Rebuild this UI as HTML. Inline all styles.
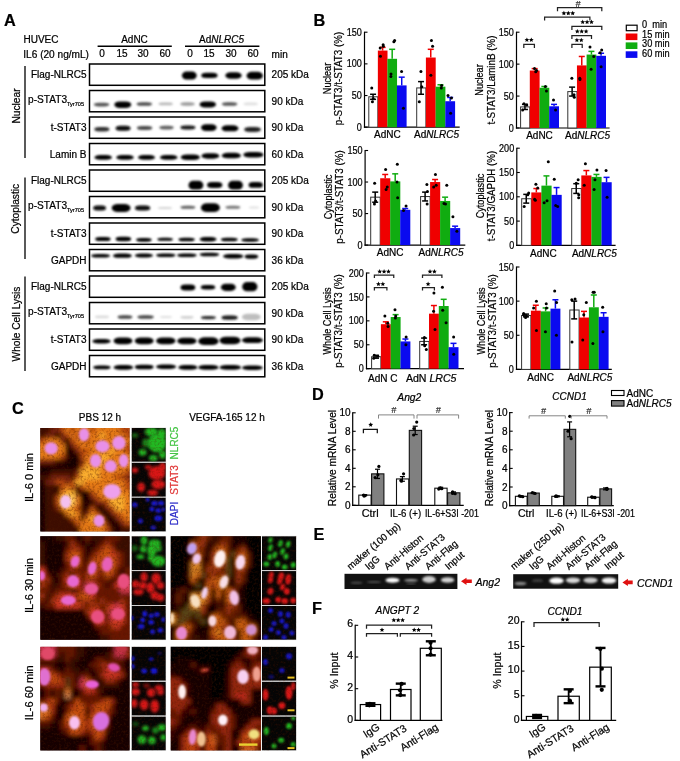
<!DOCTYPE html>
<html><head><meta charset="utf-8"><style>
html,body{margin:0;padding:0;background:#fff;width:680px;height:761px;overflow:hidden;position:relative}
text{font-family:"Liberation Sans", sans-serif}
svg{filter:blur(0.35px)}
</style></head><body>
<svg width="680" height="761" viewBox="0 0 680 761" style="position:absolute;left:0;top:0"><defs><filter id="b1" x="-50%" y="-100%" width="200%" height="300%"><feGaussianBlur stdDeviation="0.95"/></filter><filter id="b2" x="-50%" y="-50%" width="200%" height="200%"><feGaussianBlur stdDeviation="2.5"/></filter><filter id="b3" x="-50%" y="-50%" width="200%" height="200%"><feGaussianBlur stdDeviation="4"/></filter><filter id="b05" x="-50%" y="-50%" width="200%" height="200%"><feGaussianBlur stdDeviation="0.8"/></filter><filter id="pb1" x="-30%" y="-30%" width="160%" height="160%"><feGaussianBlur stdDeviation="1.2"/></filter><filter id="pb2" x="-30%" y="-30%" width="160%" height="160%"><feGaussianBlur stdDeviation="2"/></filter><filter id="pb3" x="-30%" y="-30%" width="160%" height="160%"><feGaussianBlur stdDeviation="3"/></filter><filter id="chb" x="-50%" y="-50%" width="200%" height="200%"><feGaussianBlur stdDeviation="1.5"/></filter><filter id="chs" x="-50%" y="-50%" width="200%" height="200%"><feGaussianBlur stdDeviation="1.1"/></filter><filter id="nb" x="-50%" y="-50%" width="200%" height="200%"><feGaussianBlur stdDeviation="1.0"/></filter><filter id="tex" x="0" y="0" width="100%" height="100%"><feTurbulence type="fractalNoise" baseFrequency="0.42" numOctaves="2" seed="7"/><feColorMatrix type="matrix" values="0 0 0 0 0.08  0 0 0 0 0.01  0 0 0 0 0  0 0 0 -2.5 1.35"/><feGaussianBlur stdDeviation="0.45"/></filter></defs><rect x="0.00" y="0.00" width="680.00" height="761.00" fill="#fff" stroke="none" stroke-width="1"/><text x="4.00" y="26.30" font-size="16.3" text-anchor="start" font-weight="bold" font-style="normal" fill="#000" stroke="#000" stroke-width="0.22">A</text><text x="23.50" y="42.50" font-size="10" text-anchor="start" font-weight="normal" font-style="normal" fill="#000" stroke="#000" stroke-width="0.22">HUVEC</text><text x="23.30" y="57.80" font-size="10.1" text-anchor="start" font-weight="normal" font-style="normal" fill="#000" stroke="#000" stroke-width="0.22">IL6 (20 ng/mL)</text><text x="134.50" y="42.50" font-size="10" text-anchor="middle" font-weight="normal" font-style="normal" fill="#000" stroke="#000" stroke-width="0.22">AdNC</text><line x1="97.60" y1="46.20" x2="171.80" y2="46.20" stroke="#000" stroke-width="1.4"/><text x="221.5" y="42.5" font-size="10" text-anchor="middle" stroke="#000" stroke-width="0.22">Ad<tspan font-style="italic">NLRC5</tspan></text><line x1="185.00" y1="46.20" x2="259.40" y2="46.20" stroke="#000" stroke-width="1.4"/><text x="102.00" y="57.40" font-size="10" text-anchor="middle" font-weight="normal" font-style="normal" fill="#000" stroke="#000" stroke-width="0.22">0</text><text x="122.00" y="57.40" font-size="10" text-anchor="middle" font-weight="normal" font-style="normal" fill="#000" stroke="#000" stroke-width="0.22">15</text><text x="143.00" y="57.40" font-size="10" text-anchor="middle" font-weight="normal" font-style="normal" fill="#000" stroke="#000" stroke-width="0.22">30</text><text x="165.00" y="57.40" font-size="10" text-anchor="middle" font-weight="normal" font-style="normal" fill="#000" stroke="#000" stroke-width="0.22">60</text><text x="190.00" y="57.40" font-size="10" text-anchor="middle" font-weight="normal" font-style="normal" fill="#000" stroke="#000" stroke-width="0.22">0</text><text x="209.00" y="57.40" font-size="10" text-anchor="middle" font-weight="normal" font-style="normal" fill="#000" stroke="#000" stroke-width="0.22">15</text><text x="231.00" y="57.40" font-size="10" text-anchor="middle" font-weight="normal" font-style="normal" fill="#000" stroke="#000" stroke-width="0.22">30</text><text x="253.00" y="57.40" font-size="10" text-anchor="middle" font-weight="normal" font-style="normal" fill="#000" stroke="#000" stroke-width="0.22">60</text><text x="271.60" y="57.50" font-size="10" text-anchor="start" font-weight="normal" font-style="normal" fill="#000" stroke="#000" stroke-width="0.22">min</text><g clip-path="url(#clipb0)"><clipPath id="clipb0"><rect x="89.5" y="64.0" width="175.3" height="21.3"/></clipPath><rect x="181.91" y="71.48" width="14.79" height="8.03" rx="4.73" ry="4.02" fill="rgb(0,0,0)" filter="url(#b1)"/><rect x="201.24" y="72.87" width="16.32" height="5.06" rx="5.22" ry="2.53" fill="rgb(0,0,0)" filter="url(#b1)"/><rect x="225.34" y="72.20" width="16.32" height="6.60" rx="5.22" ry="3.30" fill="rgb(0,0,0)" filter="url(#b1)"/><rect x="246.54" y="71.85" width="16.32" height="7.70" rx="5.22" ry="3.85" fill="rgb(0,0,0)" filter="url(#b1)"/></g><rect x="89.50" y="64.00" width="175.30" height="21.30" fill="none" stroke="#000" stroke-width="1.5"/><text x="86.50" y="78.25" font-size="10" text-anchor="end" font-weight="normal" font-style="normal" fill="#000" stroke="#000" stroke-width="0.22">Flag-NLRC5</text><text x="271.60" y="78.25" font-size="10" text-anchor="start" font-weight="normal" font-style="normal" fill="#000" stroke="#000" stroke-width="0.22">205 kDa</text><g clip-path="url(#clipb1)"><clipPath id="clipb1"><rect x="89.5" y="90.5" width="175.3" height="21.3"/></clipPath><rect x="93.95" y="102.78" width="15.30" height="3.63" rx="4.90" ry="1.81" fill="rgb(85,85,85)" filter="url(#b1)"/><rect x="114.38" y="101.40" width="16.83" height="6.60" rx="5.39" ry="3.30" fill="rgb(0,0,0)" filter="url(#b1)"/><rect x="136.65" y="102.19" width="15.30" height="3.63" rx="4.90" ry="1.81" fill="rgb(75,75,75)" filter="url(#b1)"/><rect x="158.56" y="102.62" width="14.28" height="2.75" rx="4.57" ry="1.38" fill="rgb(183,183,183)" filter="url(#b1)"/><rect x="180.36" y="102.35" width="14.28" height="3.30" rx="4.57" ry="1.65" fill="rgb(155,155,155)" filter="url(#b1)"/><rect x="199.64" y="101.38" width="16.32" height="6.05" rx="5.22" ry="3.03" fill="rgb(0,0,0)" filter="url(#b1)"/><rect x="221.95" y="102.19" width="15.30" height="3.63" rx="4.90" ry="1.81" fill="rgb(85,85,85)" filter="url(#b1)"/><rect x="243.56" y="102.62" width="14.28" height="2.75" rx="4.57" ry="1.38" fill="rgb(223,223,223)" filter="url(#b1)"/></g><rect x="89.50" y="90.50" width="175.30" height="21.30" fill="none" stroke="#000" stroke-width="1.5"/><text x="84" y="103.35" font-size="10.1" text-anchor="end" stroke="#000" stroke-width="0.22">p-STAT3<tspan font-size="6.0" dy="2.6" textLength="17" lengthAdjust="spacingAndGlyphs">Tyr705</tspan></text><text x="271.60" y="104.75" font-size="10" text-anchor="start" font-weight="normal" font-style="normal" fill="#000" stroke="#000" stroke-width="0.22">90 kDa</text><g clip-path="url(#clipb2)"><clipPath id="clipb2"><rect x="89.5" y="117.0" width="175.3" height="21.3"/></clipPath><rect x="94.45" y="127.00" width="14.89" height="4.40" rx="4.77" ry="2.20" fill="rgb(51,51,51)" filter="url(#b1)"/><rect x="115.65" y="125.67" width="14.89" height="5.06" rx="4.77" ry="2.53" fill="rgb(8,8,8)" filter="url(#b1)"/><rect x="136.95" y="126.08" width="15.30" height="3.85" rx="4.90" ry="1.93" fill="rgb(75,75,75)" filter="url(#b1)"/><rect x="159.36" y="125.67" width="14.28" height="3.85" rx="4.57" ry="1.93" fill="rgb(96,96,96)" filter="url(#b1)"/><rect x="180.45" y="125.58" width="14.89" height="3.85" rx="4.77" ry="1.93" fill="rgb(21,21,21)" filter="url(#b1)"/><rect x="201.00" y="124.30" width="15.61" height="6.60" rx="4.99" ry="3.30" fill="rgb(0,0,0)" filter="url(#b1)"/><rect x="221.59" y="125.28" width="16.83" height="6.05" rx="5.39" ry="3.03" fill="rgb(0,0,0)" filter="url(#b1)"/><rect x="244.09" y="127.12" width="16.83" height="4.95" rx="5.39" ry="2.48" fill="rgb(36,36,36)" filter="url(#b1)"/></g><rect x="89.50" y="117.00" width="175.30" height="21.30" fill="none" stroke="#000" stroke-width="1.5"/><text x="86.50" y="131.25" font-size="10" text-anchor="end" font-weight="normal" font-style="normal" fill="#000" stroke="#000" stroke-width="0.22">t-STAT3</text><text x="271.60" y="131.25" font-size="10" text-anchor="start" font-weight="normal" font-style="normal" fill="#000" stroke="#000" stroke-width="0.22">90 kDa</text><g clip-path="url(#clipb3)"><clipPath id="clipb3"><rect x="89.5" y="143.5" width="175.3" height="21.3"/></clipPath><rect x="94.53" y="154.98" width="17.34" height="4.84" rx="5.55" ry="2.42" fill="rgb(0,0,0)" filter="url(#b1)"/><rect x="116.33" y="154.98" width="17.34" height="4.84" rx="5.55" ry="2.42" fill="rgb(0,0,0)" filter="url(#b1)"/><rect x="138.09" y="154.98" width="16.83" height="4.84" rx="5.39" ry="2.42" fill="rgb(0,0,0)" filter="url(#b1)"/><rect x="160.03" y="154.98" width="17.34" height="4.84" rx="5.55" ry="2.42" fill="rgb(0,0,0)" filter="url(#b1)"/><rect x="180.81" y="154.55" width="18.97" height="5.50" rx="6.07" ry="2.75" fill="rgb(0,0,0)" filter="url(#b1)"/><rect x="201.47" y="153.15" width="17.85" height="5.50" rx="5.71" ry="2.75" fill="rgb(0,0,0)" filter="url(#b1)"/><rect x="221.61" y="152.85" width="19.38" height="5.50" rx="6.20" ry="2.75" fill="rgb(0,0,0)" filter="url(#b1)"/><rect x="243.30" y="151.95" width="20.20" height="5.50" rx="6.46" ry="2.75" fill="rgb(0,0,0)" filter="url(#b1)"/></g><rect x="89.50" y="143.50" width="175.30" height="21.30" fill="none" stroke="#000" stroke-width="1.5"/><text x="86.50" y="157.75" font-size="10" text-anchor="end" font-weight="normal" font-style="normal" fill="#000" stroke="#000" stroke-width="0.22">Lamin B</text><text x="271.60" y="157.75" font-size="10" text-anchor="start" font-weight="normal" font-style="normal" fill="#000" stroke="#000" stroke-width="0.22">60 kDa</text><g clip-path="url(#clipb4)"><clipPath id="clipb4"><rect x="89.5" y="170.0" width="175.3" height="21.3"/></clipPath><rect x="188.50" y="180.80" width="14.79" height="8.80" rx="4.73" ry="4.40" fill="rgb(0,0,0)" filter="url(#b1)"/><rect x="207.05" y="181.88" width="15.30" height="6.05" rx="4.90" ry="3.03" fill="rgb(0,0,0)" filter="url(#b1)"/><rect x="228.10" y="180.80" width="14.79" height="8.80" rx="4.73" ry="4.40" fill="rgb(0,0,0)" filter="url(#b1)"/><rect x="248.56" y="181.99" width="14.28" height="5.83" rx="4.57" ry="2.92" fill="rgb(0,0,0)" filter="url(#b1)"/></g><rect x="89.50" y="170.00" width="175.30" height="21.30" fill="none" stroke="#000" stroke-width="1.5"/><text x="86.50" y="184.25" font-size="10" text-anchor="end" font-weight="normal" font-style="normal" fill="#000" stroke="#000" stroke-width="0.22">Flag-NLRC5</text><text x="271.60" y="184.25" font-size="10" text-anchor="start" font-weight="normal" font-style="normal" fill="#000" stroke="#000" stroke-width="0.22">205 kDa</text><g clip-path="url(#clipb5)"><clipPath id="clipb5"><rect x="89.5" y="196.5" width="175.3" height="21.3"/></clipPath><rect x="93.17" y="205.47" width="12.85" height="5.06" rx="4.11" ry="2.53" fill="rgb(8,8,8)" filter="url(#b1)"/><rect x="111.66" y="203.99" width="18.87" height="8.03" rx="6.04" ry="4.02" fill="rgb(0,0,0)" filter="url(#b1)"/><rect x="134.95" y="205.47" width="15.30" height="5.06" rx="4.90" ry="2.53" fill="rgb(8,8,8)" filter="url(#b1)"/><rect x="157.86" y="206.90" width="14.28" height="2.20" rx="4.57" ry="1.10" fill="rgb(211,211,211)" filter="url(#b1)"/><rect x="180.50" y="205.76" width="14.79" height="3.08" rx="4.73" ry="1.54" fill="rgb(96,96,96)" filter="url(#b1)"/><rect x="200.91" y="203.30" width="18.97" height="8.80" rx="6.07" ry="4.40" fill="rgb(0,0,0)" filter="url(#b1)"/><rect x="225.50" y="205.76" width="14.79" height="3.08" rx="4.73" ry="1.54" fill="rgb(118,118,118)" filter="url(#b1)"/><rect x="248.90" y="206.40" width="10.20" height="2.20" rx="3.26" ry="1.10" fill="rgb(223,223,223)" filter="url(#b1)"/></g><rect x="89.50" y="196.50" width="175.30" height="21.30" fill="none" stroke="#000" stroke-width="1.5"/><text x="84" y="209.35" font-size="10.1" text-anchor="end" stroke="#000" stroke-width="0.22">p-STAT3<tspan font-size="6.0" dy="2.6" textLength="17" lengthAdjust="spacingAndGlyphs">Tyr705</tspan></text><text x="271.60" y="210.75" font-size="10" text-anchor="start" font-weight="normal" font-style="normal" fill="#000" stroke="#000" stroke-width="0.22">90 kDa</text><g clip-path="url(#clipb6)"><clipPath id="clipb6"><rect x="89.5" y="223.0" width="175.3" height="21.3"/></clipPath><rect x="95.15" y="236.97" width="15.50" height="4.07" rx="4.96" ry="2.04" fill="rgb(0,0,0)" filter="url(#b1)"/><rect x="115.65" y="236.80" width="15.50" height="4.40" rx="4.96" ry="2.20" fill="rgb(0,0,0)" filter="url(#b1)"/><rect x="136.15" y="237.88" width="15.50" height="3.85" rx="4.96" ry="1.93" fill="rgb(0,0,0)" filter="url(#b1)"/><rect x="157.35" y="237.66" width="15.50" height="3.08" rx="4.96" ry="1.54" fill="rgb(0,0,0)" filter="url(#b1)"/><rect x="178.44" y="237.69" width="16.32" height="3.63" rx="5.22" ry="1.81" fill="rgb(0,0,0)" filter="url(#b1)"/><rect x="199.63" y="237.00" width="16.93" height="4.40" rx="5.42" ry="2.20" fill="rgb(0,0,0)" filter="url(#b1)"/><rect x="220.89" y="237.69" width="16.83" height="3.63" rx="5.39" ry="1.81" fill="rgb(0,0,0)" filter="url(#b1)"/><rect x="241.33" y="238.35" width="17.54" height="3.30" rx="5.61" ry="1.65" fill="rgb(0,0,0)" filter="url(#b1)"/></g><rect x="89.50" y="223.00" width="175.30" height="21.30" fill="none" stroke="#000" stroke-width="1.5"/><text x="86.50" y="237.25" font-size="10" text-anchor="end" font-weight="normal" font-style="normal" fill="#000" stroke="#000" stroke-width="0.22">t-STAT3</text><text x="271.60" y="237.25" font-size="10" text-anchor="start" font-weight="normal" font-style="normal" fill="#000" stroke="#000" stroke-width="0.22">90 kDa</text><g clip-path="url(#clipb7)"><clipPath id="clipb7"><rect x="89.5" y="249.5" width="175.3" height="21.3"/></clipPath><rect x="91.16" y="253.94" width="18.87" height="3.52" rx="6.04" ry="1.76" fill="rgb(0,0,0)" filter="url(#b1)"/><rect x="112.91" y="253.61" width="18.97" height="4.18" rx="6.07" ry="2.09" fill="rgb(0,0,0)" filter="url(#b1)"/><rect x="134.82" y="253.57" width="18.16" height="3.85" rx="5.81" ry="1.93" fill="rgb(0,0,0)" filter="url(#b1)"/><rect x="156.11" y="253.38" width="19.38" height="3.63" rx="6.20" ry="1.81" fill="rgb(0,0,0)" filter="url(#b1)"/><rect x="177.11" y="253.38" width="19.58" height="3.63" rx="6.27" ry="1.81" fill="rgb(0,0,0)" filter="url(#b1)"/><rect x="199.61" y="252.69" width="19.58" height="3.63" rx="6.27" ry="1.81" fill="rgb(0,0,0)" filter="url(#b1)"/><rect x="223.00" y="254.10" width="20.40" height="4.40" rx="6.53" ry="2.20" fill="rgb(0,0,0)" filter="url(#b1)"/><rect x="244.67" y="254.57" width="13.46" height="4.07" rx="4.31" ry="2.04" fill="rgb(0,0,0)" filter="url(#b1)"/></g><rect x="89.50" y="249.50" width="175.30" height="21.30" fill="none" stroke="#000" stroke-width="1.5"/><text x="86.50" y="263.75" font-size="10" text-anchor="end" font-weight="normal" font-style="normal" fill="#000" stroke="#000" stroke-width="0.22">GAPDH</text><text x="271.60" y="263.75" font-size="10" text-anchor="start" font-weight="normal" font-style="normal" fill="#000" stroke="#000" stroke-width="0.22">36 kDa</text><g clip-path="url(#clipb8)"><clipPath id="clipb8"><rect x="89.5" y="276.0" width="175.3" height="21.3"/></clipPath><rect x="180.50" y="284.58" width="14.79" height="5.83" rx="4.73" ry="2.92" fill="rgb(0,0,0)" filter="url(#b1)"/><rect x="200.86" y="285.10" width="14.28" height="4.40" rx="4.57" ry="2.20" fill="rgb(0,0,0)" filter="url(#b1)"/><rect x="220.91" y="283.67" width="14.79" height="7.26" rx="4.73" ry="3.63" fill="rgb(0,0,0)" filter="url(#b1)"/><rect x="242.15" y="282.08" width="15.30" height="9.24" rx="4.90" ry="4.62" fill="rgb(0,0,0)" filter="url(#b1)"/></g><rect x="89.50" y="276.00" width="175.30" height="21.30" fill="none" stroke="#000" stroke-width="1.5"/><text x="86.50" y="290.25" font-size="10" text-anchor="end" font-weight="normal" font-style="normal" fill="#000" stroke="#000" stroke-width="0.22">Flag-NLRC5</text><text x="271.60" y="290.25" font-size="10" text-anchor="start" font-weight="normal" font-style="normal" fill="#000" stroke="#000" stroke-width="0.22">205 kDa</text><g clip-path="url(#clipb9)"><clipPath id="clipb9"><rect x="89.5" y="302.5" width="175.3" height="21.3"/></clipPath><rect x="94.86" y="315.62" width="14.28" height="2.75" rx="4.57" ry="1.38" fill="rgb(219,219,219)" filter="url(#b1)"/><rect x="117.61" y="315.19" width="14.79" height="3.63" rx="4.73" ry="1.81" fill="rgb(71,71,71)" filter="url(#b1)"/><rect x="137.44" y="315.19" width="16.32" height="3.63" rx="5.22" ry="1.81" fill="rgb(71,71,71)" filter="url(#b1)"/><rect x="159.88" y="315.90" width="12.24" height="2.20" rx="3.92" ry="1.10" fill="rgb(223,223,223)" filter="url(#b1)"/><rect x="180.37" y="315.93" width="13.26" height="2.75" rx="4.24" ry="1.38" fill="rgb(207,207,207)" filter="url(#b1)"/><rect x="200.95" y="316.06" width="14.89" height="3.08" rx="4.77" ry="1.54" fill="rgb(45,45,45)" filter="url(#b1)"/><rect x="221.54" y="315.40" width="16.12" height="4.40" rx="5.16" ry="2.20" fill="rgb(26,26,26)" filter="url(#b1)"/><rect x="241.87" y="313.70" width="18.87" height="6.60" rx="6.04" ry="3.30" fill="rgb(190,190,190)" filter="url(#b1)"/></g><rect x="89.50" y="302.50" width="175.30" height="21.30" fill="none" stroke="#000" stroke-width="1.5"/><text x="84" y="315.35" font-size="10.1" text-anchor="end" stroke="#000" stroke-width="0.22">p-STAT3<tspan font-size="6.0" dy="2.6" textLength="17" lengthAdjust="spacingAndGlyphs">Tyr705</tspan></text><text x="271.60" y="316.75" font-size="10" text-anchor="start" font-weight="normal" font-style="normal" fill="#000" stroke="#000" stroke-width="0.22">90 kDa</text><g clip-path="url(#clipb10)"><clipPath id="clipb10"><rect x="89.5" y="329.0" width="175.3" height="21.3"/></clipPath><rect x="92.32" y="339.00" width="18.36" height="4.40" rx="5.88" ry="2.20" fill="rgb(0,0,0)" filter="url(#b1)"/><rect x="113.56" y="337.60" width="18.87" height="6.60" rx="6.04" ry="3.30" fill="rgb(0,0,0)" filter="url(#b1)"/><rect x="134.76" y="337.60" width="18.87" height="6.60" rx="6.04" ry="3.30" fill="rgb(0,0,0)" filter="url(#b1)"/><rect x="156.11" y="337.60" width="19.38" height="6.60" rx="6.20" ry="3.30" fill="rgb(0,0,0)" filter="url(#b1)"/><rect x="177.21" y="337.87" width="19.38" height="6.27" rx="6.20" ry="3.14" fill="rgb(0,0,0)" filter="url(#b1)"/><rect x="198.30" y="337.35" width="20.20" height="7.70" rx="6.46" ry="3.85" fill="rgb(0,0,0)" filter="url(#b1)"/><rect x="219.54" y="336.65" width="20.91" height="7.70" rx="6.69" ry="3.85" fill="rgb(0,0,0)" filter="url(#b1)"/><rect x="241.94" y="337.28" width="20.91" height="5.83" rx="6.69" ry="2.92" fill="rgb(0,0,0)" filter="url(#b1)"/></g><rect x="89.50" y="329.00" width="175.30" height="21.30" fill="none" stroke="#000" stroke-width="1.5"/><text x="86.50" y="343.25" font-size="10" text-anchor="end" font-weight="normal" font-style="normal" fill="#000" stroke="#000" stroke-width="0.22">t-STAT3</text><text x="271.60" y="343.25" font-size="10" text-anchor="start" font-weight="normal" font-style="normal" fill="#000" stroke="#000" stroke-width="0.22">90 kDa</text><g clip-path="url(#clipb11)"><clipPath id="clipb11"><rect x="89.5" y="355.5" width="175.3" height="21.3"/></clipPath><rect x="93.23" y="365.58" width="17.34" height="3.63" rx="5.55" ry="1.81" fill="rgb(0,0,0)" filter="url(#b1)"/><rect x="113.71" y="365.03" width="19.38" height="4.73" rx="6.20" ry="2.37" fill="rgb(0,0,0)" filter="url(#b1)"/><rect x="134.76" y="364.63" width="18.87" height="4.73" rx="6.04" ry="2.37" fill="rgb(0,0,0)" filter="url(#b1)"/><rect x="156.00" y="364.60" width="20.20" height="4.40" rx="6.46" ry="2.20" fill="rgb(0,0,0)" filter="url(#b1)"/><rect x="178.41" y="365.03" width="18.97" height="4.73" rx="6.07" ry="2.37" fill="rgb(0,0,0)" filter="url(#b1)"/><rect x="198.30" y="365.03" width="20.20" height="4.73" rx="6.46" ry="2.37" fill="rgb(0,0,0)" filter="url(#b1)"/><rect x="219.59" y="365.03" width="21.42" height="4.73" rx="6.85" ry="2.37" fill="rgb(0,0,0)" filter="url(#b1)"/><rect x="241.94" y="365.50" width="20.91" height="4.40" rx="6.69" ry="2.20" fill="rgb(0,0,0)" filter="url(#b1)"/></g><rect x="89.50" y="355.50" width="175.30" height="21.30" fill="none" stroke="#000" stroke-width="1.5"/><text x="86.50" y="369.75" font-size="10" text-anchor="end" font-weight="normal" font-style="normal" fill="#000" stroke="#000" stroke-width="0.22">GAPDH</text><text x="271.60" y="369.75" font-size="10" text-anchor="start" font-weight="normal" font-style="normal" fill="#000" stroke="#000" stroke-width="0.22">36 kDa</text><line x1="25.00" y1="66.00" x2="25.00" y2="158.00" stroke="#000" stroke-width="1.3"/><line x1="25.00" y1="177.60" x2="25.00" y2="259.00" stroke="#000" stroke-width="1.3"/><line x1="25.00" y1="276.60" x2="25.00" y2="371.00" stroke="#000" stroke-width="1.3"/><text x="19.50" y="106.00" font-size="10.2" text-anchor="middle" font-weight="normal" font-style="normal" fill="#000" stroke="#000" stroke-width="0.22" transform="rotate(-90 19.5 106)">Nuclear</text><text x="19.50" y="208.80" font-size="10.2" text-anchor="middle" font-weight="normal" font-style="normal" fill="#000" stroke="#000" stroke-width="0.22" transform="rotate(-90 19.5 208.8)">Cytoplastic</text><text x="19.50" y="324.00" font-size="10.2" text-anchor="middle" font-weight="normal" font-style="normal" fill="#000" stroke="#000" stroke-width="0.22" transform="rotate(-90 19.5 324)">Whole Cell Lysis</text><text x="313.50" y="25.80" font-size="16.3" text-anchor="start" font-weight="bold" font-style="normal" fill="#000" stroke="#000" stroke-width="0.22">B</text><line x1="364.50" y1="31.70" x2="364.50" y2="127.80" stroke="#000" stroke-width="1.2"/><line x1="363.90" y1="127.20" x2="459.70" y2="127.20" stroke="#000" stroke-width="1.2"/><line x1="364.50" y1="127.20" x2="367.50" y2="127.20" stroke="#000" stroke-width="1.1"/><text x="361.90" y="130.80" font-size="10.3" text-anchor="end" font-weight="normal" font-style="normal" fill="#000" stroke="#000" stroke-width="0.22" textLength="5.04" lengthAdjust="spacingAndGlyphs">0</text><line x1="364.50" y1="95.53" x2="367.50" y2="95.53" stroke="#000" stroke-width="1.1"/><text x="361.90" y="99.13" font-size="10.3" text-anchor="end" font-weight="normal" font-style="normal" fill="#000" stroke="#000" stroke-width="0.22" textLength="10.08" lengthAdjust="spacingAndGlyphs">50</text><line x1="364.50" y1="63.87" x2="367.50" y2="63.87" stroke="#000" stroke-width="1.1"/><text x="361.90" y="67.47" font-size="10.3" text-anchor="end" font-weight="normal" font-style="normal" fill="#000" stroke="#000" stroke-width="0.22" textLength="15.12" lengthAdjust="spacingAndGlyphs">100</text><line x1="364.50" y1="32.20" x2="367.50" y2="32.20" stroke="#000" stroke-width="1.1"/><text x="361.90" y="35.80" font-size="10.3" text-anchor="end" font-weight="normal" font-style="normal" fill="#000" stroke="#000" stroke-width="0.22" textLength="15.12" lengthAdjust="spacingAndGlyphs">150</text><rect x="368.80" y="96.80" width="9.05" height="30.40" fill="#fff" stroke="#333" stroke-width="1.0"/><line x1="373.07" y1="96.80" x2="373.07" y2="94.27" stroke="#000" stroke-width="1.5"/><line x1="370.07" y1="94.27" x2="376.07" y2="94.27" stroke="#000" stroke-width="1.5"/><line x1="373.07" y1="96.80" x2="373.07" y2="99.33" stroke="#000" stroke-width="1.5"/><line x1="370.07" y1="99.33" x2="376.07" y2="99.33" stroke="#000" stroke-width="1.5"/><circle cx="371.76" cy="87.93" r="1.5" fill="#000"/><circle cx="373.30" cy="98.70" r="1.5" fill="#000"/><circle cx="372.42" cy="101.87" r="1.5" fill="#000"/><rect x="377.85" y="50.57" width="9.65" height="76.63" fill="#f00000" stroke="none" stroke-width="1"/><line x1="382.62" y1="50.57" x2="382.62" y2="47.40" stroke="#f00000" stroke-width="1.5"/><line x1="379.62" y1="47.40" x2="385.62" y2="47.40" stroke="#f00000" stroke-width="1.5"/><circle cx="383.14" cy="44.87" r="1.5" fill="#000"/><circle cx="383.25" cy="46.13" r="1.5" fill="#000"/><circle cx="380.45" cy="56.27" r="1.5" fill="#000"/><circle cx="380.19" cy="48.03" r="1.5" fill="#000"/><rect x="387.40" y="58.80" width="9.65" height="68.40" fill="#10ac10" stroke="none" stroke-width="1"/><line x1="392.18" y1="58.80" x2="392.18" y2="49.30" stroke="#10ac10" stroke-width="1.5"/><line x1="389.18" y1="49.30" x2="395.18" y2="49.30" stroke="#10ac10" stroke-width="1.5"/><circle cx="393.86" cy="41.70" r="1.5" fill="#000"/><circle cx="390.97" cy="74.00" r="1.5" fill="#000"/><circle cx="390.85" cy="76.53" r="1.5" fill="#000"/><circle cx="394.65" cy="40.43" r="1.5" fill="#000"/><rect x="396.95" y="85.40" width="9.65" height="41.80" fill="#0a0af0" stroke="none" stroke-width="1"/><line x1="401.72" y1="85.40" x2="401.72" y2="77.17" stroke="#0a0af0" stroke-width="1.5"/><line x1="398.72" y1="77.17" x2="404.72" y2="77.17" stroke="#0a0af0" stroke-width="1.5"/><circle cx="401.58" cy="71.47" r="1.5" fill="#000"/><circle cx="403.41" cy="108.20" r="1.5" fill="#000"/><rect x="416.70" y="87.93" width="9.20" height="39.27" fill="#fff" stroke="#333" stroke-width="1.0"/><line x1="421.05" y1="87.93" x2="421.05" y2="81.60" stroke="#000" stroke-width="1.5"/><line x1="418.05" y1="81.60" x2="424.05" y2="81.60" stroke="#000" stroke-width="1.5"/><line x1="421.05" y1="87.93" x2="421.05" y2="94.27" stroke="#000" stroke-width="1.5"/><line x1="418.05" y1="94.27" x2="424.05" y2="94.27" stroke="#000" stroke-width="1.5"/><circle cx="420.93" cy="71.47" r="1.5" fill="#000"/><circle cx="421.75" cy="86.67" r="1.5" fill="#000"/><circle cx="419.30" cy="101.87" r="1.5" fill="#000"/><rect x="425.90" y="57.53" width="9.80" height="69.67" fill="#f00000" stroke="none" stroke-width="1"/><line x1="430.75" y1="57.53" x2="430.75" y2="49.30" stroke="#f00000" stroke-width="1.5"/><line x1="427.75" y1="49.30" x2="433.75" y2="49.30" stroke="#f00000" stroke-width="1.5"/><circle cx="431.42" cy="40.43" r="1.5" fill="#000"/><circle cx="432.59" cy="46.13" r="1.5" fill="#000"/><circle cx="430.87" cy="75.27" r="1.5" fill="#000"/><rect x="435.60" y="86.67" width="9.80" height="40.53" fill="#10ac10" stroke="none" stroke-width="1"/><line x1="440.45" y1="86.67" x2="440.45" y2="84.77" stroke="#10ac10" stroke-width="1.5"/><line x1="437.45" y1="84.77" x2="443.45" y2="84.77" stroke="#10ac10" stroke-width="1.5"/><circle cx="441.66" cy="85.40" r="1.5" fill="#000"/><circle cx="441.31" cy="87.93" r="1.5" fill="#000"/><rect x="445.30" y="101.23" width="9.80" height="25.97" fill="#0a0af0" stroke="none" stroke-width="1"/><line x1="450.15" y1="101.23" x2="450.15" y2="97.43" stroke="#0a0af0" stroke-width="1.5"/><line x1="447.15" y1="97.43" x2="453.15" y2="97.43" stroke="#0a0af0" stroke-width="1.5"/><circle cx="447.97" cy="95.53" r="1.5" fill="#000"/><circle cx="451.44" cy="98.07" r="1.5" fill="#000"/><circle cx="450.61" cy="113.27" r="1.5" fill="#000"/><text x="387.40" y="137.60" font-size="10" text-anchor="middle" font-weight="normal" font-style="normal" fill="#000" stroke="#000" stroke-width="0.22">AdNC</text><text x="436.60" y="137.6" font-size="10" text-anchor="middle" stroke="#000" stroke-width="0.22">Ad<tspan font-style="italic">NLRC5</tspan></text><text x="331.20" y="78.50" font-size="10.486" text-anchor="middle" font-weight="normal" font-style="normal" fill="#000" stroke="#000" stroke-width="0.22" transform="rotate(-90 331.2 78.5)" textLength="31.40" lengthAdjust="spacingAndGlyphs">Nuclear</text><text x="342.30" y="78.50" font-size="10.486" text-anchor="middle" font-weight="normal" font-style="normal" fill="#000" stroke="#000" stroke-width="0.22" transform="rotate(-90 342.3 78.5)" textLength="93.46" lengthAdjust="spacingAndGlyphs">p-STAT3/t-STAT3 (%)</text><line x1="516.50" y1="31.70" x2="516.50" y2="128.60" stroke="#000" stroke-width="1.2"/><line x1="515.90" y1="128.00" x2="609.60" y2="128.00" stroke="#000" stroke-width="1.2"/><line x1="516.50" y1="128.00" x2="519.50" y2="128.00" stroke="#000" stroke-width="1.1"/><text x="513.90" y="131.60" font-size="10.3" text-anchor="end" font-weight="normal" font-style="normal" fill="#000" stroke="#000" stroke-width="0.22" textLength="5.04" lengthAdjust="spacingAndGlyphs">0</text><line x1="516.50" y1="96.07" x2="519.50" y2="96.07" stroke="#000" stroke-width="1.1"/><text x="513.90" y="99.67" font-size="10.3" text-anchor="end" font-weight="normal" font-style="normal" fill="#000" stroke="#000" stroke-width="0.22" textLength="10.08" lengthAdjust="spacingAndGlyphs">50</text><line x1="516.50" y1="64.13" x2="519.50" y2="64.13" stroke="#000" stroke-width="1.1"/><text x="513.90" y="67.73" font-size="10.3" text-anchor="end" font-weight="normal" font-style="normal" fill="#000" stroke="#000" stroke-width="0.22" textLength="15.12" lengthAdjust="spacingAndGlyphs">100</text><line x1="516.50" y1="32.20" x2="519.50" y2="32.20" stroke="#000" stroke-width="1.1"/><text x="513.90" y="35.80" font-size="10.3" text-anchor="end" font-weight="normal" font-style="normal" fill="#000" stroke="#000" stroke-width="0.22" textLength="15.12" lengthAdjust="spacingAndGlyphs">150</text><rect x="520.60" y="106.92" width="9.20" height="21.08" fill="#fff" stroke="#333" stroke-width="1.0"/><line x1="524.95" y1="106.92" x2="524.95" y2="104.37" stroke="#000" stroke-width="1.5"/><line x1="521.95" y1="104.37" x2="527.95" y2="104.37" stroke="#000" stroke-width="1.5"/><line x1="524.95" y1="106.92" x2="524.95" y2="109.48" stroke="#000" stroke-width="1.5"/><line x1="521.95" y1="109.48" x2="527.95" y2="109.48" stroke="#000" stroke-width="1.5"/><circle cx="523.96" cy="103.73" r="1.5" fill="#000"/><circle cx="522.61" cy="110.12" r="1.5" fill="#000"/><circle cx="526.78" cy="105.01" r="1.5" fill="#000"/><rect x="529.80" y="70.52" width="9.80" height="57.48" fill="#f00000" stroke="none" stroke-width="1"/><line x1="534.65" y1="70.52" x2="534.65" y2="68.60" stroke="#f00000" stroke-width="1.5"/><line x1="531.65" y1="68.60" x2="537.65" y2="68.60" stroke="#f00000" stroke-width="1.5"/><circle cx="534.51" cy="68.60" r="1.5" fill="#000"/><circle cx="535.74" cy="71.80" r="1.5" fill="#000"/><circle cx="536.54" cy="70.52" r="1.5" fill="#000"/><rect x="539.50" y="87.76" width="9.80" height="40.24" fill="#10ac10" stroke="none" stroke-width="1"/><line x1="544.35" y1="87.76" x2="544.35" y2="86.49" stroke="#10ac10" stroke-width="1.5"/><line x1="541.35" y1="86.49" x2="547.35" y2="86.49" stroke="#10ac10" stroke-width="1.5"/><circle cx="545.42" cy="86.49" r="1.5" fill="#000"/><circle cx="546.46" cy="90.96" r="1.5" fill="#000"/><rect x="549.20" y="106.29" width="9.80" height="21.71" fill="#0a0af0" stroke="none" stroke-width="1"/><line x1="554.05" y1="106.29" x2="554.05" y2="104.37" stroke="#0a0af0" stroke-width="1.5"/><line x1="551.05" y1="104.37" x2="557.05" y2="104.37" stroke="#0a0af0" stroke-width="1.5"/><circle cx="553.52" cy="99.90" r="1.5" fill="#000"/><circle cx="555.55" cy="110.12" r="1.5" fill="#000"/><rect x="567.80" y="91.60" width="9.15" height="36.40" fill="#fff" stroke="#333" stroke-width="1.0"/><line x1="572.12" y1="91.60" x2="572.12" y2="87.13" stroke="#000" stroke-width="1.5"/><line x1="569.12" y1="87.13" x2="575.12" y2="87.13" stroke="#000" stroke-width="1.5"/><line x1="572.12" y1="91.60" x2="572.12" y2="96.07" stroke="#000" stroke-width="1.5"/><line x1="569.12" y1="96.07" x2="575.12" y2="96.07" stroke="#000" stroke-width="1.5"/><circle cx="571.85" cy="78.18" r="1.5" fill="#000"/><circle cx="574.30" cy="97.34" r="1.5" fill="#000"/><circle cx="574.02" cy="94.79" r="1.5" fill="#000"/><rect x="576.95" y="65.41" width="9.75" height="62.59" fill="#f00000" stroke="none" stroke-width="1"/><line x1="581.77" y1="65.41" x2="581.77" y2="56.47" stroke="#f00000" stroke-width="1.5"/><line x1="578.77" y1="56.47" x2="584.77" y2="56.47" stroke="#f00000" stroke-width="1.5"/><circle cx="579.76" cy="78.18" r="1.5" fill="#000"/><circle cx="579.95" cy="79.46" r="1.5" fill="#000"/><rect x="586.60" y="54.55" width="9.75" height="73.45" fill="#10ac10" stroke="none" stroke-width="1"/><line x1="591.42" y1="54.55" x2="591.42" y2="51.36" stroke="#10ac10" stroke-width="1.5"/><line x1="588.42" y1="51.36" x2="594.42" y2="51.36" stroke="#10ac10" stroke-width="1.5"/><circle cx="590.01" cy="46.89" r="1.5" fill="#000"/><circle cx="593.75" cy="56.47" r="1.5" fill="#000"/><circle cx="591.11" cy="69.24" r="1.5" fill="#000"/><rect x="596.25" y="55.83" width="9.75" height="72.17" fill="#0a0af0" stroke="none" stroke-width="1"/><line x1="601.08" y1="55.83" x2="601.08" y2="53.28" stroke="#0a0af0" stroke-width="1.5"/><line x1="598.08" y1="53.28" x2="604.08" y2="53.28" stroke="#0a0af0" stroke-width="1.5"/><circle cx="601.71" cy="50.08" r="1.5" fill="#000"/><circle cx="600.08" cy="52.64" r="1.5" fill="#000"/><circle cx="601.11" cy="66.69" r="1.5" fill="#000"/><text x="539.50" y="138.60" font-size="10" text-anchor="middle" font-weight="normal" font-style="normal" fill="#000" stroke="#000" stroke-width="0.22">AdNC</text><text x="587.60" y="138.6" font-size="10" text-anchor="middle" stroke="#000" stroke-width="0.22">Ad<tspan font-style="italic">NLRC5</tspan></text><text x="483.00" y="80.00" font-size="10.486" text-anchor="middle" font-weight="normal" font-style="normal" fill="#000" stroke="#000" stroke-width="0.22" transform="rotate(-90 483 80)" textLength="31.40" lengthAdjust="spacingAndGlyphs">Nuclear</text><text x="494.50" y="80.00" font-size="10.486" text-anchor="middle" font-weight="normal" font-style="normal" fill="#000" stroke="#000" stroke-width="0.22" transform="rotate(-90 494.5 80)" textLength="88.94" lengthAdjust="spacingAndGlyphs">t-STAT3/LaminB (%)</text><polyline points="523.8,47.9 523.8,44.3 534.4,44.3 534.4,47.9" fill="none" stroke="#222" stroke-width="1.25"/><polygon points="526.90,37.40 527.58,38.97 529.28,39.13 527.99,40.26 528.37,41.92 526.90,41.05 525.43,41.92 525.81,40.26 524.52,39.13 526.22,38.97" fill="#000"/><polygon points="531.30,37.40 531.98,38.97 533.68,39.13 532.39,40.26 532.77,41.92 531.30,41.05 529.83,41.92 530.21,40.26 528.92,39.13 530.62,38.97" fill="#000"/><polyline points="557.5,11.3 557.5,7.7 601.8,7.7 601.8,11.3" fill="none" stroke="#222" stroke-width="1.25"/><text x="578.10" y="7.10" font-size="9" text-anchor="middle" font-weight="normal" font-style="italic" fill="#333" stroke="#333" stroke-width="0.22">#</text><polyline points="544.6,20.6 544.6,17 589.9,17 589.9,20.6" fill="none" stroke="#222" stroke-width="1.25"/><polygon points="563.90,10.80 564.58,12.37 566.28,12.53 564.99,13.66 565.37,15.32 563.90,14.45 562.43,15.32 562.81,13.66 561.52,12.53 563.22,12.37" fill="#000"/><polygon points="568.30,10.80 568.98,12.37 570.68,12.53 569.39,13.66 569.77,15.32 568.30,14.45 566.83,15.32 567.21,13.66 565.92,12.53 567.62,12.37" fill="#000"/><polygon points="572.70,10.80 573.38,12.37 575.08,12.53 573.79,13.66 574.17,15.32 572.70,14.45 571.23,15.32 571.61,13.66 570.32,12.53 572.02,12.37" fill="#000"/><polyline points="571.9,29.900000000000002 571.9,26.3 601.8,26.3 601.8,29.900000000000002" fill="none" stroke="#222" stroke-width="1.25"/><polygon points="582.70,19.60 583.38,21.17 585.08,21.33 583.79,22.46 584.17,24.12 582.70,23.25 581.23,24.12 581.61,22.46 580.32,21.33 582.02,21.17" fill="#000"/><polygon points="587.10,19.60 587.78,21.17 589.48,21.33 588.19,22.46 588.57,24.12 587.10,23.25 585.63,24.12 586.01,22.46 584.72,21.33 586.42,21.17" fill="#000"/><polygon points="591.50,19.60 592.18,21.17 593.88,21.33 592.59,22.46 592.97,24.12 591.50,23.25 590.03,24.12 590.41,22.46 589.12,21.33 590.82,21.17" fill="#000"/><polyline points="571.9,39.1 571.9,35.5 591.5,35.5 591.5,39.1" fill="none" stroke="#222" stroke-width="1.25"/><polygon points="577.30,28.90 577.98,30.47 579.68,30.63 578.39,31.76 578.77,33.42 577.30,32.55 575.83,33.42 576.21,31.76 574.92,30.63 576.62,30.47" fill="#000"/><polygon points="581.70,28.90 582.38,30.47 584.08,30.63 582.79,31.76 583.17,33.42 581.70,32.55 580.23,33.42 580.61,31.76 579.32,30.63 581.02,30.47" fill="#000"/><polygon points="586.10,28.90 586.78,30.47 588.48,30.63 587.19,31.76 587.57,33.42 586.10,32.55 584.63,33.42 585.01,31.76 583.72,30.63 585.42,30.47" fill="#000"/><polyline points="571.9,47.9 571.9,44.3 582.2,44.3 582.2,47.9" fill="none" stroke="#222" stroke-width="1.25"/><polygon points="576.90,37.70 577.58,39.27 579.28,39.43 577.99,40.56 578.37,42.22 576.90,41.35 575.43,42.22 575.81,40.56 574.52,39.43 576.22,39.27" fill="#000"/><polygon points="581.30,37.70 581.98,39.27 583.68,39.43 582.39,40.56 582.77,42.22 581.30,41.35 579.83,42.22 580.21,40.56 578.92,39.43 580.62,39.27" fill="#000"/><rect x="626.30" y="25.20" width="10.80" height="5.50" fill="#fff" stroke="#000" stroke-width="1.2"/><text x="642.00" y="28.40" font-size="10.5" text-anchor="start" font-weight="normal" font-style="normal" fill="#000" stroke="#000" stroke-width="0.22" textLength="25.16" lengthAdjust="spacingAndGlyphs">0&#160;&#160;min</text><rect x="625.70" y="33.50" width="11.70" height="6.60" fill="#f00000" stroke="none" stroke-width="1"/><text x="642.00" y="37.90" font-size="10.5" text-anchor="start" font-weight="normal" font-style="normal" fill="#000" stroke="#000" stroke-width="0.22" textLength="27.73" lengthAdjust="spacingAndGlyphs">15 min</text><rect x="625.70" y="42.40" width="11.70" height="6.60" fill="#10ac10" stroke="none" stroke-width="1"/><text x="642.00" y="47.40" font-size="10.5" text-anchor="start" font-weight="normal" font-style="normal" fill="#000" stroke="#000" stroke-width="0.22" textLength="27.73" lengthAdjust="spacingAndGlyphs">30 min</text><rect x="625.70" y="51.30" width="11.70" height="6.60" fill="#0a0af0" stroke="none" stroke-width="1"/><text x="642.00" y="56.90" font-size="10.5" text-anchor="start" font-weight="normal" font-style="normal" fill="#000" stroke="#000" stroke-width="0.22" textLength="27.73" lengthAdjust="spacingAndGlyphs">60 min</text><line x1="365.10" y1="150.00" x2="365.10" y2="245.70" stroke="#000" stroke-width="1.2"/><line x1="364.50" y1="245.10" x2="465.30" y2="245.10" stroke="#000" stroke-width="1.2"/><line x1="365.10" y1="245.10" x2="368.10" y2="245.10" stroke="#000" stroke-width="1.1"/><text x="362.50" y="248.70" font-size="10.3" text-anchor="end" font-weight="normal" font-style="normal" fill="#000" stroke="#000" stroke-width="0.22" textLength="5.04" lengthAdjust="spacingAndGlyphs">0</text><line x1="365.10" y1="213.57" x2="368.10" y2="213.57" stroke="#000" stroke-width="1.1"/><text x="362.50" y="217.17" font-size="10.3" text-anchor="end" font-weight="normal" font-style="normal" fill="#000" stroke="#000" stroke-width="0.22" textLength="10.08" lengthAdjust="spacingAndGlyphs">50</text><line x1="365.10" y1="182.03" x2="368.10" y2="182.03" stroke="#000" stroke-width="1.1"/><text x="362.50" y="185.63" font-size="10.3" text-anchor="end" font-weight="normal" font-style="normal" fill="#000" stroke="#000" stroke-width="0.22" textLength="15.12" lengthAdjust="spacingAndGlyphs">100</text><line x1="365.10" y1="150.50" x2="368.10" y2="150.50" stroke="#000" stroke-width="1.1"/><text x="362.50" y="154.10" font-size="10.3" text-anchor="end" font-weight="normal" font-style="normal" fill="#000" stroke="#000" stroke-width="0.22" textLength="15.12" lengthAdjust="spacingAndGlyphs">150</text><rect x="370.70" y="197.17" width="9.50" height="47.93" fill="#fff" stroke="#333" stroke-width="1.0"/><line x1="375.20" y1="197.17" x2="375.20" y2="192.12" stroke="#000" stroke-width="1.5"/><line x1="372.20" y1="192.12" x2="378.20" y2="192.12" stroke="#000" stroke-width="1.5"/><line x1="375.20" y1="197.17" x2="375.20" y2="202.21" stroke="#000" stroke-width="1.5"/><line x1="372.20" y1="202.21" x2="378.20" y2="202.21" stroke="#000" stroke-width="1.5"/><circle cx="374.63" cy="183.29" r="1.5" fill="#000"/><circle cx="374.45" cy="204.11" r="1.5" fill="#000"/><circle cx="375.63" cy="200.95" r="1.5" fill="#000"/><rect x="380.20" y="178.25" width="10.10" height="66.85" fill="#f00000" stroke="none" stroke-width="1"/><line x1="385.20" y1="178.25" x2="385.20" y2="174.47" stroke="#f00000" stroke-width="1.5"/><line x1="382.20" y1="174.47" x2="388.20" y2="174.47" stroke="#f00000" stroke-width="1.5"/><circle cx="385.62" cy="169.42" r="1.5" fill="#000"/><circle cx="387.22" cy="187.08" r="1.5" fill="#000"/><circle cx="386.11" cy="189.60" r="1.5" fill="#000"/><rect x="390.20" y="181.40" width="10.10" height="63.70" fill="#10ac10" stroke="none" stroke-width="1"/><line x1="395.20" y1="181.40" x2="395.20" y2="173.83" stroke="#10ac10" stroke-width="1.5"/><line x1="392.20" y1="173.83" x2="398.20" y2="173.83" stroke="#10ac10" stroke-width="1.5"/><circle cx="397.34" cy="164.37" r="1.5" fill="#000"/><circle cx="396.98" cy="182.03" r="1.5" fill="#000"/><circle cx="397.65" cy="197.80" r="1.5" fill="#000"/><rect x="400.20" y="209.78" width="10.10" height="35.32" fill="#0a0af0" stroke="none" stroke-width="1"/><line x1="405.20" y1="209.78" x2="405.20" y2="208.52" stroke="#0a0af0" stroke-width="1.5"/><line x1="402.20" y1="208.52" x2="408.20" y2="208.52" stroke="#0a0af0" stroke-width="1.5"/><circle cx="406.06" cy="206.00" r="1.5" fill="#000"/><circle cx="403.52" cy="210.41" r="1.5" fill="#000"/><rect x="420.60" y="196.54" width="9.50" height="48.56" fill="#fff" stroke="#333" stroke-width="1.0"/><line x1="425.10" y1="196.54" x2="425.10" y2="192.12" stroke="#000" stroke-width="1.5"/><line x1="422.10" y1="192.12" x2="428.10" y2="192.12" stroke="#000" stroke-width="1.5"/><line x1="425.10" y1="196.54" x2="425.10" y2="200.95" stroke="#000" stroke-width="1.5"/><line x1="422.10" y1="200.95" x2="428.10" y2="200.95" stroke="#000" stroke-width="1.5"/><circle cx="426.90" cy="184.56" r="1.5" fill="#000"/><circle cx="427.42" cy="191.49" r="1.5" fill="#000"/><circle cx="427.12" cy="204.11" r="1.5" fill="#000"/><rect x="430.10" y="182.03" width="10.10" height="63.07" fill="#f00000" stroke="none" stroke-width="1"/><line x1="435.10" y1="182.03" x2="435.10" y2="179.51" stroke="#f00000" stroke-width="1.5"/><line x1="432.10" y1="179.51" x2="438.10" y2="179.51" stroke="#f00000" stroke-width="1.5"/><circle cx="435.45" cy="174.47" r="1.5" fill="#000"/><circle cx="436.17" cy="185.19" r="1.5" fill="#000"/><circle cx="433.66" cy="187.08" r="1.5" fill="#000"/><rect x="440.10" y="200.95" width="10.10" height="44.15" fill="#10ac10" stroke="none" stroke-width="1"/><line x1="445.10" y1="200.95" x2="445.10" y2="197.17" stroke="#10ac10" stroke-width="1.5"/><line x1="442.10" y1="197.17" x2="448.10" y2="197.17" stroke="#10ac10" stroke-width="1.5"/><circle cx="446.76" cy="185.19" r="1.5" fill="#000"/><circle cx="445.47" cy="204.11" r="1.5" fill="#000"/><circle cx="444.02" cy="203.48" r="1.5" fill="#000"/><rect x="450.10" y="228.07" width="10.10" height="17.03" fill="#0a0af0" stroke="none" stroke-width="1"/><line x1="455.10" y1="228.07" x2="455.10" y2="226.18" stroke="#0a0af0" stroke-width="1.5"/><line x1="452.10" y1="226.18" x2="458.10" y2="226.18" stroke="#0a0af0" stroke-width="1.5"/><circle cx="452.92" cy="216.72" r="1.5" fill="#000"/><circle cx="456.87" cy="231.23" r="1.5" fill="#000"/><text x="390.20" y="255.80" font-size="10" text-anchor="middle" font-weight="normal" font-style="normal" fill="#000" stroke="#000" stroke-width="0.22">AdNC</text><text x="441.10" y="255.8" font-size="10" text-anchor="middle" stroke="#000" stroke-width="0.22">Ad<tspan font-style="italic">NLRC5</tspan></text><text x="331.50" y="197.00" font-size="10.486" text-anchor="middle" font-weight="normal" font-style="normal" fill="#000" stroke="#000" stroke-width="0.22" transform="rotate(-90 331.5 197)" textLength="44.57" lengthAdjust="spacingAndGlyphs">Cytoplastic</text><text x="343.00" y="197.00" font-size="10.486" text-anchor="middle" font-weight="normal" font-style="normal" fill="#000" stroke="#000" stroke-width="0.22" transform="rotate(-90 343 197)" textLength="93.46" lengthAdjust="spacingAndGlyphs">p-STAT3/t-STAT3 (%)</text><line x1="516.80" y1="147.70" x2="516.80" y2="246.00" stroke="#000" stroke-width="1.2"/><line x1="516.20" y1="245.40" x2="615.60" y2="245.40" stroke="#000" stroke-width="1.2"/><line x1="516.80" y1="245.40" x2="519.80" y2="245.40" stroke="#000" stroke-width="1.1"/><text x="514.20" y="249.00" font-size="10.3" text-anchor="end" font-weight="normal" font-style="normal" fill="#000" stroke="#000" stroke-width="0.22" textLength="5.04" lengthAdjust="spacingAndGlyphs">0</text><line x1="516.80" y1="221.10" x2="519.80" y2="221.10" stroke="#000" stroke-width="1.1"/><text x="514.20" y="224.70" font-size="10.3" text-anchor="end" font-weight="normal" font-style="normal" fill="#000" stroke="#000" stroke-width="0.22" textLength="10.08" lengthAdjust="spacingAndGlyphs">50</text><line x1="516.80" y1="196.80" x2="519.80" y2="196.80" stroke="#000" stroke-width="1.1"/><text x="514.20" y="200.40" font-size="10.3" text-anchor="end" font-weight="normal" font-style="normal" fill="#000" stroke="#000" stroke-width="0.22" textLength="15.12" lengthAdjust="spacingAndGlyphs">100</text><line x1="516.80" y1="172.50" x2="519.80" y2="172.50" stroke="#000" stroke-width="1.1"/><text x="514.20" y="176.10" font-size="10.3" text-anchor="end" font-weight="normal" font-style="normal" fill="#000" stroke="#000" stroke-width="0.22" textLength="15.12" lengthAdjust="spacingAndGlyphs">150</text><line x1="516.80" y1="148.20" x2="519.80" y2="148.20" stroke="#000" stroke-width="1.1"/><text x="514.20" y="151.80" font-size="10.3" text-anchor="end" font-weight="normal" font-style="normal" fill="#000" stroke="#000" stroke-width="0.22" textLength="15.12" lengthAdjust="spacingAndGlyphs">200</text><rect x="521.70" y="198.74" width="9.60" height="46.66" fill="#fff" stroke="#333" stroke-width="1.0"/><line x1="526.25" y1="198.74" x2="526.25" y2="194.37" stroke="#000" stroke-width="1.5"/><line x1="523.25" y1="194.37" x2="529.25" y2="194.37" stroke="#000" stroke-width="1.5"/><line x1="526.25" y1="198.74" x2="526.25" y2="203.12" stroke="#000" stroke-width="1.5"/><line x1="523.25" y1="203.12" x2="529.25" y2="203.12" stroke="#000" stroke-width="1.5"/><circle cx="528.70" cy="192.91" r="1.5" fill="#000"/><circle cx="524.19" cy="206.52" r="1.5" fill="#000"/><circle cx="527.75" cy="194.86" r="1.5" fill="#000"/><rect x="531.30" y="192.43" width="10.20" height="52.97" fill="#f00000" stroke="none" stroke-width="1"/><line x1="536.35" y1="192.43" x2="536.35" y2="188.54" stroke="#f00000" stroke-width="1.5"/><line x1="533.35" y1="188.54" x2="539.35" y2="188.54" stroke="#f00000" stroke-width="1.5"/><circle cx="535.90" cy="184.16" r="1.5" fill="#000"/><circle cx="534.60" cy="199.23" r="1.5" fill="#000"/><circle cx="535.32" cy="200.20" r="1.5" fill="#000"/><circle cx="537.69" cy="188.05" r="1.5" fill="#000"/><rect x="541.40" y="185.62" width="10.20" height="59.78" fill="#10ac10" stroke="none" stroke-width="1"/><line x1="546.45" y1="185.62" x2="546.45" y2="175.90" stroke="#10ac10" stroke-width="1.5"/><line x1="543.45" y1="175.90" x2="549.45" y2="175.90" stroke="#10ac10" stroke-width="1.5"/><circle cx="548.31" cy="161.81" r="1.5" fill="#000"/><circle cx="544.17" cy="202.63" r="1.5" fill="#000"/><circle cx="547.02" cy="200.69" r="1.5" fill="#000"/><rect x="551.50" y="194.86" width="10.20" height="50.54" fill="#0a0af0" stroke="none" stroke-width="1"/><line x1="556.55" y1="194.86" x2="556.55" y2="187.57" stroke="#0a0af0" stroke-width="1.5"/><line x1="553.55" y1="187.57" x2="559.55" y2="187.57" stroke="#0a0af0" stroke-width="1.5"/><circle cx="554.27" cy="179.30" r="1.5" fill="#000"/><circle cx="557.64" cy="206.52" r="1.5" fill="#000"/><circle cx="555.70" cy="205.55" r="1.5" fill="#000"/><rect x="571.70" y="188.54" width="9.60" height="56.86" fill="#fff" stroke="#333" stroke-width="1.0"/><line x1="576.25" y1="188.54" x2="576.25" y2="183.68" stroke="#000" stroke-width="1.5"/><line x1="573.25" y1="183.68" x2="579.25" y2="183.68" stroke="#000" stroke-width="1.5"/><line x1="576.25" y1="188.54" x2="576.25" y2="193.40" stroke="#000" stroke-width="1.5"/><line x1="573.25" y1="193.40" x2="579.25" y2="193.40" stroke="#000" stroke-width="1.5"/><circle cx="578.15" cy="179.79" r="1.5" fill="#000"/><circle cx="578.65" cy="197.77" r="1.5" fill="#000"/><circle cx="576.28" cy="183.19" r="1.5" fill="#000"/><circle cx="578.74" cy="194.86" r="1.5" fill="#000"/><rect x="581.30" y="175.42" width="10.20" height="69.98" fill="#f00000" stroke="none" stroke-width="1"/><line x1="586.35" y1="175.42" x2="586.35" y2="170.56" stroke="#f00000" stroke-width="1.5"/><line x1="583.35" y1="170.56" x2="589.35" y2="170.56" stroke="#f00000" stroke-width="1.5"/><circle cx="585.40" cy="163.75" r="1.5" fill="#000"/><circle cx="584.23" cy="185.14" r="1.5" fill="#000"/><rect x="591.40" y="176.87" width="10.20" height="68.53" fill="#10ac10" stroke="none" stroke-width="1"/><line x1="596.45" y1="176.87" x2="596.45" y2="174.44" stroke="#10ac10" stroke-width="1.5"/><line x1="593.45" y1="174.44" x2="599.45" y2="174.44" stroke="#10ac10" stroke-width="1.5"/><circle cx="596.95" cy="170.07" r="1.5" fill="#000"/><circle cx="594.11" cy="189.51" r="1.5" fill="#000"/><circle cx="594.94" cy="179.79" r="1.5" fill="#000"/><rect x="601.50" y="182.22" width="10.20" height="63.18" fill="#0a0af0" stroke="none" stroke-width="1"/><line x1="606.55" y1="182.22" x2="606.55" y2="177.36" stroke="#0a0af0" stroke-width="1.5"/><line x1="603.55" y1="177.36" x2="609.55" y2="177.36" stroke="#0a0af0" stroke-width="1.5"/><circle cx="606.09" cy="170.56" r="1.5" fill="#000"/><circle cx="607.10" cy="197.29" r="1.5" fill="#000"/><text x="543.40" y="257.00" font-size="10" text-anchor="middle" font-weight="normal" font-style="normal" fill="#000" stroke="#000" stroke-width="0.22">AdNC</text><text x="594.40" y="257" font-size="10" text-anchor="middle" stroke="#000" stroke-width="0.22">Ad<tspan font-style="italic">NLRC5</tspan></text><text x="483.50" y="196.00" font-size="10.486" text-anchor="middle" font-weight="normal" font-style="normal" fill="#000" stroke="#000" stroke-width="0.22" transform="rotate(-90 483.5 196)" textLength="44.57" lengthAdjust="spacingAndGlyphs">Cytoplastic</text><text x="495.00" y="196.00" font-size="10.486" text-anchor="middle" font-weight="normal" font-style="normal" fill="#000" stroke="#000" stroke-width="0.22" transform="rotate(-90 495 196)" textLength="90.56" lengthAdjust="spacingAndGlyphs">t-STAT3/GAPDH (%)</text><line x1="366.50" y1="272.50" x2="366.50" y2="369.30" stroke="#000" stroke-width="1.2"/><line x1="365.90" y1="368.70" x2="464.00" y2="368.70" stroke="#000" stroke-width="1.2"/><line x1="366.50" y1="368.70" x2="369.50" y2="368.70" stroke="#000" stroke-width="1.1"/><text x="363.90" y="372.30" font-size="10.3" text-anchor="end" font-weight="normal" font-style="normal" fill="#000" stroke="#000" stroke-width="0.22" textLength="5.04" lengthAdjust="spacingAndGlyphs">0</text><line x1="366.50" y1="344.77" x2="369.50" y2="344.77" stroke="#000" stroke-width="1.1"/><text x="363.90" y="348.38" font-size="10.3" text-anchor="end" font-weight="normal" font-style="normal" fill="#000" stroke="#000" stroke-width="0.22" textLength="10.08" lengthAdjust="spacingAndGlyphs">50</text><line x1="366.50" y1="320.85" x2="369.50" y2="320.85" stroke="#000" stroke-width="1.1"/><text x="363.90" y="324.45" font-size="10.3" text-anchor="end" font-weight="normal" font-style="normal" fill="#000" stroke="#000" stroke-width="0.22" textLength="15.12" lengthAdjust="spacingAndGlyphs">100</text><line x1="366.50" y1="296.92" x2="369.50" y2="296.92" stroke="#000" stroke-width="1.1"/><text x="363.90" y="300.52" font-size="10.3" text-anchor="end" font-weight="normal" font-style="normal" fill="#000" stroke="#000" stroke-width="0.22" textLength="15.12" lengthAdjust="spacingAndGlyphs">150</text><line x1="366.50" y1="273.00" x2="369.50" y2="273.00" stroke="#000" stroke-width="1.1"/><text x="363.90" y="276.60" font-size="10.3" text-anchor="end" font-weight="normal" font-style="normal" fill="#000" stroke="#000" stroke-width="0.22" textLength="15.12" lengthAdjust="spacingAndGlyphs">200</text><rect x="371.60" y="356.74" width="9.30" height="11.96" fill="#fff" stroke="#333" stroke-width="1.0"/><line x1="376.00" y1="356.74" x2="376.00" y2="355.30" stroke="#000" stroke-width="1.5"/><line x1="373.00" y1="355.30" x2="379.00" y2="355.30" stroke="#000" stroke-width="1.5"/><line x1="376.00" y1="356.74" x2="376.00" y2="358.17" stroke="#000" stroke-width="1.5"/><line x1="373.00" y1="358.17" x2="379.00" y2="358.17" stroke="#000" stroke-width="1.5"/><circle cx="374.28" cy="355.30" r="1.5" fill="#000"/><circle cx="373.71" cy="358.17" r="1.5" fill="#000"/><circle cx="377.84" cy="356.26" r="1.5" fill="#000"/><rect x="380.90" y="324.20" width="9.90" height="44.50" fill="#f00000" stroke="none" stroke-width="1"/><line x1="385.80" y1="324.20" x2="385.80" y2="321.81" stroke="#f00000" stroke-width="1.5"/><line x1="382.80" y1="321.81" x2="388.80" y2="321.81" stroke="#f00000" stroke-width="1.5"/><circle cx="384.87" cy="316.06" r="1.5" fill="#000"/><circle cx="388.09" cy="326.59" r="1.5" fill="#000"/><circle cx="387.78" cy="323.24" r="1.5" fill="#000"/><rect x="390.70" y="317.02" width="9.90" height="51.68" fill="#10ac10" stroke="none" stroke-width="1"/><line x1="395.60" y1="317.02" x2="395.60" y2="314.63" stroke="#10ac10" stroke-width="1.5"/><line x1="392.60" y1="314.63" x2="398.60" y2="314.63" stroke="#10ac10" stroke-width="1.5"/><circle cx="394.99" cy="309.84" r="1.5" fill="#000"/><circle cx="395.40" cy="317.98" r="1.5" fill="#000"/><circle cx="395.70" cy="316.06" r="1.5" fill="#000"/><rect x="400.50" y="341.43" width="9.90" height="27.27" fill="#0a0af0" stroke="none" stroke-width="1"/><line x1="405.40" y1="341.43" x2="405.40" y2="339.03" stroke="#0a0af0" stroke-width="1.5"/><line x1="402.40" y1="339.03" x2="408.40" y2="339.03" stroke="#0a0af0" stroke-width="1.5"/><circle cx="406.12" cy="337.12" r="1.5" fill="#000"/><circle cx="405.88" cy="344.77" r="1.5" fill="#000"/><rect x="419.70" y="341.43" width="9.30" height="27.27" fill="#fff" stroke="#333" stroke-width="1.0"/><line x1="424.10" y1="341.43" x2="424.10" y2="338.08" stroke="#000" stroke-width="1.5"/><line x1="421.10" y1="338.08" x2="427.10" y2="338.08" stroke="#000" stroke-width="1.5"/><line x1="424.10" y1="341.43" x2="424.10" y2="344.77" stroke="#000" stroke-width="1.5"/><line x1="421.10" y1="344.77" x2="427.10" y2="344.77" stroke="#000" stroke-width="1.5"/><circle cx="424.40" cy="337.60" r="1.5" fill="#000"/><circle cx="424.70" cy="345.73" r="1.5" fill="#000"/><circle cx="426.30" cy="349.56" r="1.5" fill="#000"/><rect x="429.00" y="313.67" width="9.90" height="55.03" fill="#f00000" stroke="none" stroke-width="1"/><line x1="433.90" y1="313.67" x2="433.90" y2="305.54" stroke="#f00000" stroke-width="1.5"/><line x1="430.90" y1="305.54" x2="436.90" y2="305.54" stroke="#f00000" stroke-width="1.5"/><circle cx="433.94" cy="293.10" r="1.5" fill="#000"/><circle cx="433.56" cy="311.28" r="1.5" fill="#000"/><circle cx="435.00" cy="329.46" r="1.5" fill="#000"/><rect x="438.80" y="306.02" width="9.90" height="62.68" fill="#10ac10" stroke="none" stroke-width="1"/><line x1="443.70" y1="306.02" x2="443.70" y2="299.32" stroke="#10ac10" stroke-width="1.5"/><line x1="440.70" y1="299.32" x2="446.70" y2="299.32" stroke="#10ac10" stroke-width="1.5"/><circle cx="442.39" cy="287.35" r="1.5" fill="#000"/><circle cx="442.71" cy="310.32" r="1.5" fill="#000"/><circle cx="446.09" cy="322.76" r="1.5" fill="#000"/><rect x="448.60" y="347.17" width="9.90" height="21.53" fill="#0a0af0" stroke="none" stroke-width="1"/><line x1="453.50" y1="347.17" x2="453.50" y2="343.34" stroke="#0a0af0" stroke-width="1.5"/><line x1="450.50" y1="343.34" x2="456.50" y2="343.34" stroke="#0a0af0" stroke-width="1.5"/><circle cx="453.61" cy="337.12" r="1.5" fill="#000"/><circle cx="453.74" cy="354.34" r="1.5" fill="#000"/><text x="382.80" y="382.00" font-size="10" text-anchor="middle" font-weight="normal" font-style="normal" fill="#000" stroke="#000" stroke-width="0.22" textLength="29.6" lengthAdjust="spacingAndGlyphs">AdN C</text><text x="431.2" y="382" font-size="10" text-anchor="middle" stroke="#000" stroke-width="0.22" textLength="50.6" lengthAdjust="spacingAndGlyphs">AdN <tspan font-style="italic">LRC5</tspan></text><text x="330.50" y="321.00" font-size="10.486" text-anchor="middle" font-weight="normal" font-style="normal" fill="#000" stroke="#000" stroke-width="0.22" transform="rotate(-90 330.5 321)" textLength="67.02" lengthAdjust="spacingAndGlyphs">Whole Cell Lysis</text><text x="342.00" y="321.00" font-size="10.486" text-anchor="middle" font-weight="normal" font-style="normal" fill="#000" stroke="#000" stroke-width="0.22" transform="rotate(-90 342 321)" textLength="93.46" lengthAdjust="spacingAndGlyphs">p-STAT3/t-STAT3 (%)</text><polyline points="374.4,277.90000000000003 374.4,275.1 393.75,275.1 393.75,277.90000000000003" fill="none" stroke="#222" stroke-width="1.25"/><polygon points="379.68,269.10 380.35,270.67 382.05,270.83 380.77,271.96 381.14,273.62 379.68,272.75 378.21,273.62 378.58,271.96 377.30,270.83 379.00,270.67" fill="#000"/><polygon points="384.07,269.10 384.75,270.67 386.45,270.83 385.17,271.96 385.54,273.62 384.07,272.75 382.61,273.62 382.98,271.96 381.70,270.83 383.40,270.67" fill="#000"/><polygon points="388.47,269.10 389.15,270.67 390.85,270.83 389.57,271.96 389.94,273.62 388.47,272.75 387.01,273.62 387.38,271.96 386.10,270.83 387.80,270.67" fill="#000"/><polyline points="374.4,290.40000000000003 374.4,287.6 386.9,287.6 386.9,290.40000000000003" fill="none" stroke="#222" stroke-width="1.25"/><polygon points="378.45,281.60 379.13,283.17 380.83,283.33 379.54,284.46 379.92,286.12 378.45,285.25 376.98,286.12 377.36,284.46 376.07,283.33 377.77,283.17" fill="#000"/><polygon points="382.85,281.60 383.53,283.17 385.23,283.33 383.94,284.46 384.32,286.12 382.85,285.25 381.38,286.12 381.76,284.46 380.47,283.33 382.17,283.17" fill="#000"/><polyline points="422.5,277.90000000000003 422.5,275.1 441.9,275.1 441.9,277.90000000000003" fill="none" stroke="#222" stroke-width="1.25"/><polygon points="430.00,269.10 430.68,270.67 432.38,270.83 431.09,271.96 431.47,273.62 430.00,272.75 428.53,273.62 428.91,271.96 427.62,270.83 429.32,270.67" fill="#000"/><polygon points="434.40,269.10 435.08,270.67 436.78,270.83 435.49,271.96 435.87,273.62 434.40,272.75 432.93,273.62 433.31,271.96 432.02,270.83 433.72,270.67" fill="#000"/><polyline points="422.5,290.40000000000003 422.5,287.6 434.4,287.6 434.4,290.40000000000003" fill="none" stroke="#222" stroke-width="1.25"/><polygon points="428.10,281.60 428.78,283.17 430.48,283.33 429.19,284.46 429.57,286.12 428.10,285.25 426.63,286.12 427.01,284.46 425.72,283.33 427.42,283.17" fill="#000"/><line x1="516.50" y1="266.50" x2="516.50" y2="370.00" stroke="#000" stroke-width="1.2"/><line x1="515.90" y1="369.40" x2="611.80" y2="369.40" stroke="#000" stroke-width="1.2"/><line x1="516.50" y1="369.40" x2="519.50" y2="369.40" stroke="#000" stroke-width="1.1"/><text x="513.90" y="373.00" font-size="10.3" text-anchor="end" font-weight="normal" font-style="normal" fill="#000" stroke="#000" stroke-width="0.22" textLength="5.04" lengthAdjust="spacingAndGlyphs">0</text><line x1="516.50" y1="335.27" x2="519.50" y2="335.27" stroke="#000" stroke-width="1.1"/><text x="513.90" y="338.87" font-size="10.3" text-anchor="end" font-weight="normal" font-style="normal" fill="#000" stroke="#000" stroke-width="0.22" textLength="10.08" lengthAdjust="spacingAndGlyphs">50</text><line x1="516.50" y1="301.13" x2="519.50" y2="301.13" stroke="#000" stroke-width="1.1"/><text x="513.90" y="304.73" font-size="10.3" text-anchor="end" font-weight="normal" font-style="normal" fill="#000" stroke="#000" stroke-width="0.22" textLength="15.12" lengthAdjust="spacingAndGlyphs">100</text><line x1="516.50" y1="267.00" x2="519.50" y2="267.00" stroke="#000" stroke-width="1.1"/><text x="513.90" y="270.60" font-size="10.3" text-anchor="end" font-weight="normal" font-style="normal" fill="#000" stroke="#000" stroke-width="0.22" textLength="15.12" lengthAdjust="spacingAndGlyphs">150</text><rect x="521.60" y="315.47" width="9.30" height="53.93" fill="#fff" stroke="#333" stroke-width="1.0"/><line x1="526.00" y1="315.47" x2="526.00" y2="314.10" stroke="#000" stroke-width="1.5"/><line x1="523.00" y1="314.10" x2="529.00" y2="314.10" stroke="#000" stroke-width="1.5"/><line x1="526.00" y1="315.47" x2="526.00" y2="316.83" stroke="#000" stroke-width="1.5"/><line x1="523.00" y1="316.83" x2="529.00" y2="316.83" stroke="#000" stroke-width="1.5"/><circle cx="523.56" cy="314.79" r="1.5" fill="#000"/><circle cx="525.58" cy="317.52" r="1.5" fill="#000"/><circle cx="526.40" cy="316.15" r="1.5" fill="#000"/><circle cx="523.60" cy="313.42" r="1.5" fill="#000"/><rect x="530.90" y="310.69" width="9.90" height="58.71" fill="#f00000" stroke="none" stroke-width="1"/><line x1="535.80" y1="310.69" x2="535.80" y2="305.23" stroke="#f00000" stroke-width="1.5"/><line x1="532.80" y1="305.23" x2="538.80" y2="305.23" stroke="#f00000" stroke-width="1.5"/><circle cx="536.38" cy="301.13" r="1.5" fill="#000"/><circle cx="536.46" cy="330.49" r="1.5" fill="#000"/><circle cx="533.60" cy="307.96" r="1.5" fill="#000"/><rect x="540.70" y="311.37" width="9.90" height="58.03" fill="#10ac10" stroke="none" stroke-width="1"/><line x1="545.60" y1="311.37" x2="545.60" y2="307.96" stroke="#10ac10" stroke-width="1.5"/><line x1="542.60" y1="307.96" x2="548.60" y2="307.96" stroke="#10ac10" stroke-width="1.5"/><circle cx="546.24" cy="303.86" r="1.5" fill="#000"/><circle cx="545.43" cy="331.85" r="1.5" fill="#000"/><circle cx="546.50" cy="307.96" r="1.5" fill="#000"/><rect x="550.50" y="308.64" width="9.90" height="60.76" fill="#0a0af0" stroke="none" stroke-width="1"/><line x1="555.40" y1="308.64" x2="555.40" y2="299.77" stroke="#0a0af0" stroke-width="1.5"/><line x1="552.40" y1="299.77" x2="558.40" y2="299.77" stroke="#0a0af0" stroke-width="1.5"/><circle cx="554.66" cy="290.89" r="1.5" fill="#000"/><circle cx="556.43" cy="335.27" r="1.5" fill="#000"/><circle cx="556.59" cy="302.50" r="1.5" fill="#000"/><rect x="569.80" y="310.01" width="9.30" height="59.39" fill="#fff" stroke="#333" stroke-width="1.0"/><line x1="574.20" y1="310.01" x2="574.20" y2="301.13" stroke="#000" stroke-width="1.5"/><line x1="571.20" y1="301.13" x2="577.20" y2="301.13" stroke="#000" stroke-width="1.5"/><line x1="574.20" y1="310.01" x2="574.20" y2="318.88" stroke="#000" stroke-width="1.5"/><line x1="571.20" y1="318.88" x2="577.20" y2="318.88" stroke="#000" stroke-width="1.5"/><circle cx="571.81" cy="299.77" r="1.5" fill="#000"/><circle cx="572.00" cy="342.09" r="1.5" fill="#000"/><circle cx="575.08" cy="299.09" r="1.5" fill="#000"/><rect x="579.10" y="317.52" width="9.90" height="51.88" fill="#f00000" stroke="none" stroke-width="1"/><line x1="584.00" y1="317.52" x2="584.00" y2="311.37" stroke="#f00000" stroke-width="1.5"/><line x1="581.00" y1="311.37" x2="587.00" y2="311.37" stroke="#f00000" stroke-width="1.5"/><circle cx="586.32" cy="302.50" r="1.5" fill="#000"/><circle cx="582.76" cy="340.05" r="1.5" fill="#000"/><circle cx="583.78" cy="314.79" r="1.5" fill="#000"/><rect x="588.90" y="307.28" width="9.90" height="62.12" fill="#10ac10" stroke="none" stroke-width="1"/><line x1="593.80" y1="307.28" x2="593.80" y2="294.99" stroke="#10ac10" stroke-width="1.5"/><line x1="590.80" y1="294.99" x2="596.80" y2="294.99" stroke="#10ac10" stroke-width="1.5"/><circle cx="594.26" cy="292.26" r="1.5" fill="#000"/><circle cx="592.90" cy="343.46" r="1.5" fill="#000"/><circle cx="593.12" cy="292.26" r="1.5" fill="#000"/><rect x="598.70" y="316.83" width="9.90" height="52.57" fill="#0a0af0" stroke="none" stroke-width="1"/><line x1="603.60" y1="316.83" x2="603.60" y2="312.74" stroke="#0a0af0" stroke-width="1.5"/><line x1="600.60" y1="312.74" x2="606.60" y2="312.74" stroke="#0a0af0" stroke-width="1.5"/><circle cx="602.66" cy="307.28" r="1.5" fill="#000"/><circle cx="602.95" cy="331.85" r="1.5" fill="#000"/><text x="540.70" y="381.00" font-size="10" text-anchor="middle" font-weight="normal" font-style="normal" fill="#000" stroke="#000" stroke-width="0.22">AdNC</text><text x="589.90" y="381" font-size="10" text-anchor="middle" stroke="#000" stroke-width="0.22">Ad<tspan font-style="italic">NLRC5</tspan></text><text x="484.50" y="321.00" font-size="10.486" text-anchor="middle" font-weight="normal" font-style="normal" fill="#000" stroke="#000" stroke-width="0.22" transform="rotate(-90 484.5 321)" textLength="67.02" lengthAdjust="spacingAndGlyphs">Whole Cell Lysis</text><text x="496.00" y="321.00" font-size="10.486" text-anchor="middle" font-weight="normal" font-style="normal" fill="#000" stroke="#000" stroke-width="0.22" transform="rotate(-90 496 321)" textLength="93.46" lengthAdjust="spacingAndGlyphs">p-STAT3/t-STAT3 (%)</text><text x="312.00" y="400.30" font-size="16.3" text-anchor="start" font-weight="bold" font-style="normal" fill="#000" stroke="#000" stroke-width="0.22">D</text><text x="409.30" y="400.80" font-size="10.3" text-anchor="middle" font-weight="normal" font-style="italic" fill="#000" stroke="#000" stroke-width="0.22">Ang2</text><line x1="352.70" y1="412.30" x2="352.70" y2="505.90" stroke="#000" stroke-width="1.2"/><line x1="352.10" y1="505.30" x2="463.75" y2="505.30" stroke="#000" stroke-width="1.2"/><line x1="352.70" y1="505.30" x2="355.70" y2="505.30" stroke="#000" stroke-width="1.1"/><text x="350.50" y="508.80" font-size="10" text-anchor="end" font-weight="normal" font-style="normal" fill="#000" stroke="#000" stroke-width="0.22">0</text><line x1="352.70" y1="486.80" x2="355.70" y2="486.80" stroke="#000" stroke-width="1.1"/><text x="350.50" y="490.30" font-size="10" text-anchor="end" font-weight="normal" font-style="normal" fill="#000" stroke="#000" stroke-width="0.22">2</text><line x1="352.70" y1="468.30" x2="355.70" y2="468.30" stroke="#000" stroke-width="1.1"/><text x="350.50" y="471.80" font-size="10" text-anchor="end" font-weight="normal" font-style="normal" fill="#000" stroke="#000" stroke-width="0.22">4</text><line x1="352.70" y1="449.80" x2="355.70" y2="449.80" stroke="#000" stroke-width="1.1"/><text x="350.50" y="453.30" font-size="10" text-anchor="end" font-weight="normal" font-style="normal" fill="#000" stroke="#000" stroke-width="0.22">6</text><line x1="352.70" y1="431.30" x2="355.70" y2="431.30" stroke="#000" stroke-width="1.1"/><text x="350.50" y="434.80" font-size="10" text-anchor="end" font-weight="normal" font-style="normal" fill="#000" stroke="#000" stroke-width="0.22">8</text><line x1="352.70" y1="412.80" x2="355.70" y2="412.80" stroke="#000" stroke-width="1.1"/><text x="350.50" y="416.30" font-size="10" text-anchor="end" font-weight="normal" font-style="normal" fill="#000" stroke="#000" stroke-width="0.22">10</text><rect x="358.80" y="495.12" width="12.30" height="10.18" fill="#fff" stroke="#111" stroke-width="1.1"/><line x1="364.70" y1="495.12" x2="364.70" y2="494.66" stroke="#000" stroke-width="1.2"/><line x1="362.20" y1="494.66" x2="367.20" y2="494.66" stroke="#000" stroke-width="1.2"/><line x1="364.70" y1="495.12" x2="364.70" y2="495.59" stroke="#000" stroke-width="1.2"/><line x1="362.20" y1="495.59" x2="367.20" y2="495.59" stroke="#000" stroke-width="1.2"/><circle cx="365.18" cy="495.59" r="1.6" fill="#000"/><circle cx="363.70" cy="495.12" r="1.6" fill="#000"/><circle cx="364.09" cy="496.05" r="1.6" fill="#000"/><rect x="371.60" y="473.85" width="12.30" height="31.45" fill="#808080" stroke="#111" stroke-width="1.1"/><line x1="377.50" y1="473.85" x2="377.50" y2="469.23" stroke="#000" stroke-width="1.2"/><line x1="375.00" y1="469.23" x2="380.00" y2="469.23" stroke="#000" stroke-width="1.2"/><line x1="377.50" y1="473.85" x2="377.50" y2="478.48" stroke="#000" stroke-width="1.2"/><line x1="375.00" y1="478.48" x2="380.00" y2="478.48" stroke="#000" stroke-width="1.2"/><circle cx="378.86" cy="466.45" r="1.6" fill="#000"/><circle cx="375.13" cy="477.55" r="1.6" fill="#000"/><circle cx="377.85" cy="474.78" r="1.6" fill="#000"/><rect x="396.50" y="478.94" width="12.30" height="26.36" fill="#fff" stroke="#111" stroke-width="1.1"/><line x1="402.40" y1="478.94" x2="402.40" y2="476.62" stroke="#000" stroke-width="1.2"/><line x1="399.90" y1="476.62" x2="404.90" y2="476.62" stroke="#000" stroke-width="1.2"/><line x1="402.40" y1="478.94" x2="402.40" y2="481.25" stroke="#000" stroke-width="1.2"/><line x1="399.90" y1="481.25" x2="404.90" y2="481.25" stroke="#000" stroke-width="1.2"/><circle cx="403.58" cy="473.85" r="1.6" fill="#000"/><circle cx="401.45" cy="481.25" r="1.6" fill="#000"/><circle cx="401.01" cy="480.32" r="1.6" fill="#000"/><rect x="409.30" y="430.38" width="12.30" height="74.93" fill="#808080" stroke="#111" stroke-width="1.1"/><line x1="415.20" y1="430.38" x2="415.20" y2="426.21" stroke="#000" stroke-width="1.2"/><line x1="412.70" y1="426.21" x2="417.70" y2="426.21" stroke="#000" stroke-width="1.2"/><line x1="415.20" y1="430.38" x2="415.20" y2="434.54" stroke="#000" stroke-width="1.2"/><line x1="412.70" y1="434.54" x2="417.70" y2="434.54" stroke="#000" stroke-width="1.2"/><circle cx="416.72" cy="422.05" r="1.6" fill="#000"/><circle cx="413.89" cy="428.52" r="1.6" fill="#000"/><circle cx="413.64" cy="435.00" r="1.6" fill="#000"/><rect x="434.80" y="488.19" width="12.30" height="17.11" fill="#fff" stroke="#111" stroke-width="1.1"/><line x1="440.70" y1="488.19" x2="440.70" y2="487.26" stroke="#000" stroke-width="1.2"/><line x1="438.20" y1="487.26" x2="443.20" y2="487.26" stroke="#000" stroke-width="1.2"/><line x1="440.70" y1="488.19" x2="440.70" y2="489.11" stroke="#000" stroke-width="1.2"/><line x1="438.20" y1="489.11" x2="443.20" y2="489.11" stroke="#000" stroke-width="1.2"/><circle cx="440.38" cy="487.73" r="1.6" fill="#000"/><circle cx="441.69" cy="488.65" r="1.6" fill="#000"/><circle cx="438.71" cy="489.11" r="1.6" fill="#000"/><rect x="447.60" y="492.81" width="12.30" height="12.49" fill="#808080" stroke="#111" stroke-width="1.1"/><line x1="453.50" y1="492.81" x2="453.50" y2="491.89" stroke="#000" stroke-width="1.2"/><line x1="451.00" y1="491.89" x2="456.00" y2="491.89" stroke="#000" stroke-width="1.2"/><line x1="453.50" y1="492.81" x2="453.50" y2="493.74" stroke="#000" stroke-width="1.2"/><line x1="451.00" y1="493.74" x2="456.00" y2="493.74" stroke="#000" stroke-width="1.2"/><circle cx="452.61" cy="491.89" r="1.6" fill="#000"/><circle cx="452.67" cy="493.28" r="1.6" fill="#000"/><circle cx="455.17" cy="493.74" r="1.6" fill="#000"/><text x="335.50" y="458.00" font-size="10.2" text-anchor="middle" font-weight="normal" font-style="normal" fill="#000" stroke="#000" stroke-width="0.22" transform="rotate(-90 335.5 458)">Relative mRNA Level</text><polyline points="363.4,433.2 363.4,429.4 377.3,429.4 377.3,433.2" fill="none" stroke="#111" stroke-width="1.25"/><polygon points="370.70,422.30 371.38,423.87 373.08,424.03 371.79,425.16 372.17,426.82 370.70,425.95 369.23,426.82 369.61,425.16 368.32,424.03 370.02,423.87" fill="#000"/><polyline points="378.5,418.59999999999997 378.5,414.9 414,414.9 414,418.59999999999997" fill="none" stroke="#777" stroke-width="0.9"/><text x="393.80" y="413.40" font-size="9" text-anchor="middle" font-weight="normal" font-style="italic" fill="#333" stroke="#333" stroke-width="0.22">#</text><polyline points="417,418.59999999999997 417,414.9 458.6,414.9 458.6,418.59999999999997" fill="none" stroke="#777" stroke-width="0.9"/><text x="438.30" y="413.40" font-size="9" text-anchor="middle" font-weight="normal" font-style="italic" fill="#333" stroke="#333" stroke-width="0.22">#</text><text x="370.20" y="517.40" font-size="10.4" text-anchor="middle" font-weight="normal" font-style="normal" fill="#000" stroke="#000" stroke-width="0.22" textLength="16.8" lengthAdjust="spacingAndGlyphs">Ctrl</text><text x="405.50" y="517.40" font-size="10.4" text-anchor="middle" font-weight="normal" font-style="normal" fill="#000" stroke="#000" stroke-width="0.22" textLength="31.2" lengthAdjust="spacingAndGlyphs">IL-6 (+)</text><text x="451.90" y="517.40" font-size="10.4" text-anchor="middle" font-weight="normal" font-style="normal" fill="#000" stroke="#000" stroke-width="0.22" textLength="54" lengthAdjust="spacingAndGlyphs">IL-6+S3I -201</text><text x="569.50" y="399.50" font-size="10" text-anchor="middle" font-weight="normal" font-style="italic" fill="#000" stroke="#000" stroke-width="0.22">CCND1</text><rect x="611.50" y="390.50" width="12.50" height="5.00" fill="#fff" stroke="#000" stroke-width="1.1"/><rect x="611.50" y="400.60" width="12.50" height="5.50" fill="#808080" stroke="#000" stroke-width="1.1"/><text x="626.50" y="396.50" font-size="10" text-anchor="start" font-weight="normal" font-style="normal" fill="#000" stroke="#000" stroke-width="0.22">AdNC</text><text x="626.5" y="406.8" font-size="10" stroke="#000" stroke-width="0.22">Ad<tspan font-style="italic">NLRC5</tspan></text><line x1="509.70" y1="412.10" x2="509.70" y2="506.20" stroke="#000" stroke-width="1.2"/><line x1="509.10" y1="505.60" x2="613.80" y2="505.60" stroke="#000" stroke-width="1.2"/><line x1="509.70" y1="505.60" x2="512.70" y2="505.60" stroke="#000" stroke-width="1.1"/><text x="507.50" y="509.10" font-size="10" text-anchor="end" font-weight="normal" font-style="normal" fill="#000" stroke="#000" stroke-width="0.22">0</text><line x1="509.70" y1="487.00" x2="512.70" y2="487.00" stroke="#000" stroke-width="1.1"/><text x="507.50" y="490.50" font-size="10" text-anchor="end" font-weight="normal" font-style="normal" fill="#000" stroke="#000" stroke-width="0.22">2</text><line x1="509.70" y1="468.40" x2="512.70" y2="468.40" stroke="#000" stroke-width="1.1"/><text x="507.50" y="471.90" font-size="10" text-anchor="end" font-weight="normal" font-style="normal" fill="#000" stroke="#000" stroke-width="0.22">4</text><line x1="509.70" y1="449.80" x2="512.70" y2="449.80" stroke="#000" stroke-width="1.1"/><text x="507.50" y="453.30" font-size="10" text-anchor="end" font-weight="normal" font-style="normal" fill="#000" stroke="#000" stroke-width="0.22">6</text><line x1="509.70" y1="431.20" x2="512.70" y2="431.20" stroke="#000" stroke-width="1.1"/><text x="507.50" y="434.70" font-size="10" text-anchor="end" font-weight="normal" font-style="normal" fill="#000" stroke="#000" stroke-width="0.22">8</text><line x1="509.70" y1="412.60" x2="512.70" y2="412.60" stroke="#000" stroke-width="1.1"/><text x="507.50" y="416.10" font-size="10" text-anchor="end" font-weight="normal" font-style="normal" fill="#000" stroke="#000" stroke-width="0.22">10</text><rect x="515.40" y="496.30" width="11.70" height="9.30" fill="#fff" stroke="#111" stroke-width="1.1"/><line x1="521.00" y1="496.30" x2="521.00" y2="495.84" stroke="#000" stroke-width="1.2"/><line x1="518.50" y1="495.84" x2="523.50" y2="495.84" stroke="#000" stroke-width="1.2"/><line x1="521.00" y1="496.30" x2="521.00" y2="496.77" stroke="#000" stroke-width="1.2"/><line x1="518.50" y1="496.77" x2="523.50" y2="496.77" stroke="#000" stroke-width="1.2"/><circle cx="520.69" cy="496.30" r="1.6" fill="#000"/><circle cx="522.78" cy="496.77" r="1.6" fill="#000"/><circle cx="519.35" cy="495.84" r="1.6" fill="#000"/><rect x="527.60" y="493.05" width="11.70" height="12.56" fill="#808080" stroke="#111" stroke-width="1.1"/><line x1="533.20" y1="493.05" x2="533.20" y2="492.58" stroke="#000" stroke-width="1.2"/><line x1="530.70" y1="492.58" x2="535.70" y2="492.58" stroke="#000" stroke-width="1.2"/><line x1="533.20" y1="493.05" x2="533.20" y2="493.51" stroke="#000" stroke-width="1.2"/><line x1="530.70" y1="493.51" x2="535.70" y2="493.51" stroke="#000" stroke-width="1.2"/><circle cx="532.38" cy="492.58" r="1.6" fill="#000"/><circle cx="533.95" cy="493.05" r="1.6" fill="#000"/><circle cx="535.12" cy="493.51" r="1.6" fill="#000"/><rect x="551.80" y="496.30" width="11.70" height="9.30" fill="#fff" stroke="#111" stroke-width="1.1"/><line x1="557.40" y1="496.30" x2="557.40" y2="495.84" stroke="#000" stroke-width="1.2"/><line x1="554.90" y1="495.84" x2="559.90" y2="495.84" stroke="#000" stroke-width="1.2"/><line x1="557.40" y1="496.30" x2="557.40" y2="496.77" stroke="#000" stroke-width="1.2"/><line x1="554.90" y1="496.77" x2="559.90" y2="496.77" stroke="#000" stroke-width="1.2"/><circle cx="557.16" cy="496.30" r="1.6" fill="#000"/><circle cx="556.03" cy="495.84" r="1.6" fill="#000"/><circle cx="555.50" cy="496.49" r="1.6" fill="#000"/><rect x="564.00" y="429.34" width="11.70" height="76.26" fill="#808080" stroke="#111" stroke-width="1.1"/><line x1="569.60" y1="429.34" x2="569.60" y2="421.90" stroke="#000" stroke-width="1.2"/><line x1="567.10" y1="421.90" x2="572.10" y2="421.90" stroke="#000" stroke-width="1.2"/><line x1="569.60" y1="429.34" x2="569.60" y2="436.78" stroke="#000" stroke-width="1.2"/><line x1="567.10" y1="436.78" x2="572.10" y2="436.78" stroke="#000" stroke-width="1.2"/><circle cx="569.75" cy="416.32" r="1.6" fill="#000"/><circle cx="568.05" cy="431.20" r="1.6" fill="#000"/><circle cx="571.13" cy="438.64" r="1.6" fill="#000"/><rect x="587.70" y="497.23" width="11.70" height="8.37" fill="#fff" stroke="#111" stroke-width="1.1"/><line x1="593.30" y1="497.23" x2="593.30" y2="496.49" stroke="#000" stroke-width="1.2"/><line x1="590.80" y1="496.49" x2="595.80" y2="496.49" stroke="#000" stroke-width="1.2"/><line x1="593.30" y1="497.23" x2="593.30" y2="497.97" stroke="#000" stroke-width="1.2"/><line x1="590.80" y1="497.97" x2="595.80" y2="497.97" stroke="#000" stroke-width="1.2"/><circle cx="594.99" cy="497.70" r="1.6" fill="#000"/><circle cx="591.72" cy="496.77" r="1.6" fill="#000"/><circle cx="592.19" cy="497.23" r="1.6" fill="#000"/><rect x="599.90" y="488.86" width="11.70" height="16.74" fill="#808080" stroke="#111" stroke-width="1.1"/><line x1="605.50" y1="488.86" x2="605.50" y2="487.93" stroke="#000" stroke-width="1.2"/><line x1="603.00" y1="487.93" x2="608.00" y2="487.93" stroke="#000" stroke-width="1.2"/><line x1="605.50" y1="488.86" x2="605.50" y2="489.79" stroke="#000" stroke-width="1.2"/><line x1="603.00" y1="489.79" x2="608.00" y2="489.79" stroke="#000" stroke-width="1.2"/><circle cx="607.04" cy="488.40" r="1.6" fill="#000"/><circle cx="606.21" cy="488.86" r="1.6" fill="#000"/><circle cx="607.03" cy="489.33" r="1.6" fill="#000"/><text x="492.80" y="458.00" font-size="10.2" text-anchor="middle" font-weight="normal" font-style="normal" fill="#000" stroke="#000" stroke-width="0.22" transform="rotate(-90 492.8 458)">Relative mRNA Level</text><polyline points="529.1,418.6 529.1,415.8 565.3,415.8 565.3,418.6" fill="none" stroke="#777" stroke-width="0.9"/><text x="543.60" y="413.90" font-size="9" text-anchor="middle" font-weight="normal" font-style="italic" fill="#333" stroke="#333" stroke-width="0.22">#</text><polyline points="571.2,418.6 571.2,415.8 607,415.8 607,418.6" fill="none" stroke="#777" stroke-width="0.9"/><text x="588.80" y="413.90" font-size="9" text-anchor="middle" font-weight="normal" font-style="italic" fill="#333" stroke="#333" stroke-width="0.22">#</text><text x="526.10" y="517.40" font-size="10.4" text-anchor="middle" font-weight="normal" font-style="normal" fill="#000" stroke="#000" stroke-width="0.22" textLength="16.3" lengthAdjust="spacingAndGlyphs">Ctrl</text><text x="561.60" y="517.40" font-size="10.4" text-anchor="middle" font-weight="normal" font-style="normal" fill="#000" stroke="#000" stroke-width="0.22" textLength="31.2" lengthAdjust="spacingAndGlyphs">IL-6 (+)</text><text x="608.00" y="517.40" font-size="10.4" text-anchor="middle" font-weight="normal" font-style="normal" fill="#000" stroke="#000" stroke-width="0.22" textLength="54" lengthAdjust="spacingAndGlyphs">IL-6+S3I -201</text><text x="313.50" y="539.80" font-size="16.3" text-anchor="start" font-weight="bold" font-style="normal" fill="#000" stroke="#000" stroke-width="0.22">E</text><rect x="344.50" y="573.80" width="112.90" height="15.20" fill="#111" stroke="none" stroke-width="1"/><ellipse cx="356.5" cy="582.8" rx="6.0" ry="1.0" fill="rgb(83,83,83)" filter="url(#b05)"/><ellipse cx="374" cy="582" rx="7.0" ry="1.0" fill="rgb(83,83,83)" filter="url(#b05)"/><ellipse cx="392.5" cy="580.3" rx="7.0" ry="2.5" fill="rgb(255,255,255)" filter="url(#b05)"/><ellipse cx="411" cy="580.3" rx="7.0" ry="1.3" fill="rgb(169,169,169)" filter="url(#b05)"/><ellipse cx="411" cy="583.5" rx="5.0" ry="0.75" fill="rgb(93,93,93)" filter="url(#b05)"/><ellipse cx="429" cy="579.4" rx="6.75" ry="3.5" fill="rgb(207,207,207)" filter="url(#b05)"/><ellipse cx="447.6" cy="580" rx="6.75" ry="2.75" fill="rgb(212,212,212)" filter="url(#b05)"/><rect x="513.20" y="574.20" width="105.00" height="14.50" fill="#111" stroke="none" stroke-width="1"/><ellipse cx="520.5" cy="583.6" rx="6.0" ry="1.75" fill="rgb(136,136,136)" filter="url(#b05)"/><ellipse cx="537.5" cy="580.5" rx="5.5" ry="1.5" fill="rgb(65,65,65)" filter="url(#b05)"/><ellipse cx="556.5" cy="580.7" rx="7.25" ry="3.1" fill="rgb(255,255,255)" filter="url(#b05)"/><ellipse cx="573" cy="580.3" rx="7.25" ry="2.9" fill="rgb(216,216,216)" filter="url(#b05)"/><ellipse cx="590.5" cy="580.3" rx="7.25" ry="2.9" fill="rgb(207,207,207)" filter="url(#b05)"/><ellipse cx="609" cy="580.5" rx="7.25" ry="3.1" fill="rgb(244,244,244)" filter="url(#b05)"/><polygon points="461,581.3 466.5,577.6999999999999 466.5,579.5 471.8,579.5 471.8,583.0999999999999 466.5,583.0999999999999 466.5,584.9" fill="#e01010"/><polygon points="622.4,582.4 627.9,578.8 627.9,580.6 632.7,580.6 632.7,584.1999999999999 627.9,584.1999999999999 627.9,586.0" fill="#e01010"/><text x="475.50" y="585.80" font-size="10.5" text-anchor="start" font-weight="normal" font-style="italic" fill="#000" stroke="#000" stroke-width="0.22">Ang2</text><text x="637.00" y="587.00" font-size="10.5" text-anchor="start" font-weight="normal" font-style="italic" fill="#000" stroke="#000" stroke-width="0.22">CCND1</text><text x="350.50" y="570.20" font-size="9.8" text-anchor="start" font-weight="normal" font-style="normal" fill="#000" stroke="#000" stroke-width="0.22" transform="rotate(-40.5 350.5 570.2)">maker (100 bp)</text><text x="368.50" y="570.20" font-size="9.8" text-anchor="start" font-weight="normal" font-style="normal" fill="#000" stroke="#000" stroke-width="0.22" transform="rotate(-40.5 368.5 570.2)">IgG</text><text x="387.60" y="570.20" font-size="9.8" text-anchor="start" font-weight="normal" font-style="normal" fill="#000" stroke="#000" stroke-width="0.22" transform="rotate(-40.5 387.6 570.2)">Anti-Histon</text><text x="408.20" y="570.20" font-size="9.8" text-anchor="start" font-weight="normal" font-style="normal" fill="#000" stroke="#000" stroke-width="0.22" transform="rotate(-40.5 408.2 570.2)">Anti-STAT3</text><text x="428.60" y="570.20" font-size="9.8" text-anchor="start" font-weight="normal" font-style="normal" fill="#000" stroke="#000" stroke-width="0.22" transform="rotate(-40.5 428.6 570.2)">Anti-Flag</text><text x="448.40" y="570.20" font-size="9.8" text-anchor="start" font-weight="normal" font-style="normal" fill="#000" stroke="#000" stroke-width="0.22" transform="rotate(-40.5 448.40000000000003 570.2)">Input</text><text x="514.00" y="570.20" font-size="9.8" text-anchor="start" font-weight="normal" font-style="normal" fill="#000" stroke="#000" stroke-width="0.22" transform="rotate(-40.5 514.0 570.2)">maker (250 bp)</text><text x="532.60" y="570.20" font-size="9.8" text-anchor="start" font-weight="normal" font-style="normal" fill="#000" stroke="#000" stroke-width="0.22" transform="rotate(-40.5 532.5999999999999 570.2)">IgG</text><text x="549.80" y="570.20" font-size="9.8" text-anchor="start" font-weight="normal" font-style="normal" fill="#000" stroke="#000" stroke-width="0.22" transform="rotate(-40.5 549.8 570.2)">Anti-Histon</text><text x="569.10" y="570.20" font-size="9.8" text-anchor="start" font-weight="normal" font-style="normal" fill="#000" stroke="#000" stroke-width="0.22" transform="rotate(-40.5 569.0999999999999 570.2)">Anti-STAT3</text><text x="588.10" y="570.20" font-size="9.8" text-anchor="start" font-weight="normal" font-style="normal" fill="#000" stroke="#000" stroke-width="0.22" transform="rotate(-40.5 588.0999999999999 570.2)">Anti-Flag</text><text x="608.00" y="570.20" font-size="9.8" text-anchor="start" font-weight="normal" font-style="normal" fill="#000" stroke="#000" stroke-width="0.22" transform="rotate(-40.5 608.0 570.2)">Input</text><text x="312.00" y="614.40" font-size="16.3" text-anchor="start" font-weight="bold" font-style="normal" fill="#000" stroke="#000" stroke-width="0.22">F</text><text x="397.40" y="614.40" font-size="10.2" text-anchor="middle" font-weight="normal" font-style="italic" fill="#000" stroke="#000" stroke-width="0.22">ANGPT 2</text><line x1="355.20" y1="624.80" x2="355.20" y2="721.00" stroke="#000" stroke-width="1.2"/><line x1="354.60" y1="720.40" x2="442.40" y2="720.40" stroke="#000" stroke-width="1.2"/><line x1="355.20" y1="720.40" x2="358.20" y2="720.40" stroke="#000" stroke-width="1.1"/><text x="353.20" y="722.50" font-size="10.5" text-anchor="end" font-weight="normal" font-style="normal" fill="#000" stroke="#000" stroke-width="0.22">0</text><line x1="355.20" y1="688.70" x2="358.20" y2="688.70" stroke="#000" stroke-width="1.1"/><text x="353.20" y="690.80" font-size="10.5" text-anchor="end" font-weight="normal" font-style="normal" fill="#000" stroke="#000" stroke-width="0.22">2</text><line x1="355.20" y1="657.00" x2="358.20" y2="657.00" stroke="#000" stroke-width="1.1"/><text x="353.20" y="659.10" font-size="10.5" text-anchor="end" font-weight="normal" font-style="normal" fill="#000" stroke="#000" stroke-width="0.22">4</text><line x1="355.20" y1="625.30" x2="358.20" y2="625.30" stroke="#000" stroke-width="1.1"/><text x="353.20" y="627.40" font-size="10.5" text-anchor="end" font-weight="normal" font-style="normal" fill="#000" stroke="#000" stroke-width="0.22">6</text><rect x="360.30" y="704.55" width="20.30" height="15.85" fill="#fff" stroke="#000" stroke-width="1.2"/><line x1="370.45" y1="703.28" x2="370.45" y2="705.82" stroke="#000" stroke-width="1.8"/><line x1="365.45" y1="703.28" x2="375.45" y2="703.28" stroke="#000" stroke-width="2.4"/><line x1="365.45" y1="705.82" x2="375.45" y2="705.82" stroke="#000" stroke-width="2.4"/><circle cx="369.99" cy="704.55" r="2.1" fill="#000"/><circle cx="369.34" cy="705.34" r="2.1" fill="#000"/><circle cx="369.83" cy="703.76" r="2.1" fill="#000"/><rect x="390.50" y="689.49" width="20.50" height="30.91" fill="#fff" stroke="#000" stroke-width="1.2"/><line x1="400.75" y1="683.63" x2="400.75" y2="695.36" stroke="#000" stroke-width="1.8"/><line x1="395.75" y1="683.63" x2="405.75" y2="683.63" stroke="#000" stroke-width="2.4"/><line x1="395.75" y1="695.36" x2="405.75" y2="695.36" stroke="#000" stroke-width="2.4"/><circle cx="401.63" cy="683.94" r="2.1" fill="#000"/><circle cx="400.06" cy="690.28" r="2.1" fill="#000"/><circle cx="400.29" cy="695.04" r="2.1" fill="#000"/><rect x="420.30" y="648.28" width="21.00" height="72.12" fill="#fff" stroke="#000" stroke-width="1.2"/><line x1="430.80" y1="641.31" x2="430.80" y2="655.26" stroke="#000" stroke-width="1.8"/><line x1="425.80" y1="641.31" x2="435.80" y2="641.31" stroke="#000" stroke-width="2.4"/><line x1="425.80" y1="655.26" x2="435.80" y2="655.26" stroke="#000" stroke-width="2.4"/><circle cx="430.55" cy="642.74" r="2.1" fill="#000"/><circle cx="430.56" cy="648.28" r="2.1" fill="#000"/><circle cx="430.53" cy="654.62" r="2.1" fill="#000"/><text x="337.80" y="670.70" font-size="10.7" text-anchor="middle" font-weight="normal" font-style="normal" fill="#000" stroke="#000" stroke-width="0.22" transform="rotate(-90 337.8 670.7)">% Input</text><polyline points="366.5,628.7 366.5,625 431.6,625 431.6,628.7" fill="none" stroke="#222" stroke-width="1.25"/><polygon points="393.80,617.70 394.48,619.27 396.18,619.43 394.89,620.56 395.27,622.22 393.80,621.35 392.33,622.22 392.71,620.56 391.42,619.43 393.12,619.27" fill="#000"/><polygon points="398.20,617.70 398.88,619.27 400.58,619.43 399.29,620.56 399.67,622.22 398.20,621.35 396.73,622.22 397.11,620.56 395.82,619.43 397.52,619.27" fill="#000"/><polygon points="402.60,617.70 403.28,619.27 404.98,619.43 403.69,620.56 404.07,622.22 402.60,621.35 401.13,622.22 401.51,620.56 400.22,619.43 401.92,619.27" fill="#000"/><polyline points="366.5,636.8 366.5,633.5 397.4,633.5 397.4,636.8" fill="none" stroke="#222" stroke-width="1.25"/><polygon points="382.00,627.40 382.68,628.97 384.38,629.13 383.09,630.26 383.47,631.92 382.00,631.05 380.53,631.92 380.91,630.26 379.62,629.13 381.32,628.97" fill="#000"/><polyline points="400.3,636.8 400.3,633.5 431.6,633.5 431.6,636.8" fill="none" stroke="#222" stroke-width="1.25"/><polygon points="414.20,627.40 414.88,628.97 416.58,629.13 415.29,630.26 415.67,631.92 414.20,631.05 412.73,631.92 413.11,630.26 411.82,629.13 413.52,628.97" fill="#000"/><polygon points="418.60,627.40 419.28,628.97 420.98,629.13 419.69,630.26 420.07,631.92 418.60,631.05 417.13,631.92 417.51,630.26 416.22,629.13 417.92,628.97" fill="#000"/><text x="366.00" y="738.00" font-size="10.6" text-anchor="start" font-weight="normal" font-style="normal" fill="#000" stroke="#000" stroke-width="0.22" transform="rotate(-32 366 738)">IgG</text><text x="362.50" y="758.50" font-size="10.6" text-anchor="start" font-weight="normal" font-style="normal" fill="#000" stroke="#000" stroke-width="0.22" transform="rotate(-32 362.5 758.5)">Anti-STAT3</text><text x="403.00" y="751.50" font-size="10.6" text-anchor="start" font-weight="normal" font-style="normal" fill="#000" stroke="#000" stroke-width="0.22" transform="rotate(-32 403 751.5)">Anti-Flag</text><text x="565.00" y="614.50" font-size="10.2" text-anchor="middle" font-weight="normal" font-style="italic" fill="#000" stroke="#000" stroke-width="0.22">CCND1</text><line x1="521.50" y1="621.30" x2="521.50" y2="721.00" stroke="#000" stroke-width="1.2"/><line x1="520.90" y1="720.40" x2="616.20" y2="720.40" stroke="#000" stroke-width="1.2"/><line x1="521.50" y1="720.40" x2="524.50" y2="720.40" stroke="#000" stroke-width="1.1"/><text x="519.50" y="722.50" font-size="10.5" text-anchor="end" font-weight="normal" font-style="normal" fill="#000" stroke="#000" stroke-width="0.22">0</text><line x1="521.50" y1="695.75" x2="524.50" y2="695.75" stroke="#000" stroke-width="1.1"/><text x="519.50" y="697.85" font-size="10.5" text-anchor="end" font-weight="normal" font-style="normal" fill="#000" stroke="#000" stroke-width="0.22">5</text><line x1="521.50" y1="671.10" x2="524.50" y2="671.10" stroke="#000" stroke-width="1.1"/><text x="519.50" y="673.20" font-size="10.5" text-anchor="end" font-weight="normal" font-style="normal" fill="#000" stroke="#000" stroke-width="0.22">10</text><line x1="521.50" y1="646.45" x2="524.50" y2="646.45" stroke="#000" stroke-width="1.1"/><text x="519.50" y="648.55" font-size="10.5" text-anchor="end" font-weight="normal" font-style="normal" fill="#000" stroke="#000" stroke-width="0.22">15</text><line x1="521.50" y1="621.80" x2="524.50" y2="621.80" stroke="#000" stroke-width="1.1"/><text x="519.50" y="623.90" font-size="10.5" text-anchor="end" font-weight="normal" font-style="normal" fill="#000" stroke="#000" stroke-width="0.22">20</text><rect x="526.40" y="716.46" width="21.40" height="3.94" fill="#fff" stroke="#000" stroke-width="1.2"/><line x1="537.10" y1="714.98" x2="537.10" y2="717.93" stroke="#000" stroke-width="1.8"/><line x1="532.10" y1="714.98" x2="542.10" y2="714.98" stroke="#000" stroke-width="2.4"/><line x1="532.10" y1="717.93" x2="542.10" y2="717.93" stroke="#000" stroke-width="2.4"/><circle cx="538.36" cy="716.95" r="2.1" fill="#000"/><circle cx="536.07" cy="715.96" r="2.1" fill="#000"/><circle cx="535.61" cy="716.46" r="2.1" fill="#000"/><rect x="558.00" y="696.24" width="21.30" height="24.16" fill="#fff" stroke="#000" stroke-width="1.2"/><line x1="568.65" y1="689.34" x2="568.65" y2="703.14" stroke="#000" stroke-width="1.8"/><line x1="563.65" y1="689.34" x2="573.65" y2="689.34" stroke="#000" stroke-width="2.4"/><line x1="563.65" y1="703.14" x2="573.65" y2="703.14" stroke="#000" stroke-width="2.4"/><circle cx="569.98" cy="690.82" r="2.1" fill="#000"/><circle cx="569.79" cy="700.68" r="2.1" fill="#000"/><circle cx="570.11" cy="701.67" r="2.1" fill="#000"/><rect x="589.70" y="667.16" width="21.60" height="53.24" fill="#fff" stroke="#000" stroke-width="1.2"/><line x1="600.50" y1="647.93" x2="600.50" y2="686.38" stroke="#000" stroke-width="1.8"/><line x1="595.50" y1="647.93" x2="605.50" y2="647.93" stroke="#000" stroke-width="2.4"/><line x1="595.50" y1="686.38" x2="605.50" y2="686.38" stroke="#000" stroke-width="2.4"/><circle cx="600.30" cy="648.91" r="2.1" fill="#000"/><circle cx="601.85" cy="668.63" r="2.1" fill="#000"/><circle cx="601.78" cy="689.83" r="2.1" fill="#000"/><text x="501.20" y="670.70" font-size="10.7" text-anchor="middle" font-weight="normal" font-style="normal" fill="#000" stroke="#000" stroke-width="0.22" transform="rotate(-90 501.2 670.7)">% Input</text><polyline points="534,627.0 534,622.6 599.2,622.6 599.2,627.0" fill="none" stroke="#222" stroke-width="1.25"/><polygon points="562.80,617.10 563.48,618.67 565.18,618.83 563.89,619.96 564.27,621.62 562.80,620.75 561.33,621.62 561.71,619.96 560.42,618.83 562.12,618.67" fill="#000"/><polygon points="567.20,617.10 567.88,618.67 569.58,618.83 568.29,619.96 568.67,621.62 567.20,620.75 565.73,621.62 566.11,619.96 564.82,618.83 566.52,618.67" fill="#000"/><text x="532.00" y="738.00" font-size="10.6" text-anchor="start" font-weight="normal" font-style="normal" fill="#000" stroke="#000" stroke-width="0.22" transform="rotate(-32 532 738)">IgG</text><text x="529.50" y="758.50" font-size="10.6" text-anchor="start" font-weight="normal" font-style="normal" fill="#000" stroke="#000" stroke-width="0.22" transform="rotate(-32 529.5 758.5)">Anti-STAT3</text><text x="574.00" y="751.50" font-size="10.6" text-anchor="start" font-weight="normal" font-style="normal" fill="#000" stroke="#000" stroke-width="0.22" transform="rotate(-32 574 751.5)">Anti-Flag</text><text x="12.00" y="413.80" font-size="16.3" text-anchor="start" font-weight="bold" font-style="normal" fill="#000" stroke="#000" stroke-width="0.22">C</text><text x="100.00" y="421.00" font-size="10" text-anchor="middle" font-weight="normal" font-style="normal" fill="#000" stroke="#000" stroke-width="0.22">PBS 12 h</text><text x="227.00" y="421.00" font-size="10" text-anchor="middle" font-weight="normal" font-style="normal" fill="#000" stroke="#000" stroke-width="0.22">VEGFA-165 12 h</text><text x="33.00" y="477.50" font-size="11" text-anchor="middle" font-weight="normal" font-style="normal" fill="#000" stroke="#000" stroke-width="0.22" transform="rotate(-90 33 477.5)">IL-6 0 min</text><text x="33.00" y="585.60" font-size="11" text-anchor="middle" font-weight="normal" font-style="normal" fill="#000" stroke="#000" stroke-width="0.22" transform="rotate(-90 33 585.6)">IL-6 30 min</text><text x="33.00" y="692.80" font-size="11" text-anchor="middle" font-weight="normal" font-style="normal" fill="#000" stroke="#000" stroke-width="0.22" transform="rotate(-90 33 692.8)">IL-6 60 min</text><text x="177.50" y="443.00" font-size="10" text-anchor="middle" font-weight="normal" font-style="normal" fill="#44c444" stroke="#44c444" stroke-width="0.22" transform="rotate(-90 177.5 443)">NLRC5</text><text x="177.50" y="480.00" font-size="10" text-anchor="middle" font-weight="normal" font-style="normal" fill="#e03838" stroke="#e03838" stroke-width="0.22" transform="rotate(-90 177.5 480)">STAT3</text><text x="177.50" y="513.50" font-size="10" text-anchor="middle" font-weight="normal" font-style="normal" fill="#2a2ac8" stroke="#2a2ac8" stroke-width="0.22" transform="rotate(-90 177.5 513.5)">DAPI</text><clipPath id="mc1"><rect x="40.3" y="427.9" width="89.3" height="103.6"/></clipPath><g clip-path="url(#mc1)"><rect x="40.30" y="427.90" width="89.30" height="103.60" fill="#200400" stroke="none" stroke-width="1"/><g filter="url(#mb1)"><filter id="mb1" x="-10%" y="-10%" width="120%" height="120%"><feGaussianBlur stdDeviation="2.0"/></filter><rect x="35.34" y="422.72" width="10.42" height="10.86" fill="#3e0b02"/><rect x="45.26" y="422.72" width="5.46" height="10.86" fill="#3e0b02"/><rect x="50.22" y="422.72" width="5.46" height="10.86" fill="#762408"/><rect x="55.18" y="422.72" width="5.46" height="10.86" fill="#762408"/><rect x="60.14" y="422.72" width="5.46" height="10.86" fill="#b5470d"/><rect x="65.11" y="422.72" width="5.46" height="10.86" fill="#e47916"/><rect x="70.07" y="422.72" width="5.46" height="10.86" fill="#b5470d"/><rect x="75.03" y="422.72" width="5.46" height="10.86" fill="#e47916"/><rect x="79.99" y="422.72" width="5.46" height="10.86" fill="#e47916"/><rect x="84.95" y="422.72" width="5.46" height="10.86" fill="#e47916"/><rect x="89.91" y="422.72" width="5.46" height="10.86" fill="#b5470d"/><rect x="94.87" y="422.72" width="5.46" height="10.86" fill="#e47916"/><rect x="99.83" y="422.72" width="5.46" height="10.86" fill="#e47916"/><rect x="104.79" y="422.72" width="5.46" height="10.86" fill="#e47916"/><rect x="109.76" y="422.72" width="5.46" height="10.86" fill="#e47916"/><rect x="114.72" y="422.72" width="5.46" height="10.86" fill="#e47916"/><rect x="119.68" y="422.72" width="5.46" height="10.86" fill="#b5470d"/><rect x="124.64" y="422.72" width="10.42" height="10.86" fill="#b5470d"/><rect x="35.34" y="433.08" width="10.42" height="5.68" fill="#3e0b02"/><rect x="45.26" y="433.08" width="5.46" height="5.68" fill="#762408"/><rect x="50.22" y="433.08" width="5.46" height="5.68" fill="#762408"/><rect x="55.18" y="433.08" width="5.46" height="5.68" fill="#170300"/><rect x="60.14" y="433.08" width="5.46" height="5.68" fill="#762408"/><rect x="65.11" y="433.08" width="5.46" height="5.68" fill="#b5470d"/><rect x="70.07" y="433.08" width="5.46" height="5.68" fill="#e47916"/><rect x="75.03" y="433.08" width="5.46" height="5.68" fill="#b5470d"/><rect x="79.99" y="433.08" width="5.46" height="5.68" fill="#e47916"/><rect x="84.95" y="433.08" width="5.46" height="5.68" fill="#e47916"/><rect x="89.91" y="433.08" width="5.46" height="5.68" fill="#e47916"/><rect x="94.87" y="433.08" width="5.46" height="5.68" fill="#e47916"/><rect x="99.83" y="433.08" width="5.46" height="5.68" fill="#faae2e"/><rect x="104.79" y="433.08" width="5.46" height="5.68" fill="#e47916"/><rect x="109.76" y="433.08" width="5.46" height="5.68" fill="#e47916"/><rect x="114.72" y="433.08" width="5.46" height="5.68" fill="#e47916"/><rect x="119.68" y="433.08" width="5.46" height="5.68" fill="#e47916"/><rect x="124.64" y="433.08" width="10.42" height="5.68" fill="#b5470d"/><rect x="35.34" y="438.26" width="10.42" height="5.68" fill="#b5470d"/><rect x="45.26" y="438.26" width="5.46" height="5.68" fill="#e47916"/><rect x="50.22" y="438.26" width="5.46" height="5.68" fill="#e47916"/><rect x="55.18" y="438.26" width="5.46" height="5.68" fill="#e47916"/><rect x="60.14" y="438.26" width="5.46" height="5.68" fill="#762408"/><rect x="65.11" y="438.26" width="5.46" height="5.68" fill="#170300"/><rect x="70.07" y="438.26" width="5.46" height="5.68" fill="#b5470d"/><rect x="75.03" y="438.26" width="5.46" height="5.68" fill="#e47916"/><rect x="79.99" y="438.26" width="5.46" height="5.68" fill="#e47916"/><rect x="84.95" y="438.26" width="5.46" height="5.68" fill="#b5470d"/><rect x="89.91" y="438.26" width="5.46" height="5.68" fill="#e47916"/><rect x="94.87" y="438.26" width="5.46" height="5.68" fill="#e47916"/><rect x="99.83" y="438.26" width="5.46" height="5.68" fill="#e47916"/><rect x="104.79" y="438.26" width="5.46" height="5.68" fill="#e47916"/><rect x="109.76" y="438.26" width="5.46" height="5.68" fill="#e47916"/><rect x="114.72" y="438.26" width="5.46" height="5.68" fill="#e47916"/><rect x="119.68" y="438.26" width="5.46" height="5.68" fill="#e47916"/><rect x="124.64" y="438.26" width="10.42" height="5.68" fill="#e47916"/><rect x="35.34" y="443.44" width="10.42" height="5.68" fill="#e47916"/><rect x="45.26" y="443.44" width="5.46" height="5.68" fill="#e47916"/><rect x="50.22" y="443.44" width="5.46" height="5.68" fill="#e47916"/><rect x="55.18" y="443.44" width="5.46" height="5.68" fill="#e47916"/><rect x="60.14" y="443.44" width="5.46" height="5.68" fill="#e47916"/><rect x="65.11" y="443.44" width="5.46" height="5.68" fill="#170300"/><rect x="70.07" y="443.44" width="5.46" height="5.68" fill="#762408"/><rect x="75.03" y="443.44" width="5.46" height="5.68" fill="#b5470d"/><rect x="79.99" y="443.44" width="5.46" height="5.68" fill="#e47916"/><rect x="84.95" y="443.44" width="5.46" height="5.68" fill="#e47916"/><rect x="89.91" y="443.44" width="5.46" height="5.68" fill="#e47916"/><rect x="94.87" y="443.44" width="5.46" height="5.68" fill="#e47916"/><rect x="99.83" y="443.44" width="5.46" height="5.68" fill="#e47916"/><rect x="104.79" y="443.44" width="5.46" height="5.68" fill="#e47916"/><rect x="109.76" y="443.44" width="5.46" height="5.68" fill="#e47916"/><rect x="114.72" y="443.44" width="5.46" height="5.68" fill="#e47916"/><rect x="119.68" y="443.44" width="5.46" height="5.68" fill="#e47916"/><rect x="124.64" y="443.44" width="10.42" height="5.68" fill="#b5470d"/><rect x="35.34" y="448.62" width="10.42" height="5.68" fill="#e47916"/><rect x="45.26" y="448.62" width="5.46" height="5.68" fill="#e47916"/><rect x="50.22" y="448.62" width="5.46" height="5.68" fill="#e47916"/><rect x="55.18" y="448.62" width="5.46" height="5.68" fill="#e47916"/><rect x="60.14" y="448.62" width="5.46" height="5.68" fill="#e47916"/><rect x="65.11" y="448.62" width="5.46" height="5.68" fill="#170300"/><rect x="70.07" y="448.62" width="5.46" height="5.68" fill="#170300"/><rect x="75.03" y="448.62" width="5.46" height="5.68" fill="#762408"/><rect x="79.99" y="448.62" width="5.46" height="5.68" fill="#b5470d"/><rect x="84.95" y="448.62" width="5.46" height="5.68" fill="#b5470d"/><rect x="89.91" y="448.62" width="5.46" height="5.68" fill="#e47916"/><rect x="94.87" y="448.62" width="5.46" height="5.68" fill="#e47916"/><rect x="99.83" y="448.62" width="5.46" height="5.68" fill="#e47916"/><rect x="104.79" y="448.62" width="5.46" height="5.68" fill="#e47916"/><rect x="109.76" y="448.62" width="5.46" height="5.68" fill="#faae2e"/><rect x="114.72" y="448.62" width="5.46" height="5.68" fill="#e47916"/><rect x="119.68" y="448.62" width="5.46" height="5.68" fill="#e47916"/><rect x="124.64" y="448.62" width="10.42" height="5.68" fill="#b5470d"/><rect x="35.34" y="453.80" width="10.42" height="5.68" fill="#e47916"/><rect x="45.26" y="453.80" width="5.46" height="5.68" fill="#e47916"/><rect x="50.22" y="453.80" width="5.46" height="5.68" fill="#e47916"/><rect x="55.18" y="453.80" width="5.46" height="5.68" fill="#e47916"/><rect x="60.14" y="453.80" width="5.46" height="5.68" fill="#b5470d"/><rect x="65.11" y="453.80" width="5.46" height="5.68" fill="#3e0b02"/><rect x="70.07" y="453.80" width="5.46" height="5.68" fill="#170300"/><rect x="75.03" y="453.80" width="5.46" height="5.68" fill="#170300"/><rect x="79.99" y="453.80" width="5.46" height="5.68" fill="#b5470d"/><rect x="84.95" y="453.80" width="5.46" height="5.68" fill="#e47916"/><rect x="89.91" y="453.80" width="5.46" height="5.68" fill="#e47916"/><rect x="94.87" y="453.80" width="5.46" height="5.68" fill="#e47916"/><rect x="99.83" y="453.80" width="5.46" height="5.68" fill="#faae2e"/><rect x="104.79" y="453.80" width="5.46" height="5.68" fill="#faae2e"/><rect x="109.76" y="453.80" width="5.46" height="5.68" fill="#e47916"/><rect x="114.72" y="453.80" width="5.46" height="5.68" fill="#e47916"/><rect x="119.68" y="453.80" width="5.46" height="5.68" fill="#e47916"/><rect x="124.64" y="453.80" width="10.42" height="5.68" fill="#e47916"/><rect x="35.34" y="458.98" width="10.42" height="5.68" fill="#762408"/><rect x="45.26" y="458.98" width="5.46" height="5.68" fill="#762408"/><rect x="50.22" y="458.98" width="5.46" height="5.68" fill="#762408"/><rect x="55.18" y="458.98" width="5.46" height="5.68" fill="#3e0b02"/><rect x="60.14" y="458.98" width="5.46" height="5.68" fill="#3e0b02"/><rect x="65.11" y="458.98" width="5.46" height="5.68" fill="#170300"/><rect x="70.07" y="458.98" width="5.46" height="5.68" fill="#170300"/><rect x="75.03" y="458.98" width="5.46" height="5.68" fill="#170300"/><rect x="79.99" y="458.98" width="5.46" height="5.68" fill="#762408"/><rect x="84.95" y="458.98" width="5.46" height="5.68" fill="#e47916"/><rect x="89.91" y="458.98" width="5.46" height="5.68" fill="#e47916"/><rect x="94.87" y="458.98" width="5.46" height="5.68" fill="#e47916"/><rect x="99.83" y="458.98" width="5.46" height="5.68" fill="#faae2e"/><rect x="104.79" y="458.98" width="5.46" height="5.68" fill="#e47916"/><rect x="109.76" y="458.98" width="5.46" height="5.68" fill="#e47916"/><rect x="114.72" y="458.98" width="5.46" height="5.68" fill="#e47916"/><rect x="119.68" y="458.98" width="5.46" height="5.68" fill="#e47916"/><rect x="124.64" y="458.98" width="10.42" height="5.68" fill="#e47916"/><rect x="35.34" y="464.16" width="10.42" height="5.68" fill="#170300"/><rect x="45.26" y="464.16" width="5.46" height="5.68" fill="#170300"/><rect x="50.22" y="464.16" width="5.46" height="5.68" fill="#170300"/><rect x="55.18" y="464.16" width="5.46" height="5.68" fill="#170300"/><rect x="60.14" y="464.16" width="5.46" height="5.68" fill="#170300"/><rect x="65.11" y="464.16" width="5.46" height="5.68" fill="#170300"/><rect x="70.07" y="464.16" width="5.46" height="5.68" fill="#170300"/><rect x="75.03" y="464.16" width="5.46" height="5.68" fill="#170300"/><rect x="79.99" y="464.16" width="5.46" height="5.68" fill="#b5470d"/><rect x="84.95" y="464.16" width="5.46" height="5.68" fill="#faae2e"/><rect x="89.91" y="464.16" width="5.46" height="5.68" fill="#e47916"/><rect x="94.87" y="464.16" width="5.46" height="5.68" fill="#faae2e"/><rect x="99.83" y="464.16" width="5.46" height="5.68" fill="#e47916"/><rect x="104.79" y="464.16" width="5.46" height="5.68" fill="#e47916"/><rect x="109.76" y="464.16" width="5.46" height="5.68" fill="#e47916"/><rect x="114.72" y="464.16" width="5.46" height="5.68" fill="#e47916"/><rect x="119.68" y="464.16" width="5.46" height="5.68" fill="#e47916"/><rect x="124.64" y="464.16" width="10.42" height="5.68" fill="#e47916"/><rect x="35.34" y="469.34" width="10.42" height="5.68" fill="#170300"/><rect x="45.26" y="469.34" width="5.46" height="5.68" fill="#170300"/><rect x="50.22" y="469.34" width="5.46" height="5.68" fill="#3e0b02"/><rect x="55.18" y="469.34" width="5.46" height="5.68" fill="#3e0b02"/><rect x="60.14" y="469.34" width="5.46" height="5.68" fill="#3e0b02"/><rect x="65.11" y="469.34" width="5.46" height="5.68" fill="#3e0b02"/><rect x="70.07" y="469.34" width="5.46" height="5.68" fill="#3e0b02"/><rect x="75.03" y="469.34" width="5.46" height="5.68" fill="#762408"/><rect x="79.99" y="469.34" width="5.46" height="5.68" fill="#faae2e"/><rect x="84.95" y="469.34" width="5.46" height="5.68" fill="#faae2e"/><rect x="89.91" y="469.34" width="5.46" height="5.68" fill="#faae2e"/><rect x="94.87" y="469.34" width="5.46" height="5.68" fill="#faae2e"/><rect x="99.83" y="469.34" width="5.46" height="5.68" fill="#e47916"/><rect x="104.79" y="469.34" width="5.46" height="5.68" fill="#e47916"/><rect x="109.76" y="469.34" width="5.46" height="5.68" fill="#e47916"/><rect x="114.72" y="469.34" width="5.46" height="5.68" fill="#e47916"/><rect x="119.68" y="469.34" width="5.46" height="5.68" fill="#e47916"/><rect x="124.64" y="469.34" width="10.42" height="5.68" fill="#b5470d"/><rect x="35.34" y="474.52" width="10.42" height="5.68" fill="#3e0b02"/><rect x="45.26" y="474.52" width="5.46" height="5.68" fill="#3e0b02"/><rect x="50.22" y="474.52" width="5.46" height="5.68" fill="#762408"/><rect x="55.18" y="474.52" width="5.46" height="5.68" fill="#762408"/><rect x="60.14" y="474.52" width="5.46" height="5.68" fill="#762408"/><rect x="65.11" y="474.52" width="5.46" height="5.68" fill="#762408"/><rect x="70.07" y="474.52" width="5.46" height="5.68" fill="#3e0b02"/><rect x="75.03" y="474.52" width="5.46" height="5.68" fill="#b5470d"/><rect x="79.99" y="474.52" width="5.46" height="5.68" fill="#faae2e"/><rect x="84.95" y="474.52" width="5.46" height="5.68" fill="#faae2e"/><rect x="89.91" y="474.52" width="5.46" height="5.68" fill="#faae2e"/><rect x="94.87" y="474.52" width="5.46" height="5.68" fill="#faae2e"/><rect x="99.83" y="474.52" width="5.46" height="5.68" fill="#e47916"/><rect x="104.79" y="474.52" width="5.46" height="5.68" fill="#e47916"/><rect x="109.76" y="474.52" width="5.46" height="5.68" fill="#e47916"/><rect x="114.72" y="474.52" width="5.46" height="5.68" fill="#b5470d"/><rect x="119.68" y="474.52" width="5.46" height="5.68" fill="#b5470d"/><rect x="124.64" y="474.52" width="10.42" height="5.68" fill="#762408"/><rect x="35.34" y="479.70" width="10.42" height="5.68" fill="#170300"/><rect x="45.26" y="479.70" width="5.46" height="5.68" fill="#762408"/><rect x="50.22" y="479.70" width="5.46" height="5.68" fill="#762408"/><rect x="55.18" y="479.70" width="5.46" height="5.68" fill="#b5470d"/><rect x="60.14" y="479.70" width="5.46" height="5.68" fill="#b5470d"/><rect x="65.11" y="479.70" width="5.46" height="5.68" fill="#762408"/><rect x="70.07" y="479.70" width="5.46" height="5.68" fill="#b5470d"/><rect x="75.03" y="479.70" width="5.46" height="5.68" fill="#faae2e"/><rect x="79.99" y="479.70" width="5.46" height="5.68" fill="#faae2e"/><rect x="84.95" y="479.70" width="5.46" height="5.68" fill="#e47916"/><rect x="89.91" y="479.70" width="5.46" height="5.68" fill="#e47916"/><rect x="94.87" y="479.70" width="5.46" height="5.68" fill="#e47916"/><rect x="99.83" y="479.70" width="5.46" height="5.68" fill="#e47916"/><rect x="104.79" y="479.70" width="5.46" height="5.68" fill="#e47916"/><rect x="109.76" y="479.70" width="5.46" height="5.68" fill="#e47916"/><rect x="114.72" y="479.70" width="5.46" height="5.68" fill="#e47916"/><rect x="119.68" y="479.70" width="5.46" height="5.68" fill="#e47916"/><rect x="124.64" y="479.70" width="10.42" height="5.68" fill="#b5470d"/><rect x="35.34" y="484.88" width="10.42" height="5.68" fill="#170300"/><rect x="45.26" y="484.88" width="5.46" height="5.68" fill="#3e0b02"/><rect x="50.22" y="484.88" width="5.46" height="5.68" fill="#3e0b02"/><rect x="55.18" y="484.88" width="5.46" height="5.68" fill="#170300"/><rect x="60.14" y="484.88" width="5.46" height="5.68" fill="#b5470d"/><rect x="65.11" y="484.88" width="5.46" height="5.68" fill="#e47916"/><rect x="70.07" y="484.88" width="5.46" height="5.68" fill="#b5470d"/><rect x="75.03" y="484.88" width="5.46" height="5.68" fill="#3e0b02"/><rect x="79.99" y="484.88" width="5.46" height="5.68" fill="#b5470d"/><rect x="84.95" y="484.88" width="5.46" height="5.68" fill="#e47916"/><rect x="89.91" y="484.88" width="5.46" height="5.68" fill="#e47916"/><rect x="94.87" y="484.88" width="5.46" height="5.68" fill="#e47916"/><rect x="99.83" y="484.88" width="5.46" height="5.68" fill="#e47916"/><rect x="104.79" y="484.88" width="5.46" height="5.68" fill="#e47916"/><rect x="109.76" y="484.88" width="5.46" height="5.68" fill="#e47916"/><rect x="114.72" y="484.88" width="5.46" height="5.68" fill="#e47916"/><rect x="119.68" y="484.88" width="5.46" height="5.68" fill="#e47916"/><rect x="124.64" y="484.88" width="10.42" height="5.68" fill="#b5470d"/><rect x="35.34" y="490.06" width="10.42" height="5.68" fill="#170300"/><rect x="45.26" y="490.06" width="5.46" height="5.68" fill="#3e0b02"/><rect x="50.22" y="490.06" width="5.46" height="5.68" fill="#3e0b02"/><rect x="55.18" y="490.06" width="5.46" height="5.68" fill="#3e0b02"/><rect x="60.14" y="490.06" width="5.46" height="5.68" fill="#e47916"/><rect x="65.11" y="490.06" width="5.46" height="5.68" fill="#faae2e"/><rect x="70.07" y="490.06" width="5.46" height="5.68" fill="#faae2e"/><rect x="75.03" y="490.06" width="5.46" height="5.68" fill="#3e0b02"/><rect x="79.99" y="490.06" width="5.46" height="5.68" fill="#170300"/><rect x="84.95" y="490.06" width="5.46" height="5.68" fill="#170300"/><rect x="89.91" y="490.06" width="5.46" height="5.68" fill="#b5470d"/><rect x="94.87" y="490.06" width="5.46" height="5.68" fill="#e47916"/><rect x="99.83" y="490.06" width="5.46" height="5.68" fill="#e47916"/><rect x="104.79" y="490.06" width="5.46" height="5.68" fill="#e47916"/><rect x="109.76" y="490.06" width="5.46" height="5.68" fill="#e47916"/><rect x="114.72" y="490.06" width="5.46" height="5.68" fill="#e47916"/><rect x="119.68" y="490.06" width="5.46" height="5.68" fill="#e47916"/><rect x="124.64" y="490.06" width="10.42" height="5.68" fill="#e47916"/><rect x="35.34" y="495.24" width="10.42" height="5.68" fill="#170300"/><rect x="45.26" y="495.24" width="5.46" height="5.68" fill="#3e0b02"/><rect x="50.22" y="495.24" width="5.46" height="5.68" fill="#3e0b02"/><rect x="55.18" y="495.24" width="5.46" height="5.68" fill="#b5470d"/><rect x="60.14" y="495.24" width="5.46" height="5.68" fill="#faae2e"/><rect x="65.11" y="495.24" width="5.46" height="5.68" fill="#ffca58"/><rect x="70.07" y="495.24" width="5.46" height="5.68" fill="#ffca58"/><rect x="75.03" y="495.24" width="5.46" height="5.68" fill="#e47916"/><rect x="79.99" y="495.24" width="5.46" height="5.68" fill="#170300"/><rect x="84.95" y="495.24" width="5.46" height="5.68" fill="#170300"/><rect x="89.91" y="495.24" width="5.46" height="5.68" fill="#762408"/><rect x="94.87" y="495.24" width="5.46" height="5.68" fill="#b5470d"/><rect x="99.83" y="495.24" width="5.46" height="5.68" fill="#e47916"/><rect x="104.79" y="495.24" width="5.46" height="5.68" fill="#e47916"/><rect x="109.76" y="495.24" width="5.46" height="5.68" fill="#faae2e"/><rect x="114.72" y="495.24" width="5.46" height="5.68" fill="#faae2e"/><rect x="119.68" y="495.24" width="5.46" height="5.68" fill="#faae2e"/><rect x="124.64" y="495.24" width="10.42" height="5.68" fill="#e47916"/><rect x="35.34" y="500.42" width="10.42" height="5.68" fill="#170300"/><rect x="45.26" y="500.42" width="5.46" height="5.68" fill="#3e0b02"/><rect x="50.22" y="500.42" width="5.46" height="5.68" fill="#3e0b02"/><rect x="55.18" y="500.42" width="5.46" height="5.68" fill="#b5470d"/><rect x="60.14" y="500.42" width="5.46" height="5.68" fill="#faae2e"/><rect x="65.11" y="500.42" width="5.46" height="5.68" fill="#ffca58"/><rect x="70.07" y="500.42" width="5.46" height="5.68" fill="#ffca58"/><rect x="75.03" y="500.42" width="5.46" height="5.68" fill="#e47916"/><rect x="79.99" y="500.42" width="5.46" height="5.68" fill="#3e0b02"/><rect x="84.95" y="500.42" width="5.46" height="5.68" fill="#170300"/><rect x="89.91" y="500.42" width="5.46" height="5.68" fill="#170300"/><rect x="94.87" y="500.42" width="5.46" height="5.68" fill="#762408"/><rect x="99.83" y="500.42" width="5.46" height="5.68" fill="#762408"/><rect x="104.79" y="500.42" width="5.46" height="5.68" fill="#b5470d"/><rect x="109.76" y="500.42" width="5.46" height="5.68" fill="#faae2e"/><rect x="114.72" y="500.42" width="5.46" height="5.68" fill="#faae2e"/><rect x="119.68" y="500.42" width="5.46" height="5.68" fill="#faae2e"/><rect x="124.64" y="500.42" width="10.42" height="5.68" fill="#e47916"/><rect x="35.34" y="505.60" width="10.42" height="5.68" fill="#170300"/><rect x="45.26" y="505.60" width="5.46" height="5.68" fill="#3e0b02"/><rect x="50.22" y="505.60" width="5.46" height="5.68" fill="#3e0b02"/><rect x="55.18" y="505.60" width="5.46" height="5.68" fill="#762408"/><rect x="60.14" y="505.60" width="5.46" height="5.68" fill="#e47916"/><rect x="65.11" y="505.60" width="5.46" height="5.68" fill="#faae2e"/><rect x="70.07" y="505.60" width="5.46" height="5.68" fill="#e47916"/><rect x="75.03" y="505.60" width="5.46" height="5.68" fill="#b5470d"/><rect x="79.99" y="505.60" width="5.46" height="5.68" fill="#3e0b02"/><rect x="84.95" y="505.60" width="5.46" height="5.68" fill="#170300"/><rect x="89.91" y="505.60" width="5.46" height="5.68" fill="#b5470d"/><rect x="94.87" y="505.60" width="5.46" height="5.68" fill="#170300"/><rect x="99.83" y="505.60" width="5.46" height="5.68" fill="#170300"/><rect x="104.79" y="505.60" width="5.46" height="5.68" fill="#762408"/><rect x="109.76" y="505.60" width="5.46" height="5.68" fill="#b5470d"/><rect x="114.72" y="505.60" width="5.46" height="5.68" fill="#faae2e"/><rect x="119.68" y="505.60" width="5.46" height="5.68" fill="#faae2e"/><rect x="124.64" y="505.60" width="10.42" height="5.68" fill="#e47916"/><rect x="35.34" y="510.78" width="10.42" height="5.68" fill="#170300"/><rect x="45.26" y="510.78" width="5.46" height="5.68" fill="#3e0b02"/><rect x="50.22" y="510.78" width="5.46" height="5.68" fill="#3e0b02"/><rect x="55.18" y="510.78" width="5.46" height="5.68" fill="#3e0b02"/><rect x="60.14" y="510.78" width="5.46" height="5.68" fill="#3e0b02"/><rect x="65.11" y="510.78" width="5.46" height="5.68" fill="#e47916"/><rect x="70.07" y="510.78" width="5.46" height="5.68" fill="#faae2e"/><rect x="75.03" y="510.78" width="5.46" height="5.68" fill="#e47916"/><rect x="79.99" y="510.78" width="5.46" height="5.68" fill="#3e0b02"/><rect x="84.95" y="510.78" width="5.46" height="5.68" fill="#762408"/><rect x="89.91" y="510.78" width="5.46" height="5.68" fill="#e47916"/><rect x="94.87" y="510.78" width="5.46" height="5.68" fill="#b5470d"/><rect x="99.83" y="510.78" width="5.46" height="5.68" fill="#170300"/><rect x="104.79" y="510.78" width="5.46" height="5.68" fill="#170300"/><rect x="109.76" y="510.78" width="5.46" height="5.68" fill="#762408"/><rect x="114.72" y="510.78" width="5.46" height="5.68" fill="#b5470d"/><rect x="119.68" y="510.78" width="5.46" height="5.68" fill="#e47916"/><rect x="124.64" y="510.78" width="10.42" height="5.68" fill="#e47916"/><rect x="35.34" y="515.96" width="10.42" height="5.68" fill="#170300"/><rect x="45.26" y="515.96" width="5.46" height="5.68" fill="#3e0b02"/><rect x="50.22" y="515.96" width="5.46" height="5.68" fill="#3e0b02"/><rect x="55.18" y="515.96" width="5.46" height="5.68" fill="#3e0b02"/><rect x="60.14" y="515.96" width="5.46" height="5.68" fill="#3e0b02"/><rect x="65.11" y="515.96" width="5.46" height="5.68" fill="#3e0b02"/><rect x="70.07" y="515.96" width="5.46" height="5.68" fill="#b5470d"/><rect x="75.03" y="515.96" width="5.46" height="5.68" fill="#e47916"/><rect x="79.99" y="515.96" width="5.46" height="5.68" fill="#3e0b02"/><rect x="84.95" y="515.96" width="5.46" height="5.68" fill="#e47916"/><rect x="89.91" y="515.96" width="5.46" height="5.68" fill="#faae2e"/><rect x="94.87" y="515.96" width="5.46" height="5.68" fill="#e47916"/><rect x="99.83" y="515.96" width="5.46" height="5.68" fill="#b5470d"/><rect x="104.79" y="515.96" width="5.46" height="5.68" fill="#170300"/><rect x="109.76" y="515.96" width="5.46" height="5.68" fill="#170300"/><rect x="114.72" y="515.96" width="5.46" height="5.68" fill="#762408"/><rect x="119.68" y="515.96" width="5.46" height="5.68" fill="#b5470d"/><rect x="124.64" y="515.96" width="10.42" height="5.68" fill="#e47916"/><rect x="35.34" y="521.14" width="10.42" height="5.68" fill="#170300"/><rect x="45.26" y="521.14" width="5.46" height="5.68" fill="#3e0b02"/><rect x="50.22" y="521.14" width="5.46" height="5.68" fill="#3e0b02"/><rect x="55.18" y="521.14" width="5.46" height="5.68" fill="#3e0b02"/><rect x="60.14" y="521.14" width="5.46" height="5.68" fill="#3e0b02"/><rect x="65.11" y="521.14" width="5.46" height="5.68" fill="#3e0b02"/><rect x="70.07" y="521.14" width="5.46" height="5.68" fill="#3e0b02"/><rect x="75.03" y="521.14" width="5.46" height="5.68" fill="#b5470d"/><rect x="79.99" y="521.14" width="5.46" height="5.68" fill="#e47916"/><rect x="84.95" y="521.14" width="5.46" height="5.68" fill="#e47916"/><rect x="89.91" y="521.14" width="5.46" height="5.68" fill="#e47916"/><rect x="94.87" y="521.14" width="5.46" height="5.68" fill="#e47916"/><rect x="99.83" y="521.14" width="5.46" height="5.68" fill="#e47916"/><rect x="104.79" y="521.14" width="5.46" height="5.68" fill="#762408"/><rect x="109.76" y="521.14" width="5.46" height="5.68" fill="#170300"/><rect x="114.72" y="521.14" width="5.46" height="5.68" fill="#170300"/><rect x="119.68" y="521.14" width="5.46" height="5.68" fill="#762408"/><rect x="124.64" y="521.14" width="10.42" height="5.68" fill="#b5470d"/><rect x="35.34" y="526.32" width="10.42" height="10.86" fill="#170300"/><rect x="45.26" y="526.32" width="5.46" height="10.86" fill="#3e0b02"/><rect x="50.22" y="526.32" width="5.46" height="10.86" fill="#3e0b02"/><rect x="55.18" y="526.32" width="5.46" height="10.86" fill="#3e0b02"/><rect x="60.14" y="526.32" width="5.46" height="10.86" fill="#3e0b02"/><rect x="65.11" y="526.32" width="5.46" height="10.86" fill="#3e0b02"/><rect x="70.07" y="526.32" width="5.46" height="10.86" fill="#3e0b02"/><rect x="75.03" y="526.32" width="5.46" height="10.86" fill="#3e0b02"/><rect x="79.99" y="526.32" width="5.46" height="10.86" fill="#e47916"/><rect x="84.95" y="526.32" width="5.46" height="10.86" fill="#e47916"/><rect x="89.91" y="526.32" width="5.46" height="10.86" fill="#e47916"/><rect x="94.87" y="526.32" width="5.46" height="10.86" fill="#e47916"/><rect x="99.83" y="526.32" width="5.46" height="10.86" fill="#e47916"/><rect x="104.79" y="526.32" width="5.46" height="10.86" fill="#b5470d"/><rect x="109.76" y="526.32" width="5.46" height="10.86" fill="#3e0b02"/><rect x="114.72" y="526.32" width="5.46" height="10.86" fill="#170300"/><rect x="119.68" y="526.32" width="5.46" height="10.86" fill="#3e0b02"/><rect x="124.64" y="526.32" width="10.42" height="10.86" fill="#3e0b02"/></g><rect x="40.3" y="427.9" width="89.3" height="103.6" filter="url(#tex)" opacity="0.45"/><ellipse cx="51.20" cy="448.40" rx="6.6" ry="6.1" transform="rotate(0 51.20 448.40)" fill="#e890e8" filter="url(#nb)"/><ellipse cx="84.00" cy="434.70" rx="5.2" ry="6.6" transform="rotate(0 84.00 434.70)" fill="#e890e8" filter="url(#nb)"/><ellipse cx="102.50" cy="446.30" rx="7.1" ry="6.1" transform="rotate(0 102.50 446.30)" fill="#e890e8" filter="url(#nb)"/><ellipse cx="118.90" cy="442.90" rx="6.8" ry="6.8" transform="rotate(0 118.90 442.90)" fill="#e890e8" filter="url(#nb)"/><ellipse cx="95.60" cy="460.70" rx="5.7" ry="6.8" transform="rotate(0 95.60 460.70)" fill="#e890e8" filter="url(#nb)"/><ellipse cx="110.70" cy="466.20" rx="6.1" ry="6.1" transform="rotate(0 110.70 466.20)" fill="#e890e8" filter="url(#nb)"/><ellipse cx="123.60" cy="460.70" rx="4.8" ry="6.8" transform="rotate(0 123.60 460.70)" fill="#e890e8" filter="url(#nb)"/><ellipse cx="112.00" cy="491.40" rx="8.9" ry="7.5" transform="rotate(0 112.00 491.40)" fill="#eea0ee" filter="url(#nb)"/><ellipse cx="65.60" cy="501.70" rx="5.5" ry="6.8" transform="rotate(0 65.60 501.70)" fill="#f4c0f0" filter="url(#nb)"/><ellipse cx="99.00" cy="520.80" rx="5.5" ry="6.1" transform="rotate(0 99.00 520.80)" fill="#e890e8" filter="url(#nb)"/></g><clipPath id="mc2"><rect x="40.3" y="536.2" width="89.3" height="103.6"/></clipPath><g clip-path="url(#mc2)"><rect x="40.30" y="536.20" width="89.30" height="103.60" fill="#200400" stroke="none" stroke-width="1"/><g filter="url(#mb2)"><filter id="mb2" x="-10%" y="-10%" width="120%" height="120%"><feGaussianBlur stdDeviation="2.0"/></filter><rect x="35.34" y="531.02" width="10.42" height="10.86" fill="#140200"/><rect x="45.26" y="531.02" width="5.46" height="10.86" fill="#140200"/><rect x="50.22" y="531.02" width="5.46" height="10.86" fill="#140200"/><rect x="55.18" y="531.02" width="5.46" height="10.86" fill="#370801"/><rect x="60.14" y="531.02" width="5.46" height="10.86" fill="#370801"/><rect x="65.11" y="531.02" width="5.46" height="10.86" fill="#681906"/><rect x="70.07" y="531.02" width="5.46" height="10.86" fill="#681906"/><rect x="75.03" y="531.02" width="5.46" height="10.86" fill="#140200"/><rect x="79.99" y="531.02" width="5.46" height="10.86" fill="#370801"/><rect x="84.95" y="531.02" width="5.46" height="10.86" fill="#681906"/><rect x="89.91" y="531.02" width="5.46" height="10.86" fill="#370801"/><rect x="94.87" y="531.02" width="5.46" height="10.86" fill="#370801"/><rect x="99.83" y="531.02" width="5.46" height="10.86" fill="#370801"/><rect x="104.79" y="531.02" width="5.46" height="10.86" fill="#681906"/><rect x="109.76" y="531.02" width="5.46" height="10.86" fill="#681906"/><rect x="114.72" y="531.02" width="5.46" height="10.86" fill="#681906"/><rect x="119.68" y="531.02" width="5.46" height="10.86" fill="#370801"/><rect x="124.64" y="531.02" width="10.42" height="10.86" fill="#370801"/><rect x="35.34" y="541.38" width="10.42" height="5.68" fill="#370801"/><rect x="45.26" y="541.38" width="5.46" height="5.68" fill="#140200"/><rect x="50.22" y="541.38" width="5.46" height="5.68" fill="#140200"/><rect x="55.18" y="541.38" width="5.46" height="5.68" fill="#140200"/><rect x="60.14" y="541.38" width="5.46" height="5.68" fill="#140200"/><rect x="65.11" y="541.38" width="5.46" height="5.68" fill="#370801"/><rect x="70.07" y="541.38" width="5.46" height="5.68" fill="#9f310a"/><rect x="75.03" y="541.38" width="5.46" height="5.68" fill="#681906"/><rect x="79.99" y="541.38" width="5.46" height="5.68" fill="#140200"/><rect x="84.95" y="541.38" width="5.46" height="5.68" fill="#370801"/><rect x="89.91" y="541.38" width="5.46" height="5.68" fill="#140200"/><rect x="94.87" y="541.38" width="5.46" height="5.68" fill="#370801"/><rect x="99.83" y="541.38" width="5.46" height="5.68" fill="#681906"/><rect x="104.79" y="541.38" width="5.46" height="5.68" fill="#9f310a"/><rect x="109.76" y="541.38" width="5.46" height="5.68" fill="#681906"/><rect x="114.72" y="541.38" width="5.46" height="5.68" fill="#370801"/><rect x="119.68" y="541.38" width="5.46" height="5.68" fill="#370801"/><rect x="124.64" y="541.38" width="10.42" height="5.68" fill="#370801"/><rect x="35.34" y="546.56" width="10.42" height="5.68" fill="#370801"/><rect x="45.26" y="546.56" width="5.46" height="5.68" fill="#140200"/><rect x="50.22" y="546.56" width="5.46" height="5.68" fill="#140200"/><rect x="55.18" y="546.56" width="5.46" height="5.68" fill="#140200"/><rect x="60.14" y="546.56" width="5.46" height="5.68" fill="#140200"/><rect x="65.11" y="546.56" width="5.46" height="5.68" fill="#681906"/><rect x="70.07" y="546.56" width="5.46" height="5.68" fill="#9f310a"/><rect x="75.03" y="546.56" width="5.46" height="5.68" fill="#9f310a"/><rect x="79.99" y="546.56" width="5.46" height="5.68" fill="#681906"/><rect x="84.95" y="546.56" width="5.46" height="5.68" fill="#140200"/><rect x="89.91" y="546.56" width="5.46" height="5.68" fill="#370801"/><rect x="94.87" y="546.56" width="5.46" height="5.68" fill="#681906"/><rect x="99.83" y="546.56" width="5.46" height="5.68" fill="#9f310a"/><rect x="104.79" y="546.56" width="5.46" height="5.68" fill="#c95411"/><rect x="109.76" y="546.56" width="5.46" height="5.68" fill="#9f310a"/><rect x="114.72" y="546.56" width="5.46" height="5.68" fill="#370801"/><rect x="119.68" y="546.56" width="5.46" height="5.68" fill="#370801"/><rect x="124.64" y="546.56" width="10.42" height="5.68" fill="#370801"/><rect x="35.34" y="551.74" width="10.42" height="5.68" fill="#370801"/><rect x="45.26" y="551.74" width="5.46" height="5.68" fill="#140200"/><rect x="50.22" y="551.74" width="5.46" height="5.68" fill="#140200"/><rect x="55.18" y="551.74" width="5.46" height="5.68" fill="#140200"/><rect x="60.14" y="551.74" width="5.46" height="5.68" fill="#140200"/><rect x="65.11" y="551.74" width="5.46" height="5.68" fill="#9f310a"/><rect x="70.07" y="551.74" width="5.46" height="5.68" fill="#c95411"/><rect x="75.03" y="551.74" width="5.46" height="5.68" fill="#c95411"/><rect x="79.99" y="551.74" width="5.46" height="5.68" fill="#681906"/><rect x="84.95" y="551.74" width="5.46" height="5.68" fill="#140200"/><rect x="89.91" y="551.74" width="5.46" height="5.68" fill="#681906"/><rect x="94.87" y="551.74" width="5.46" height="5.68" fill="#9f310a"/><rect x="99.83" y="551.74" width="5.46" height="5.68" fill="#c95411"/><rect x="104.79" y="551.74" width="5.46" height="5.68" fill="#c95411"/><rect x="109.76" y="551.74" width="5.46" height="5.68" fill="#cd3922"/><rect x="114.72" y="551.74" width="5.46" height="5.68" fill="#9f310a"/><rect x="119.68" y="551.74" width="5.46" height="5.68" fill="#681906"/><rect x="124.64" y="551.74" width="10.42" height="5.68" fill="#370801"/><rect x="35.34" y="556.92" width="10.42" height="5.68" fill="#370801"/><rect x="45.26" y="556.92" width="5.46" height="5.68" fill="#140200"/><rect x="50.22" y="556.92" width="5.46" height="5.68" fill="#140200"/><rect x="55.18" y="556.92" width="5.46" height="5.68" fill="#140200"/><rect x="60.14" y="556.92" width="5.46" height="5.68" fill="#140200"/><rect x="65.11" y="556.92" width="5.46" height="5.68" fill="#9f310a"/><rect x="70.07" y="556.92" width="5.46" height="5.68" fill="#c95411"/><rect x="75.03" y="556.92" width="5.46" height="5.68" fill="#c95411"/><rect x="79.99" y="556.92" width="5.46" height="5.68" fill="#681906"/><rect x="84.95" y="556.92" width="5.46" height="5.68" fill="#370801"/><rect x="89.91" y="556.92" width="5.46" height="5.68" fill="#9f310a"/><rect x="94.87" y="556.92" width="5.46" height="5.68" fill="#c95411"/><rect x="99.83" y="556.92" width="5.46" height="5.68" fill="#9f310a"/><rect x="104.79" y="556.92" width="5.46" height="5.68" fill="#c95411"/><rect x="109.76" y="556.92" width="5.46" height="5.68" fill="#c95411"/><rect x="114.72" y="556.92" width="5.46" height="5.68" fill="#9f310a"/><rect x="119.68" y="556.92" width="5.46" height="5.68" fill="#681906"/><rect x="124.64" y="556.92" width="10.42" height="5.68" fill="#370801"/><rect x="35.34" y="562.10" width="10.42" height="5.68" fill="#370801"/><rect x="45.26" y="562.10" width="5.46" height="5.68" fill="#140200"/><rect x="50.22" y="562.10" width="5.46" height="5.68" fill="#140200"/><rect x="55.18" y="562.10" width="5.46" height="5.68" fill="#140200"/><rect x="60.14" y="562.10" width="5.46" height="5.68" fill="#140200"/><rect x="65.11" y="562.10" width="5.46" height="5.68" fill="#681906"/><rect x="70.07" y="562.10" width="5.46" height="5.68" fill="#9f310a"/><rect x="75.03" y="562.10" width="5.46" height="5.68" fill="#c95411"/><rect x="79.99" y="562.10" width="5.46" height="5.68" fill="#681906"/><rect x="84.95" y="562.10" width="5.46" height="5.68" fill="#681906"/><rect x="89.91" y="562.10" width="5.46" height="5.68" fill="#c95411"/><rect x="94.87" y="562.10" width="5.46" height="5.68" fill="#9f310a"/><rect x="99.83" y="562.10" width="5.46" height="5.68" fill="#c95411"/><rect x="104.79" y="562.10" width="5.46" height="5.68" fill="#c95411"/><rect x="109.76" y="562.10" width="5.46" height="5.68" fill="#c95411"/><rect x="114.72" y="562.10" width="5.46" height="5.68" fill="#9f310a"/><rect x="119.68" y="562.10" width="5.46" height="5.68" fill="#681906"/><rect x="124.64" y="562.10" width="10.42" height="5.68" fill="#370801"/><rect x="35.34" y="567.28" width="10.42" height="5.68" fill="#cd3922"/><rect x="45.26" y="567.28" width="5.46" height="5.68" fill="#140200"/><rect x="50.22" y="567.28" width="5.46" height="5.68" fill="#140200"/><rect x="55.18" y="567.28" width="5.46" height="5.68" fill="#140200"/><rect x="60.14" y="567.28" width="5.46" height="5.68" fill="#370801"/><rect x="65.11" y="567.28" width="5.46" height="5.68" fill="#681906"/><rect x="70.07" y="567.28" width="5.46" height="5.68" fill="#9f310a"/><rect x="75.03" y="567.28" width="5.46" height="5.68" fill="#681906"/><rect x="79.99" y="567.28" width="5.46" height="5.68" fill="#681906"/><rect x="84.95" y="567.28" width="5.46" height="5.68" fill="#681906"/><rect x="89.91" y="567.28" width="5.46" height="5.68" fill="#c95411"/><rect x="94.87" y="567.28" width="5.46" height="5.68" fill="#9f310a"/><rect x="99.83" y="567.28" width="5.46" height="5.68" fill="#9f310a"/><rect x="104.79" y="567.28" width="5.46" height="5.68" fill="#c95411"/><rect x="109.76" y="567.28" width="5.46" height="5.68" fill="#c95411"/><rect x="114.72" y="567.28" width="5.46" height="5.68" fill="#681906"/><rect x="119.68" y="567.28" width="5.46" height="5.68" fill="#370801"/><rect x="124.64" y="567.28" width="10.42" height="5.68" fill="#681906"/><rect x="35.34" y="572.46" width="10.42" height="5.68" fill="#cd3922"/><rect x="45.26" y="572.46" width="5.46" height="5.68" fill="#681906"/><rect x="50.22" y="572.46" width="5.46" height="5.68" fill="#140200"/><rect x="55.18" y="572.46" width="5.46" height="5.68" fill="#370801"/><rect x="60.14" y="572.46" width="5.46" height="5.68" fill="#681906"/><rect x="65.11" y="572.46" width="5.46" height="5.68" fill="#9f310a"/><rect x="70.07" y="572.46" width="5.46" height="5.68" fill="#370801"/><rect x="75.03" y="572.46" width="5.46" height="5.68" fill="#9f310a"/><rect x="79.99" y="572.46" width="5.46" height="5.68" fill="#681906"/><rect x="84.95" y="572.46" width="5.46" height="5.68" fill="#9f310a"/><rect x="89.91" y="572.46" width="5.46" height="5.68" fill="#c95411"/><rect x="94.87" y="572.46" width="5.46" height="5.68" fill="#9f310a"/><rect x="99.83" y="572.46" width="5.46" height="5.68" fill="#681906"/><rect x="104.79" y="572.46" width="5.46" height="5.68" fill="#c95411"/><rect x="109.76" y="572.46" width="5.46" height="5.68" fill="#9f310a"/><rect x="114.72" y="572.46" width="5.46" height="5.68" fill="#681906"/><rect x="119.68" y="572.46" width="5.46" height="5.68" fill="#370801"/><rect x="124.64" y="572.46" width="10.42" height="5.68" fill="#681906"/><rect x="35.34" y="577.64" width="10.42" height="5.68" fill="#9f310a"/><rect x="45.26" y="577.64" width="5.46" height="5.68" fill="#9f310a"/><rect x="50.22" y="577.64" width="5.46" height="5.68" fill="#370801"/><rect x="55.18" y="577.64" width="5.46" height="5.68" fill="#140200"/><rect x="60.14" y="577.64" width="5.46" height="5.68" fill="#681906"/><rect x="65.11" y="577.64" width="5.46" height="5.68" fill="#cd3922"/><rect x="70.07" y="577.64" width="5.46" height="5.68" fill="#c95411"/><rect x="75.03" y="577.64" width="5.46" height="5.68" fill="#cd3922"/><rect x="79.99" y="577.64" width="5.46" height="5.68" fill="#681906"/><rect x="84.95" y="577.64" width="5.46" height="5.68" fill="#9f310a"/><rect x="89.91" y="577.64" width="5.46" height="5.68" fill="#9f310a"/><rect x="94.87" y="577.64" width="5.46" height="5.68" fill="#681906"/><rect x="99.83" y="577.64" width="5.46" height="5.68" fill="#681906"/><rect x="104.79" y="577.64" width="5.46" height="5.68" fill="#681906"/><rect x="109.76" y="577.64" width="5.46" height="5.68" fill="#370801"/><rect x="114.72" y="577.64" width="5.46" height="5.68" fill="#681906"/><rect x="119.68" y="577.64" width="5.46" height="5.68" fill="#cd3922"/><rect x="124.64" y="577.64" width="10.42" height="5.68" fill="#cd394a"/><rect x="35.34" y="582.82" width="10.42" height="5.68" fill="#9f310a"/><rect x="45.26" y="582.82" width="5.46" height="5.68" fill="#681906"/><rect x="50.22" y="582.82" width="5.46" height="5.68" fill="#370801"/><rect x="55.18" y="582.82" width="5.46" height="5.68" fill="#370801"/><rect x="60.14" y="582.82" width="5.46" height="5.68" fill="#681906"/><rect x="65.11" y="582.82" width="5.46" height="5.68" fill="#9f310a"/><rect x="70.07" y="582.82" width="5.46" height="5.68" fill="#c95411"/><rect x="75.03" y="582.82" width="5.46" height="5.68" fill="#cd3922"/><rect x="79.99" y="582.82" width="5.46" height="5.68" fill="#681906"/><rect x="84.95" y="582.82" width="5.46" height="5.68" fill="#cd394a"/><rect x="89.91" y="582.82" width="5.46" height="5.68" fill="#cd394a"/><rect x="94.87" y="582.82" width="5.46" height="5.68" fill="#9f310a"/><rect x="99.83" y="582.82" width="5.46" height="5.68" fill="#681906"/><rect x="104.79" y="582.82" width="5.46" height="5.68" fill="#370801"/><rect x="109.76" y="582.82" width="5.46" height="5.68" fill="#681906"/><rect x="114.72" y="582.82" width="5.46" height="5.68" fill="#cd3922"/><rect x="119.68" y="582.82" width="5.46" height="5.68" fill="#cd394a"/><rect x="124.64" y="582.82" width="10.42" height="5.68" fill="#cd394a"/><rect x="35.34" y="588.00" width="10.42" height="5.68" fill="#681906"/><rect x="45.26" y="588.00" width="5.46" height="5.68" fill="#681906"/><rect x="50.22" y="588.00" width="5.46" height="5.68" fill="#370801"/><rect x="55.18" y="588.00" width="5.46" height="5.68" fill="#681906"/><rect x="60.14" y="588.00" width="5.46" height="5.68" fill="#681906"/><rect x="65.11" y="588.00" width="5.46" height="5.68" fill="#681906"/><rect x="70.07" y="588.00" width="5.46" height="5.68" fill="#370801"/><rect x="75.03" y="588.00" width="5.46" height="5.68" fill="#681906"/><rect x="79.99" y="588.00" width="5.46" height="5.68" fill="#9f310a"/><rect x="84.95" y="588.00" width="5.46" height="5.68" fill="#cd394a"/><rect x="89.91" y="588.00" width="5.46" height="5.68" fill="#cd394a"/><rect x="94.87" y="588.00" width="5.46" height="5.68" fill="#681906"/><rect x="99.83" y="588.00" width="5.46" height="5.68" fill="#681906"/><rect x="104.79" y="588.00" width="5.46" height="5.68" fill="#681906"/><rect x="109.76" y="588.00" width="5.46" height="5.68" fill="#681906"/><rect x="114.72" y="588.00" width="5.46" height="5.68" fill="#681906"/><rect x="119.68" y="588.00" width="5.46" height="5.68" fill="#cd394a"/><rect x="124.64" y="588.00" width="10.42" height="5.68" fill="#cd394a"/><rect x="35.34" y="593.18" width="10.42" height="5.68" fill="#9f310a"/><rect x="45.26" y="593.18" width="5.46" height="5.68" fill="#370801"/><rect x="50.22" y="593.18" width="5.46" height="5.68" fill="#681906"/><rect x="55.18" y="593.18" width="5.46" height="5.68" fill="#9f310a"/><rect x="60.14" y="593.18" width="5.46" height="5.68" fill="#cd3922"/><rect x="65.11" y="593.18" width="5.46" height="5.68" fill="#cd3922"/><rect x="70.07" y="593.18" width="5.46" height="5.68" fill="#cd3922"/><rect x="75.03" y="593.18" width="5.46" height="5.68" fill="#9f310a"/><rect x="79.99" y="593.18" width="5.46" height="5.68" fill="#c95411"/><rect x="84.95" y="593.18" width="5.46" height="5.68" fill="#c95411"/><rect x="89.91" y="593.18" width="5.46" height="5.68" fill="#cd3922"/><rect x="94.87" y="593.18" width="5.46" height="5.68" fill="#681906"/><rect x="99.83" y="593.18" width="5.46" height="5.68" fill="#681906"/><rect x="104.79" y="593.18" width="5.46" height="5.68" fill="#681906"/><rect x="109.76" y="593.18" width="5.46" height="5.68" fill="#681906"/><rect x="114.72" y="593.18" width="5.46" height="5.68" fill="#681906"/><rect x="119.68" y="593.18" width="5.46" height="5.68" fill="#681906"/><rect x="124.64" y="593.18" width="10.42" height="5.68" fill="#681906"/><rect x="35.34" y="598.36" width="10.42" height="5.68" fill="#681906"/><rect x="45.26" y="598.36" width="5.46" height="5.68" fill="#370801"/><rect x="50.22" y="598.36" width="5.46" height="5.68" fill="#9f310a"/><rect x="55.18" y="598.36" width="5.46" height="5.68" fill="#cd3922"/><rect x="60.14" y="598.36" width="5.46" height="5.68" fill="#cd3922"/><rect x="65.11" y="598.36" width="5.46" height="5.68" fill="#cd3922"/><rect x="70.07" y="598.36" width="5.46" height="5.68" fill="#cd3922"/><rect x="75.03" y="598.36" width="5.46" height="5.68" fill="#9f310a"/><rect x="79.99" y="598.36" width="5.46" height="5.68" fill="#9f310a"/><rect x="84.95" y="598.36" width="5.46" height="5.68" fill="#9f310a"/><rect x="89.91" y="598.36" width="5.46" height="5.68" fill="#9f310a"/><rect x="94.87" y="598.36" width="5.46" height="5.68" fill="#681906"/><rect x="99.83" y="598.36" width="5.46" height="5.68" fill="#9f310a"/><rect x="104.79" y="598.36" width="5.46" height="5.68" fill="#681906"/><rect x="109.76" y="598.36" width="5.46" height="5.68" fill="#681906"/><rect x="114.72" y="598.36" width="5.46" height="5.68" fill="#681906"/><rect x="119.68" y="598.36" width="5.46" height="5.68" fill="#9f310a"/><rect x="124.64" y="598.36" width="10.42" height="5.68" fill="#681906"/><rect x="35.34" y="603.54" width="10.42" height="5.68" fill="#370801"/><rect x="45.26" y="603.54" width="5.46" height="5.68" fill="#681906"/><rect x="50.22" y="603.54" width="5.46" height="5.68" fill="#681906"/><rect x="55.18" y="603.54" width="5.46" height="5.68" fill="#cd3922"/><rect x="60.14" y="603.54" width="5.46" height="5.68" fill="#cd3922"/><rect x="65.11" y="603.54" width="5.46" height="5.68" fill="#cd3922"/><rect x="70.07" y="603.54" width="5.46" height="5.68" fill="#cd3922"/><rect x="75.03" y="603.54" width="5.46" height="5.68" fill="#cd3922"/><rect x="79.99" y="603.54" width="5.46" height="5.68" fill="#9f310a"/><rect x="84.95" y="603.54" width="5.46" height="5.68" fill="#681906"/><rect x="89.91" y="603.54" width="5.46" height="5.68" fill="#9f310a"/><rect x="94.87" y="603.54" width="5.46" height="5.68" fill="#9f310a"/><rect x="99.83" y="603.54" width="5.46" height="5.68" fill="#681906"/><rect x="104.79" y="603.54" width="5.46" height="5.68" fill="#9f310a"/><rect x="109.76" y="603.54" width="5.46" height="5.68" fill="#cd3922"/><rect x="114.72" y="603.54" width="5.46" height="5.68" fill="#cd394a"/><rect x="119.68" y="603.54" width="5.46" height="5.68" fill="#cd3922"/><rect x="124.64" y="603.54" width="10.42" height="5.68" fill="#681906"/><rect x="35.34" y="608.72" width="10.42" height="5.68" fill="#140200"/><rect x="45.26" y="608.72" width="5.46" height="5.68" fill="#140200"/><rect x="50.22" y="608.72" width="5.46" height="5.68" fill="#140200"/><rect x="55.18" y="608.72" width="5.46" height="5.68" fill="#140200"/><rect x="60.14" y="608.72" width="5.46" height="5.68" fill="#140200"/><rect x="65.11" y="608.72" width="5.46" height="5.68" fill="#140200"/><rect x="70.07" y="608.72" width="5.46" height="5.68" fill="#140200"/><rect x="75.03" y="608.72" width="5.46" height="5.68" fill="#140200"/><rect x="79.99" y="608.72" width="5.46" height="5.68" fill="#140200"/><rect x="84.95" y="608.72" width="5.46" height="5.68" fill="#9f310a"/><rect x="89.91" y="608.72" width="5.46" height="5.68" fill="#cd3922"/><rect x="94.87" y="608.72" width="5.46" height="5.68" fill="#cd3922"/><rect x="99.83" y="608.72" width="5.46" height="5.68" fill="#681906"/><rect x="104.79" y="608.72" width="5.46" height="5.68" fill="#9f310a"/><rect x="109.76" y="608.72" width="5.46" height="5.68" fill="#cd394a"/><rect x="114.72" y="608.72" width="5.46" height="5.68" fill="#cd394a"/><rect x="119.68" y="608.72" width="5.46" height="5.68" fill="#cd3922"/><rect x="124.64" y="608.72" width="10.42" height="5.68" fill="#681906"/><rect x="35.34" y="613.90" width="10.42" height="5.68" fill="#140200"/><rect x="45.26" y="613.90" width="5.46" height="5.68" fill="#140200"/><rect x="50.22" y="613.90" width="5.46" height="5.68" fill="#140200"/><rect x="55.18" y="613.90" width="5.46" height="5.68" fill="#140200"/><rect x="60.14" y="613.90" width="5.46" height="5.68" fill="#140200"/><rect x="65.11" y="613.90" width="5.46" height="5.68" fill="#140200"/><rect x="70.07" y="613.90" width="5.46" height="5.68" fill="#140200"/><rect x="75.03" y="613.90" width="5.46" height="5.68" fill="#140200"/><rect x="79.99" y="613.90" width="5.46" height="5.68" fill="#140200"/><rect x="84.95" y="613.90" width="5.46" height="5.68" fill="#370801"/><rect x="89.91" y="613.90" width="5.46" height="5.68" fill="#cd3922"/><rect x="94.87" y="613.90" width="5.46" height="5.68" fill="#cd3922"/><rect x="99.83" y="613.90" width="5.46" height="5.68" fill="#9f310a"/><rect x="104.79" y="613.90" width="5.46" height="5.68" fill="#681906"/><rect x="109.76" y="613.90" width="5.46" height="5.68" fill="#cd394a"/><rect x="114.72" y="613.90" width="5.46" height="5.68" fill="#cd3922"/><rect x="119.68" y="613.90" width="5.46" height="5.68" fill="#cd3922"/><rect x="124.64" y="613.90" width="10.42" height="5.68" fill="#681906"/><rect x="35.34" y="619.08" width="10.42" height="5.68" fill="#140200"/><rect x="45.26" y="619.08" width="5.46" height="5.68" fill="#140200"/><rect x="50.22" y="619.08" width="5.46" height="5.68" fill="#140200"/><rect x="55.18" y="619.08" width="5.46" height="5.68" fill="#140200"/><rect x="60.14" y="619.08" width="5.46" height="5.68" fill="#140200"/><rect x="65.11" y="619.08" width="5.46" height="5.68" fill="#140200"/><rect x="70.07" y="619.08" width="5.46" height="5.68" fill="#140200"/><rect x="75.03" y="619.08" width="5.46" height="5.68" fill="#140200"/><rect x="79.99" y="619.08" width="5.46" height="5.68" fill="#140200"/><rect x="84.95" y="619.08" width="5.46" height="5.68" fill="#140200"/><rect x="89.91" y="619.08" width="5.46" height="5.68" fill="#370801"/><rect x="94.87" y="619.08" width="5.46" height="5.68" fill="#cd3922"/><rect x="99.83" y="619.08" width="5.46" height="5.68" fill="#cd3922"/><rect x="104.79" y="619.08" width="5.46" height="5.68" fill="#681906"/><rect x="109.76" y="619.08" width="5.46" height="5.68" fill="#cd3922"/><rect x="114.72" y="619.08" width="5.46" height="5.68" fill="#cd3922"/><rect x="119.68" y="619.08" width="5.46" height="5.68" fill="#cd3922"/><rect x="124.64" y="619.08" width="10.42" height="5.68" fill="#681906"/><rect x="35.34" y="624.26" width="10.42" height="5.68" fill="#140200"/><rect x="45.26" y="624.26" width="5.46" height="5.68" fill="#140200"/><rect x="50.22" y="624.26" width="5.46" height="5.68" fill="#140200"/><rect x="55.18" y="624.26" width="5.46" height="5.68" fill="#140200"/><rect x="60.14" y="624.26" width="5.46" height="5.68" fill="#140200"/><rect x="65.11" y="624.26" width="5.46" height="5.68" fill="#140200"/><rect x="70.07" y="624.26" width="5.46" height="5.68" fill="#140200"/><rect x="75.03" y="624.26" width="5.46" height="5.68" fill="#140200"/><rect x="79.99" y="624.26" width="5.46" height="5.68" fill="#140200"/><rect x="84.95" y="624.26" width="5.46" height="5.68" fill="#140200"/><rect x="89.91" y="624.26" width="5.46" height="5.68" fill="#140200"/><rect x="94.87" y="624.26" width="5.46" height="5.68" fill="#681906"/><rect x="99.83" y="624.26" width="5.46" height="5.68" fill="#681906"/><rect x="104.79" y="624.26" width="5.46" height="5.68" fill="#681906"/><rect x="109.76" y="624.26" width="5.46" height="5.68" fill="#9f310a"/><rect x="114.72" y="624.26" width="5.46" height="5.68" fill="#cd3922"/><rect x="119.68" y="624.26" width="5.46" height="5.68" fill="#681906"/><rect x="124.64" y="624.26" width="10.42" height="5.68" fill="#681906"/><rect x="35.34" y="629.44" width="10.42" height="5.68" fill="#140200"/><rect x="45.26" y="629.44" width="5.46" height="5.68" fill="#140200"/><rect x="50.22" y="629.44" width="5.46" height="5.68" fill="#140200"/><rect x="55.18" y="629.44" width="5.46" height="5.68" fill="#140200"/><rect x="60.14" y="629.44" width="5.46" height="5.68" fill="#140200"/><rect x="65.11" y="629.44" width="5.46" height="5.68" fill="#140200"/><rect x="70.07" y="629.44" width="5.46" height="5.68" fill="#140200"/><rect x="75.03" y="629.44" width="5.46" height="5.68" fill="#140200"/><rect x="79.99" y="629.44" width="5.46" height="5.68" fill="#140200"/><rect x="84.95" y="629.44" width="5.46" height="5.68" fill="#140200"/><rect x="89.91" y="629.44" width="5.46" height="5.68" fill="#140200"/><rect x="94.87" y="629.44" width="5.46" height="5.68" fill="#140200"/><rect x="99.83" y="629.44" width="5.46" height="5.68" fill="#681906"/><rect x="104.79" y="629.44" width="5.46" height="5.68" fill="#681906"/><rect x="109.76" y="629.44" width="5.46" height="5.68" fill="#681906"/><rect x="114.72" y="629.44" width="5.46" height="5.68" fill="#681906"/><rect x="119.68" y="629.44" width="5.46" height="5.68" fill="#681906"/><rect x="124.64" y="629.44" width="10.42" height="5.68" fill="#681906"/><rect x="35.34" y="634.62" width="10.42" height="10.86" fill="#140200"/><rect x="45.26" y="634.62" width="5.46" height="10.86" fill="#140200"/><rect x="50.22" y="634.62" width="5.46" height="10.86" fill="#140200"/><rect x="55.18" y="634.62" width="5.46" height="10.86" fill="#140200"/><rect x="60.14" y="634.62" width="5.46" height="10.86" fill="#140200"/><rect x="65.11" y="634.62" width="5.46" height="10.86" fill="#140200"/><rect x="70.07" y="634.62" width="5.46" height="10.86" fill="#140200"/><rect x="75.03" y="634.62" width="5.46" height="10.86" fill="#140200"/><rect x="79.99" y="634.62" width="5.46" height="10.86" fill="#140200"/><rect x="84.95" y="634.62" width="5.46" height="10.86" fill="#140200"/><rect x="89.91" y="634.62" width="5.46" height="10.86" fill="#140200"/><rect x="94.87" y="634.62" width="5.46" height="10.86" fill="#140200"/><rect x="99.83" y="634.62" width="5.46" height="10.86" fill="#370801"/><rect x="104.79" y="634.62" width="5.46" height="10.86" fill="#370801"/><rect x="109.76" y="634.62" width="5.46" height="10.86" fill="#681906"/><rect x="114.72" y="634.62" width="5.46" height="10.86" fill="#681906"/><rect x="119.68" y="634.62" width="5.46" height="10.86" fill="#681906"/><rect x="124.64" y="634.62" width="10.42" height="10.86" fill="#681906"/></g><rect x="40.3" y="536.2" width="89.3" height="103.6" filter="url(#tex)" opacity="0.45"/><ellipse cx="75.10" cy="561.50" rx="4.3" ry="6.1" transform="rotate(20 75.10 561.50)" fill="#e868d0" filter="url(#nb)"/><ellipse cx="92.20" cy="568.30" rx="4.1" ry="6.8" transform="rotate(15 92.20 568.30)" fill="#e868d0" filter="url(#nb)"/><ellipse cx="107.20" cy="564.20" rx="5.5" ry="7.5" transform="rotate(10 107.20 564.20)" fill="#e860b8" filter="url(#nb)"/><ellipse cx="41.70" cy="575.80" rx="3.4" ry="4.8" transform="rotate(0 41.70 575.80)" fill="#e868d0" filter="url(#nb)"/><ellipse cx="73.10" cy="581.20" rx="6.1" ry="6.1" transform="rotate(0 73.10 581.20)" fill="#e868d0" filter="url(#nb)"/><ellipse cx="91.50" cy="588.80" rx="6.8" ry="5.5" transform="rotate(0 91.50 588.80)" fill="#e85898" filter="url(#nb)"/><ellipse cx="123.60" cy="581.20" rx="6" ry="7.5" transform="rotate(0 123.60 581.20)" fill="#e85080" filter="url(#nb)"/><ellipse cx="68.30" cy="600.40" rx="7.5" ry="4.8" transform="rotate(0 68.30 600.40)" fill="#e868d0" filter="url(#nb)"/><ellipse cx="97.70" cy="616.80" rx="6.8" ry="6.8" transform="rotate(0 97.70 616.80)" fill="#e85080" filter="url(#nb)"/><ellipse cx="118.20" cy="614.10" rx="6.8" ry="6.1" transform="rotate(0 118.20 614.10)" fill="#e85080" filter="url(#nb)"/></g><clipPath id="mc3"><rect x="170.7" y="536.2" width="90.2" height="103.6"/></clipPath><g clip-path="url(#mc3)"><rect x="170.70" y="536.20" width="90.20" height="103.60" fill="#200400" stroke="none" stroke-width="1"/><g filter="url(#mb3)"><filter id="mb3" x="-10%" y="-10%" width="120%" height="120%"><feGaussianBlur stdDeviation="2.2"/></filter><rect x="165.69" y="531.02" width="10.52" height="10.86" fill="#050000"/><rect x="175.71" y="531.02" width="5.51" height="10.86" fill="#050000"/><rect x="180.72" y="531.02" width="5.51" height="10.86" fill="#050000"/><rect x="185.73" y="531.02" width="5.51" height="10.86" fill="#050000"/><rect x="190.74" y="531.02" width="5.51" height="10.86" fill="#140200"/><rect x="195.76" y="531.02" width="5.51" height="10.86" fill="#651b06"/><rect x="200.77" y="531.02" width="5.51" height="10.86" fill="#9a3409"/><rect x="205.78" y="531.02" width="5.51" height="10.86" fill="#651b06"/><rect x="210.79" y="531.02" width="5.51" height="10.86" fill="#350801"/><rect x="215.80" y="531.02" width="5.51" height="10.86" fill="#350801"/><rect x="220.81" y="531.02" width="5.51" height="10.86" fill="#651b06"/><rect x="225.82" y="531.02" width="5.51" height="10.86" fill="#651b06"/><rect x="230.83" y="531.02" width="5.51" height="10.86" fill="#140200"/><rect x="235.84" y="531.02" width="5.51" height="10.86" fill="#140200"/><rect x="240.86" y="531.02" width="5.51" height="10.86" fill="#140200"/><rect x="245.87" y="531.02" width="5.51" height="10.86" fill="#050000"/><rect x="250.88" y="531.02" width="5.51" height="10.86" fill="#050000"/><rect x="255.89" y="531.02" width="10.52" height="10.86" fill="#050000"/><rect x="165.69" y="541.38" width="10.52" height="5.68" fill="#050000"/><rect x="175.71" y="541.38" width="5.51" height="5.68" fill="#050000"/><rect x="180.72" y="541.38" width="5.51" height="5.68" fill="#050000"/><rect x="185.73" y="541.38" width="5.51" height="5.68" fill="#140200"/><rect x="190.74" y="541.38" width="5.51" height="5.68" fill="#c35a10"/><rect x="195.76" y="541.38" width="5.51" height="5.68" fill="#9a3409"/><rect x="200.77" y="541.38" width="5.51" height="5.68" fill="#9a3409"/><rect x="205.78" y="541.38" width="5.51" height="5.68" fill="#140200"/><rect x="210.79" y="541.38" width="5.51" height="5.68" fill="#350801"/><rect x="215.80" y="541.38" width="5.51" height="5.68" fill="#651b06"/><rect x="220.81" y="541.38" width="5.51" height="5.68" fill="#9a3409"/><rect x="225.82" y="541.38" width="5.51" height="5.68" fill="#651b06"/><rect x="230.83" y="541.38" width="5.51" height="5.68" fill="#140200"/><rect x="235.84" y="541.38" width="5.51" height="5.68" fill="#140200"/><rect x="240.86" y="541.38" width="5.51" height="5.68" fill="#350801"/><rect x="245.87" y="541.38" width="5.51" height="5.68" fill="#050000"/><rect x="250.88" y="541.38" width="5.51" height="5.68" fill="#050000"/><rect x="255.89" y="541.38" width="10.52" height="5.68" fill="#050000"/><rect x="165.69" y="546.56" width="10.52" height="5.68" fill="#050000"/><rect x="175.71" y="546.56" width="5.51" height="5.68" fill="#050000"/><rect x="180.72" y="546.56" width="5.51" height="5.68" fill="#050000"/><rect x="185.73" y="546.56" width="5.51" height="5.68" fill="#140200"/><rect x="190.74" y="546.56" width="5.51" height="5.68" fill="#c35a10"/><rect x="195.76" y="546.56" width="5.51" height="5.68" fill="#9a3409"/><rect x="200.77" y="546.56" width="5.51" height="5.68" fill="#651b06"/><rect x="205.78" y="546.56" width="5.51" height="5.68" fill="#140200"/><rect x="210.79" y="546.56" width="5.51" height="5.68" fill="#651b06"/><rect x="215.80" y="546.56" width="5.51" height="5.68" fill="#c35a10"/><rect x="220.81" y="546.56" width="5.51" height="5.68" fill="#c35a10"/><rect x="225.82" y="546.56" width="5.51" height="5.68" fill="#651b06"/><rect x="230.83" y="546.56" width="5.51" height="5.68" fill="#140200"/><rect x="235.84" y="546.56" width="5.51" height="5.68" fill="#651b06"/><rect x="240.86" y="546.56" width="5.51" height="5.68" fill="#9a3409"/><rect x="245.87" y="546.56" width="5.51" height="5.68" fill="#140200"/><rect x="250.88" y="546.56" width="5.51" height="5.68" fill="#050000"/><rect x="255.89" y="546.56" width="10.52" height="5.68" fill="#050000"/><rect x="165.69" y="551.74" width="10.52" height="5.68" fill="#050000"/><rect x="175.71" y="551.74" width="5.51" height="5.68" fill="#050000"/><rect x="180.72" y="551.74" width="5.51" height="5.68" fill="#050000"/><rect x="185.73" y="551.74" width="5.51" height="5.68" fill="#050000"/><rect x="190.74" y="551.74" width="5.51" height="5.68" fill="#140200"/><rect x="195.76" y="551.74" width="5.51" height="5.68" fill="#c35a10"/><rect x="200.77" y="551.74" width="5.51" height="5.68" fill="#651b06"/><rect x="205.78" y="551.74" width="5.51" height="5.68" fill="#140200"/><rect x="210.79" y="551.74" width="5.51" height="5.68" fill="#9a3409"/><rect x="215.80" y="551.74" width="5.51" height="5.68" fill="#c35a10"/><rect x="220.81" y="551.74" width="5.51" height="5.68" fill="#c35a10"/><rect x="225.82" y="551.74" width="5.51" height="5.68" fill="#651b06"/><rect x="230.83" y="551.74" width="5.51" height="5.68" fill="#584413"/><rect x="235.84" y="551.74" width="5.51" height="5.68" fill="#9a3409"/><rect x="240.86" y="551.74" width="5.51" height="5.68" fill="#c35a10"/><rect x="245.87" y="551.74" width="5.51" height="5.68" fill="#651b06"/><rect x="250.88" y="551.74" width="5.51" height="5.68" fill="#050000"/><rect x="255.89" y="551.74" width="10.52" height="5.68" fill="#050000"/><rect x="165.69" y="556.92" width="10.52" height="5.68" fill="#050000"/><rect x="175.71" y="556.92" width="5.51" height="5.68" fill="#050000"/><rect x="180.72" y="556.92" width="5.51" height="5.68" fill="#050000"/><rect x="185.73" y="556.92" width="5.51" height="5.68" fill="#140200"/><rect x="190.74" y="556.92" width="5.51" height="5.68" fill="#651b06"/><rect x="195.76" y="556.92" width="5.51" height="5.68" fill="#c35a10"/><rect x="200.77" y="556.92" width="5.51" height="5.68" fill="#350801"/><rect x="205.78" y="556.92" width="5.51" height="5.68" fill="#140200"/><rect x="210.79" y="556.92" width="5.51" height="5.68" fill="#9a3409"/><rect x="215.80" y="556.92" width="5.51" height="5.68" fill="#c35a10"/><rect x="220.81" y="556.92" width="5.51" height="5.68" fill="#c35a10"/><rect x="225.82" y="556.92" width="5.51" height="5.68" fill="#584413"/><rect x="230.83" y="556.92" width="5.51" height="5.68" fill="#140200"/><rect x="235.84" y="556.92" width="5.51" height="5.68" fill="#c35a10"/><rect x="240.86" y="556.92" width="5.51" height="5.68" fill="#c35a10"/><rect x="245.87" y="556.92" width="5.51" height="5.68" fill="#651b06"/><rect x="250.88" y="556.92" width="5.51" height="5.68" fill="#050000"/><rect x="255.89" y="556.92" width="10.52" height="5.68" fill="#050000"/><rect x="165.69" y="562.10" width="10.52" height="5.68" fill="#050000"/><rect x="175.71" y="562.10" width="5.51" height="5.68" fill="#050000"/><rect x="180.72" y="562.10" width="5.51" height="5.68" fill="#050000"/><rect x="185.73" y="562.10" width="5.51" height="5.68" fill="#140200"/><rect x="190.74" y="562.10" width="5.51" height="5.68" fill="#d58121"/><rect x="195.76" y="562.10" width="5.51" height="5.68" fill="#d58121"/><rect x="200.77" y="562.10" width="5.51" height="5.68" fill="#350801"/><rect x="205.78" y="562.10" width="5.51" height="5.68" fill="#651b06"/><rect x="210.79" y="562.10" width="5.51" height="5.68" fill="#9a3409"/><rect x="215.80" y="562.10" width="5.51" height="5.68" fill="#c35a10"/><rect x="220.81" y="562.10" width="5.51" height="5.68" fill="#9a3409"/><rect x="225.82" y="562.10" width="5.51" height="5.68" fill="#584413"/><rect x="230.83" y="562.10" width="5.51" height="5.68" fill="#140200"/><rect x="235.84" y="562.10" width="5.51" height="5.68" fill="#c35a10"/><rect x="240.86" y="562.10" width="5.51" height="5.68" fill="#c35a10"/><rect x="245.87" y="562.10" width="5.51" height="5.68" fill="#651b06"/><rect x="250.88" y="562.10" width="5.51" height="5.68" fill="#050000"/><rect x="255.89" y="562.10" width="10.52" height="5.68" fill="#050000"/><rect x="165.69" y="567.28" width="10.52" height="5.68" fill="#050000"/><rect x="175.71" y="567.28" width="5.51" height="5.68" fill="#050000"/><rect x="180.72" y="567.28" width="5.51" height="5.68" fill="#050000"/><rect x="185.73" y="567.28" width="5.51" height="5.68" fill="#140200"/><rect x="190.74" y="567.28" width="5.51" height="5.68" fill="#d58121"/><rect x="195.76" y="567.28" width="5.51" height="5.68" fill="#d58121"/><rect x="200.77" y="567.28" width="5.51" height="5.68" fill="#350801"/><rect x="205.78" y="567.28" width="5.51" height="5.68" fill="#9a3409"/><rect x="210.79" y="567.28" width="5.51" height="5.68" fill="#9a3409"/><rect x="215.80" y="567.28" width="5.51" height="5.68" fill="#9a3409"/><rect x="220.81" y="567.28" width="5.51" height="5.68" fill="#651b06"/><rect x="225.82" y="567.28" width="5.51" height="5.68" fill="#584413"/><rect x="230.83" y="567.28" width="5.51" height="5.68" fill="#350801"/><rect x="235.84" y="567.28" width="5.51" height="5.68" fill="#9a3409"/><rect x="240.86" y="567.28" width="5.51" height="5.68" fill="#9a3409"/><rect x="245.87" y="567.28" width="5.51" height="5.68" fill="#140200"/><rect x="250.88" y="567.28" width="5.51" height="5.68" fill="#050000"/><rect x="255.89" y="567.28" width="10.52" height="5.68" fill="#050000"/><rect x="165.69" y="572.46" width="10.52" height="5.68" fill="#050000"/><rect x="175.71" y="572.46" width="5.51" height="5.68" fill="#050000"/><rect x="180.72" y="572.46" width="5.51" height="5.68" fill="#050000"/><rect x="185.73" y="572.46" width="5.51" height="5.68" fill="#350801"/><rect x="190.74" y="572.46" width="5.51" height="5.68" fill="#d58121"/><rect x="195.76" y="572.46" width="5.51" height="5.68" fill="#c35a10"/><rect x="200.77" y="572.46" width="5.51" height="5.68" fill="#584413"/><rect x="205.78" y="572.46" width="5.51" height="5.68" fill="#651b06"/><rect x="210.79" y="572.46" width="5.51" height="5.68" fill="#9a3409"/><rect x="215.80" y="572.46" width="5.51" height="5.68" fill="#651b06"/><rect x="220.81" y="572.46" width="5.51" height="5.68" fill="#9a3409"/><rect x="225.82" y="572.46" width="5.51" height="5.68" fill="#584413"/><rect x="230.83" y="572.46" width="5.51" height="5.68" fill="#140200"/><rect x="235.84" y="572.46" width="5.51" height="5.68" fill="#9a3409"/><rect x="240.86" y="572.46" width="5.51" height="5.68" fill="#651b06"/><rect x="245.87" y="572.46" width="5.51" height="5.68" fill="#050000"/><rect x="250.88" y="572.46" width="5.51" height="5.68" fill="#050000"/><rect x="255.89" y="572.46" width="10.52" height="5.68" fill="#050000"/><rect x="165.69" y="577.64" width="10.52" height="5.68" fill="#050000"/><rect x="175.71" y="577.64" width="5.51" height="5.68" fill="#050000"/><rect x="180.72" y="577.64" width="5.51" height="5.68" fill="#050000"/><rect x="185.73" y="577.64" width="5.51" height="5.68" fill="#140200"/><rect x="190.74" y="577.64" width="5.51" height="5.68" fill="#c35a10"/><rect x="195.76" y="577.64" width="5.51" height="5.68" fill="#350801"/><rect x="200.77" y="577.64" width="5.51" height="5.68" fill="#140200"/><rect x="205.78" y="577.64" width="5.51" height="5.68" fill="#9a3409"/><rect x="210.79" y="577.64" width="5.51" height="5.68" fill="#c35a10"/><rect x="215.80" y="577.64" width="5.51" height="5.68" fill="#c35a10"/><rect x="220.81" y="577.64" width="5.51" height="5.68" fill="#d58121"/><rect x="225.82" y="577.64" width="5.51" height="5.68" fill="#651b06"/><rect x="230.83" y="577.64" width="5.51" height="5.68" fill="#140200"/><rect x="235.84" y="577.64" width="5.51" height="5.68" fill="#9a3409"/><rect x="240.86" y="577.64" width="5.51" height="5.68" fill="#651b06"/><rect x="245.87" y="577.64" width="5.51" height="5.68" fill="#050000"/><rect x="250.88" y="577.64" width="5.51" height="5.68" fill="#050000"/><rect x="255.89" y="577.64" width="10.52" height="5.68" fill="#050000"/><rect x="165.69" y="582.82" width="10.52" height="5.68" fill="#050000"/><rect x="175.71" y="582.82" width="5.51" height="5.68" fill="#050000"/><rect x="180.72" y="582.82" width="5.51" height="5.68" fill="#050000"/><rect x="185.73" y="582.82" width="5.51" height="5.68" fill="#140200"/><rect x="190.74" y="582.82" width="5.51" height="5.68" fill="#350801"/><rect x="195.76" y="582.82" width="5.51" height="5.68" fill="#584413"/><rect x="200.77" y="582.82" width="5.51" height="5.68" fill="#140200"/><rect x="205.78" y="582.82" width="5.51" height="5.68" fill="#c35a10"/><rect x="210.79" y="582.82" width="5.51" height="5.68" fill="#9a3409"/><rect x="215.80" y="582.82" width="5.51" height="5.68" fill="#c35a10"/><rect x="220.81" y="582.82" width="5.51" height="5.68" fill="#d58121"/><rect x="225.82" y="582.82" width="5.51" height="5.68" fill="#350801"/><rect x="230.83" y="582.82" width="5.51" height="5.68" fill="#140200"/><rect x="235.84" y="582.82" width="5.51" height="5.68" fill="#651b06"/><rect x="240.86" y="582.82" width="5.51" height="5.68" fill="#140200"/><rect x="245.87" y="582.82" width="5.51" height="5.68" fill="#050000"/><rect x="250.88" y="582.82" width="5.51" height="5.68" fill="#050000"/><rect x="255.89" y="582.82" width="10.52" height="5.68" fill="#050000"/><rect x="165.69" y="588.00" width="10.52" height="5.68" fill="#140200"/><rect x="175.71" y="588.00" width="5.51" height="5.68" fill="#350801"/><rect x="180.72" y="588.00" width="5.51" height="5.68" fill="#651b06"/><rect x="185.73" y="588.00" width="5.51" height="5.68" fill="#350801"/><rect x="190.74" y="588.00" width="5.51" height="5.68" fill="#050000"/><rect x="195.76" y="588.00" width="5.51" height="5.68" fill="#140200"/><rect x="200.77" y="588.00" width="5.51" height="5.68" fill="#140200"/><rect x="205.78" y="588.00" width="5.51" height="5.68" fill="#c35a10"/><rect x="210.79" y="588.00" width="5.51" height="5.68" fill="#350801"/><rect x="215.80" y="588.00" width="5.51" height="5.68" fill="#c35a10"/><rect x="220.81" y="588.00" width="5.51" height="5.68" fill="#651b06"/><rect x="225.82" y="588.00" width="5.51" height="5.68" fill="#c35a10"/><rect x="230.83" y="588.00" width="5.51" height="5.68" fill="#9a3409"/><rect x="235.84" y="588.00" width="5.51" height="5.68" fill="#350801"/><rect x="240.86" y="588.00" width="5.51" height="5.68" fill="#140200"/><rect x="245.87" y="588.00" width="5.51" height="5.68" fill="#050000"/><rect x="250.88" y="588.00" width="5.51" height="5.68" fill="#050000"/><rect x="255.89" y="588.00" width="10.52" height="5.68" fill="#050000"/><rect x="165.69" y="593.18" width="10.52" height="5.68" fill="#140200"/><rect x="175.71" y="593.18" width="5.51" height="5.68" fill="#651b06"/><rect x="180.72" y="593.18" width="5.51" height="5.68" fill="#350801"/><rect x="185.73" y="593.18" width="5.51" height="5.68" fill="#140200"/><rect x="190.74" y="593.18" width="5.51" height="5.68" fill="#d58121"/><rect x="195.76" y="593.18" width="5.51" height="5.68" fill="#d58121"/><rect x="200.77" y="593.18" width="5.51" height="5.68" fill="#d58121"/><rect x="205.78" y="593.18" width="5.51" height="5.68" fill="#c35a10"/><rect x="210.79" y="593.18" width="5.51" height="5.68" fill="#140200"/><rect x="215.80" y="593.18" width="5.51" height="5.68" fill="#c35a10"/><rect x="220.81" y="593.18" width="5.51" height="5.68" fill="#350801"/><rect x="225.82" y="593.18" width="5.51" height="5.68" fill="#c35a10"/><rect x="230.83" y="593.18" width="5.51" height="5.68" fill="#9a3409"/><rect x="235.84" y="593.18" width="5.51" height="5.68" fill="#350801"/><rect x="240.86" y="593.18" width="5.51" height="5.68" fill="#140200"/><rect x="245.87" y="593.18" width="5.51" height="5.68" fill="#050000"/><rect x="250.88" y="593.18" width="5.51" height="5.68" fill="#050000"/><rect x="255.89" y="593.18" width="10.52" height="5.68" fill="#050000"/><rect x="165.69" y="598.36" width="10.52" height="5.68" fill="#140200"/><rect x="175.71" y="598.36" width="5.51" height="5.68" fill="#651b06"/><rect x="180.72" y="598.36" width="5.51" height="5.68" fill="#350801"/><rect x="185.73" y="598.36" width="5.51" height="5.68" fill="#140200"/><rect x="190.74" y="598.36" width="5.51" height="5.68" fill="#d58121"/><rect x="195.76" y="598.36" width="5.51" height="5.68" fill="#d58121"/><rect x="200.77" y="598.36" width="5.51" height="5.68" fill="#d58121"/><rect x="205.78" y="598.36" width="5.51" height="5.68" fill="#9a3409"/><rect x="210.79" y="598.36" width="5.51" height="5.68" fill="#140200"/><rect x="215.80" y="598.36" width="5.51" height="5.68" fill="#651b06"/><rect x="220.81" y="598.36" width="5.51" height="5.68" fill="#350801"/><rect x="225.82" y="598.36" width="5.51" height="5.68" fill="#c35a10"/><rect x="230.83" y="598.36" width="5.51" height="5.68" fill="#9a3409"/><rect x="235.84" y="598.36" width="5.51" height="5.68" fill="#350801"/><rect x="240.86" y="598.36" width="5.51" height="5.68" fill="#140200"/><rect x="245.87" y="598.36" width="5.51" height="5.68" fill="#050000"/><rect x="250.88" y="598.36" width="5.51" height="5.68" fill="#050000"/><rect x="255.89" y="598.36" width="10.52" height="5.68" fill="#050000"/><rect x="165.69" y="603.54" width="10.52" height="5.68" fill="#140200"/><rect x="175.71" y="603.54" width="5.51" height="5.68" fill="#350801"/><rect x="180.72" y="603.54" width="5.51" height="5.68" fill="#140200"/><rect x="185.73" y="603.54" width="5.51" height="5.68" fill="#584413"/><rect x="190.74" y="603.54" width="5.51" height="5.68" fill="#d58121"/><rect x="195.76" y="603.54" width="5.51" height="5.68" fill="#d58121"/><rect x="200.77" y="603.54" width="5.51" height="5.68" fill="#9a3409"/><rect x="205.78" y="603.54" width="5.51" height="5.68" fill="#350801"/><rect x="210.79" y="603.54" width="5.51" height="5.68" fill="#050000"/><rect x="215.80" y="603.54" width="5.51" height="5.68" fill="#350801"/><rect x="220.81" y="603.54" width="5.51" height="5.68" fill="#350801"/><rect x="225.82" y="603.54" width="5.51" height="5.68" fill="#9a3409"/><rect x="230.83" y="603.54" width="5.51" height="5.68" fill="#9a3409"/><rect x="235.84" y="603.54" width="5.51" height="5.68" fill="#651b06"/><rect x="240.86" y="603.54" width="5.51" height="5.68" fill="#140200"/><rect x="245.87" y="603.54" width="5.51" height="5.68" fill="#050000"/><rect x="250.88" y="603.54" width="5.51" height="5.68" fill="#050000"/><rect x="255.89" y="603.54" width="10.52" height="5.68" fill="#050000"/><rect x="165.69" y="608.72" width="10.52" height="5.68" fill="#140200"/><rect x="175.71" y="608.72" width="5.51" height="5.68" fill="#350801"/><rect x="180.72" y="608.72" width="5.51" height="5.68" fill="#584413"/><rect x="185.73" y="608.72" width="5.51" height="5.68" fill="#584413"/><rect x="190.74" y="608.72" width="5.51" height="5.68" fill="#584413"/><rect x="195.76" y="608.72" width="5.51" height="5.68" fill="#584413"/><rect x="200.77" y="608.72" width="5.51" height="5.68" fill="#9a3409"/><rect x="205.78" y="608.72" width="5.51" height="5.68" fill="#140200"/><rect x="210.79" y="608.72" width="5.51" height="5.68" fill="#050000"/><rect x="215.80" y="608.72" width="5.51" height="5.68" fill="#651b06"/><rect x="220.81" y="608.72" width="5.51" height="5.68" fill="#651b06"/><rect x="225.82" y="608.72" width="5.51" height="5.68" fill="#9a3409"/><rect x="230.83" y="608.72" width="5.51" height="5.68" fill="#651b06"/><rect x="235.84" y="608.72" width="5.51" height="5.68" fill="#651b06"/><rect x="240.86" y="608.72" width="5.51" height="5.68" fill="#140200"/><rect x="245.87" y="608.72" width="5.51" height="5.68" fill="#140200"/><rect x="250.88" y="608.72" width="5.51" height="5.68" fill="#050000"/><rect x="255.89" y="608.72" width="10.52" height="5.68" fill="#050000"/><rect x="165.69" y="613.90" width="10.52" height="5.68" fill="#d58121"/><rect x="175.71" y="613.90" width="5.51" height="5.68" fill="#651b06"/><rect x="180.72" y="613.90" width="5.51" height="5.68" fill="#584413"/><rect x="185.73" y="613.90" width="5.51" height="5.68" fill="#584413"/><rect x="190.74" y="613.90" width="5.51" height="5.68" fill="#350801"/><rect x="195.76" y="613.90" width="5.51" height="5.68" fill="#584413"/><rect x="200.77" y="613.90" width="5.51" height="5.68" fill="#350801"/><rect x="205.78" y="613.90" width="5.51" height="5.68" fill="#140200"/><rect x="210.79" y="613.90" width="5.51" height="5.68" fill="#c35a10"/><rect x="215.80" y="613.90" width="5.51" height="5.68" fill="#c35a10"/><rect x="220.81" y="613.90" width="5.51" height="5.68" fill="#651b06"/><rect x="225.82" y="613.90" width="5.51" height="5.68" fill="#651b06"/><rect x="230.83" y="613.90" width="5.51" height="5.68" fill="#651b06"/><rect x="235.84" y="613.90" width="5.51" height="5.68" fill="#350801"/><rect x="240.86" y="613.90" width="5.51" height="5.68" fill="#651b06"/><rect x="245.87" y="613.90" width="5.51" height="5.68" fill="#140200"/><rect x="250.88" y="613.90" width="5.51" height="5.68" fill="#140200"/><rect x="255.89" y="613.90" width="10.52" height="5.68" fill="#050000"/><rect x="165.69" y="619.08" width="10.52" height="5.68" fill="#d58121"/><rect x="175.71" y="619.08" width="5.51" height="5.68" fill="#584413"/><rect x="180.72" y="619.08" width="5.51" height="5.68" fill="#584413"/><rect x="185.73" y="619.08" width="5.51" height="5.68" fill="#651b06"/><rect x="190.74" y="619.08" width="5.51" height="5.68" fill="#350801"/><rect x="195.76" y="619.08" width="5.51" height="5.68" fill="#350801"/><rect x="200.77" y="619.08" width="5.51" height="5.68" fill="#584413"/><rect x="205.78" y="619.08" width="5.51" height="5.68" fill="#140200"/><rect x="210.79" y="619.08" width="5.51" height="5.68" fill="#c35a10"/><rect x="215.80" y="619.08" width="5.51" height="5.68" fill="#c35a10"/><rect x="220.81" y="619.08" width="5.51" height="5.68" fill="#c35a10"/><rect x="225.82" y="619.08" width="5.51" height="5.68" fill="#651b06"/><rect x="230.83" y="619.08" width="5.51" height="5.68" fill="#350801"/><rect x="235.84" y="619.08" width="5.51" height="5.68" fill="#c35a10"/><rect x="240.86" y="619.08" width="5.51" height="5.68" fill="#c35a10"/><rect x="245.87" y="619.08" width="5.51" height="5.68" fill="#651b06"/><rect x="250.88" y="619.08" width="5.51" height="5.68" fill="#140200"/><rect x="255.89" y="619.08" width="10.52" height="5.68" fill="#140200"/><rect x="165.69" y="624.26" width="10.52" height="5.68" fill="#140200"/><rect x="175.71" y="624.26" width="5.51" height="5.68" fill="#651b06"/><rect x="180.72" y="624.26" width="5.51" height="5.68" fill="#c35a10"/><rect x="185.73" y="624.26" width="5.51" height="5.68" fill="#c35a10"/><rect x="190.74" y="624.26" width="5.51" height="5.68" fill="#651b06"/><rect x="195.76" y="624.26" width="5.51" height="5.68" fill="#140200"/><rect x="200.77" y="624.26" width="5.51" height="5.68" fill="#140200"/><rect x="205.78" y="624.26" width="5.51" height="5.68" fill="#140200"/><rect x="210.79" y="624.26" width="5.51" height="5.68" fill="#9a3409"/><rect x="215.80" y="624.26" width="5.51" height="5.68" fill="#c35a10"/><rect x="220.81" y="624.26" width="5.51" height="5.68" fill="#9a3409"/><rect x="225.82" y="624.26" width="5.51" height="5.68" fill="#9a3409"/><rect x="230.83" y="624.26" width="5.51" height="5.68" fill="#350801"/><rect x="235.84" y="624.26" width="5.51" height="5.68" fill="#c35a10"/><rect x="240.86" y="624.26" width="5.51" height="5.68" fill="#c35a10"/><rect x="245.87" y="624.26" width="5.51" height="5.68" fill="#c35a10"/><rect x="250.88" y="624.26" width="5.51" height="5.68" fill="#c35a10"/><rect x="255.89" y="624.26" width="10.52" height="5.68" fill="#140200"/><rect x="165.69" y="629.44" width="10.52" height="5.68" fill="#140200"/><rect x="175.71" y="629.44" width="5.51" height="5.68" fill="#c35a10"/><rect x="180.72" y="629.44" width="5.51" height="5.68" fill="#c35a10"/><rect x="185.73" y="629.44" width="5.51" height="5.68" fill="#9a3409"/><rect x="190.74" y="629.44" width="5.51" height="5.68" fill="#350801"/><rect x="195.76" y="629.44" width="5.51" height="5.68" fill="#140200"/><rect x="200.77" y="629.44" width="5.51" height="5.68" fill="#140200"/><rect x="205.78" y="629.44" width="5.51" height="5.68" fill="#350801"/><rect x="210.79" y="629.44" width="5.51" height="5.68" fill="#c35a10"/><rect x="215.80" y="629.44" width="5.51" height="5.68" fill="#d58121"/><rect x="220.81" y="629.44" width="5.51" height="5.68" fill="#9a3409"/><rect x="225.82" y="629.44" width="5.51" height="5.68" fill="#c35a10"/><rect x="230.83" y="629.44" width="5.51" height="5.68" fill="#9a3409"/><rect x="235.84" y="629.44" width="5.51" height="5.68" fill="#350801"/><rect x="240.86" y="629.44" width="5.51" height="5.68" fill="#c35a10"/><rect x="245.87" y="629.44" width="5.51" height="5.68" fill="#c35a10"/><rect x="250.88" y="629.44" width="5.51" height="5.68" fill="#c35a10"/><rect x="255.89" y="629.44" width="10.52" height="5.68" fill="#350801"/><rect x="165.69" y="634.62" width="10.52" height="10.86" fill="#140200"/><rect x="175.71" y="634.62" width="5.51" height="10.86" fill="#c35a10"/><rect x="180.72" y="634.62" width="5.51" height="10.86" fill="#c35a10"/><rect x="185.73" y="634.62" width="5.51" height="10.86" fill="#651b06"/><rect x="190.74" y="634.62" width="5.51" height="10.86" fill="#350801"/><rect x="195.76" y="634.62" width="5.51" height="10.86" fill="#350801"/><rect x="200.77" y="634.62" width="5.51" height="10.86" fill="#140200"/><rect x="205.78" y="634.62" width="5.51" height="10.86" fill="#350801"/><rect x="210.79" y="634.62" width="5.51" height="10.86" fill="#9a3409"/><rect x="215.80" y="634.62" width="5.51" height="10.86" fill="#c35a10"/><rect x="220.81" y="634.62" width="5.51" height="10.86" fill="#c35a10"/><rect x="225.82" y="634.62" width="5.51" height="10.86" fill="#c35a10"/><rect x="230.83" y="634.62" width="5.51" height="10.86" fill="#9a3409"/><rect x="235.84" y="634.62" width="5.51" height="10.86" fill="#350801"/><rect x="240.86" y="634.62" width="5.51" height="10.86" fill="#c35a10"/><rect x="245.87" y="634.62" width="5.51" height="10.86" fill="#c35a10"/><rect x="250.88" y="634.62" width="5.51" height="10.86" fill="#651b06"/><rect x="255.89" y="634.62" width="10.52" height="10.86" fill="#140200"/></g><rect x="170.7" y="536.2" width="90.2" height="103.6" filter="url(#tex)" opacity="0.45"/><ellipse cx="191.90" cy="548.50" rx="4.8" ry="6.1" transform="rotate(20 191.90 548.50)" fill="#c0a0f0" filter="url(#nb)"/><ellipse cx="196.70" cy="558.70" rx="4.1" ry="5.5" transform="rotate(20 196.70 558.70)" fill="#f0c8f0" filter="url(#nb)"/><ellipse cx="219.90" cy="558.70" rx="5.7" ry="8.9" transform="rotate(15 219.90 558.70)" fill="#fff0f0" filter="url(#nb)"/><ellipse cx="240.40" cy="562.20" rx="4.8" ry="7.5" transform="rotate(10 240.40 562.20)" fill="#f8d8f0" filter="url(#nb)"/><ellipse cx="224.00" cy="582.00" rx="4.1" ry="6.8" transform="rotate(20 224.00 582.00)" fill="#f8e0e8" filter="url(#nb)"/><ellipse cx="204.60" cy="592.90" rx="3" ry="6.1" transform="rotate(15 204.60 592.90)" fill="#f0d0f0" filter="url(#nb)"/><ellipse cx="234.20" cy="597.70" rx="4.8" ry="7.5" transform="rotate(-10 234.20 597.70)" fill="#f0c0e8" filter="url(#nb)"/><ellipse cx="195.30" cy="601.10" rx="4.8" ry="6.8" transform="rotate(-20 195.30 601.10)" fill="#f8e0c0" filter="url(#nb)"/><ellipse cx="212.40" cy="620.90" rx="4.1" ry="5.5" transform="rotate(0 212.40 620.90)" fill="#f8d8e0" filter="url(#nb)"/><ellipse cx="172.10" cy="618.20" rx="2" ry="5.5" transform="rotate(0 172.10 618.20)" fill="#f8e0c0" filter="url(#nb)"/><ellipse cx="181.60" cy="633.20" rx="5.5" ry="6.8" transform="rotate(0 181.60 633.20)" fill="#e888d0" filter="url(#nb)"/><ellipse cx="230.10" cy="632.50" rx="6.1" ry="6.8" transform="rotate(0 230.10 632.50)" fill="#f0b8d8" filter="url(#nb)"/><ellipse cx="251.30" cy="629.80" rx="5.5" ry="5.5" transform="rotate(20 251.30 629.80)" fill="#d090d0" filter="url(#nb)"/></g><clipPath id="mc4"><rect x="40.3" y="646.8" width="89.3" height="103.6"/></clipPath><g clip-path="url(#mc4)"><rect x="40.30" y="646.80" width="89.30" height="103.60" fill="#200400" stroke="none" stroke-width="1"/><g filter="url(#mb4)"><filter id="mb4" x="-10%" y="-10%" width="120%" height="120%"><feGaussianBlur stdDeviation="2.2"/></filter><rect x="35.34" y="641.62" width="10.42" height="10.86" fill="#c6334a"/><rect x="45.26" y="641.62" width="5.46" height="10.86" fill="#c6334a"/><rect x="50.22" y="641.62" width="5.46" height="10.86" fill="#c6334a"/><rect x="55.18" y="641.62" width="5.46" height="10.86" fill="#651706"/><rect x="60.14" y="641.62" width="5.46" height="10.86" fill="#651706"/><rect x="65.11" y="641.62" width="5.46" height="10.86" fill="#651706"/><rect x="70.07" y="641.62" width="5.46" height="10.86" fill="#651706"/><rect x="75.03" y="641.62" width="5.46" height="10.86" fill="#350701"/><rect x="79.99" y="641.62" width="5.46" height="10.86" fill="#350701"/><rect x="84.95" y="641.62" width="5.46" height="10.86" fill="#140200"/><rect x="89.91" y="641.62" width="5.46" height="10.86" fill="#140200"/><rect x="94.87" y="641.62" width="5.46" height="10.86" fill="#140200"/><rect x="99.83" y="641.62" width="5.46" height="10.86" fill="#140200"/><rect x="104.79" y="641.62" width="5.46" height="10.86" fill="#140200"/><rect x="109.76" y="641.62" width="5.46" height="10.86" fill="#350701"/><rect x="114.72" y="641.62" width="5.46" height="10.86" fill="#c6334a"/><rect x="119.68" y="641.62" width="5.46" height="10.86" fill="#c6334a"/><rect x="124.64" y="641.62" width="10.42" height="10.86" fill="#651706"/><rect x="35.34" y="651.98" width="10.42" height="5.68" fill="#c6334a"/><rect x="45.26" y="651.98" width="5.46" height="5.68" fill="#c6334a"/><rect x="50.22" y="651.98" width="5.46" height="5.68" fill="#c6334a"/><rect x="55.18" y="651.98" width="5.46" height="5.68" fill="#651706"/><rect x="60.14" y="651.98" width="5.46" height="5.68" fill="#350701"/><rect x="65.11" y="651.98" width="5.46" height="5.68" fill="#651706"/><rect x="70.07" y="651.98" width="5.46" height="5.68" fill="#651706"/><rect x="75.03" y="651.98" width="5.46" height="5.68" fill="#350701"/><rect x="79.99" y="651.98" width="5.46" height="5.68" fill="#350701"/><rect x="84.95" y="651.98" width="5.46" height="5.68" fill="#140200"/><rect x="89.91" y="651.98" width="5.46" height="5.68" fill="#140200"/><rect x="94.87" y="651.98" width="5.46" height="5.68" fill="#140200"/><rect x="99.83" y="651.98" width="5.46" height="5.68" fill="#140200"/><rect x="104.79" y="651.98" width="5.46" height="5.68" fill="#350701"/><rect x="109.76" y="651.98" width="5.46" height="5.68" fill="#651706"/><rect x="114.72" y="651.98" width="5.46" height="5.68" fill="#c6334a"/><rect x="119.68" y="651.98" width="5.46" height="5.68" fill="#c6334a"/><rect x="124.64" y="651.98" width="10.42" height="5.68" fill="#9a2c0a"/><rect x="35.34" y="657.16" width="10.42" height="5.68" fill="#651706"/><rect x="45.26" y="657.16" width="5.46" height="5.68" fill="#651706"/><rect x="50.22" y="657.16" width="5.46" height="5.68" fill="#651706"/><rect x="55.18" y="657.16" width="5.46" height="5.68" fill="#350701"/><rect x="60.14" y="657.16" width="5.46" height="5.68" fill="#350701"/><rect x="65.11" y="657.16" width="5.46" height="5.68" fill="#651706"/><rect x="70.07" y="657.16" width="5.46" height="5.68" fill="#350701"/><rect x="75.03" y="657.16" width="5.46" height="5.68" fill="#350701"/><rect x="79.99" y="657.16" width="5.46" height="5.68" fill="#140200"/><rect x="84.95" y="657.16" width="5.46" height="5.68" fill="#140200"/><rect x="89.91" y="657.16" width="5.46" height="5.68" fill="#140200"/><rect x="94.87" y="657.16" width="5.46" height="5.68" fill="#651706"/><rect x="99.83" y="657.16" width="5.46" height="5.68" fill="#651706"/><rect x="104.79" y="657.16" width="5.46" height="5.68" fill="#350701"/><rect x="109.76" y="657.16" width="5.46" height="5.68" fill="#651706"/><rect x="114.72" y="657.16" width="5.46" height="5.68" fill="#651706"/><rect x="119.68" y="657.16" width="5.46" height="5.68" fill="#651706"/><rect x="124.64" y="657.16" width="10.42" height="5.68" fill="#140200"/><rect x="35.34" y="662.34" width="10.42" height="5.68" fill="#350701"/><rect x="45.26" y="662.34" width="5.46" height="5.68" fill="#350701"/><rect x="50.22" y="662.34" width="5.46" height="5.68" fill="#350701"/><rect x="55.18" y="662.34" width="5.46" height="5.68" fill="#140200"/><rect x="60.14" y="662.34" width="5.46" height="5.68" fill="#140200"/><rect x="65.11" y="662.34" width="5.46" height="5.68" fill="#350701"/><rect x="70.07" y="662.34" width="5.46" height="5.68" fill="#350701"/><rect x="75.03" y="662.34" width="5.46" height="5.68" fill="#140200"/><rect x="79.99" y="662.34" width="5.46" height="5.68" fill="#140200"/><rect x="84.95" y="662.34" width="5.46" height="5.68" fill="#140200"/><rect x="89.91" y="662.34" width="5.46" height="5.68" fill="#651706"/><rect x="94.87" y="662.34" width="5.46" height="5.68" fill="#651706"/><rect x="99.83" y="662.34" width="5.46" height="5.68" fill="#9a2c0a"/><rect x="104.79" y="662.34" width="5.46" height="5.68" fill="#9a2c0a"/><rect x="109.76" y="662.34" width="5.46" height="5.68" fill="#651706"/><rect x="114.72" y="662.34" width="5.46" height="5.68" fill="#651706"/><rect x="119.68" y="662.34" width="5.46" height="5.68" fill="#350701"/><rect x="124.64" y="662.34" width="10.42" height="5.68" fill="#140200"/><rect x="35.34" y="667.52" width="10.42" height="5.68" fill="#c63322"/><rect x="45.26" y="667.52" width="5.46" height="5.68" fill="#c63322"/><rect x="50.22" y="667.52" width="5.46" height="5.68" fill="#651706"/><rect x="55.18" y="667.52" width="5.46" height="5.68" fill="#350701"/><rect x="60.14" y="667.52" width="5.46" height="5.68" fill="#140200"/><rect x="65.11" y="667.52" width="5.46" height="5.68" fill="#651706"/><rect x="70.07" y="667.52" width="5.46" height="5.68" fill="#350701"/><rect x="75.03" y="667.52" width="5.46" height="5.68" fill="#350701"/><rect x="79.99" y="667.52" width="5.46" height="5.68" fill="#140200"/><rect x="84.95" y="667.52" width="5.46" height="5.68" fill="#350701"/><rect x="89.91" y="667.52" width="5.46" height="5.68" fill="#140200"/><rect x="94.87" y="667.52" width="5.46" height="5.68" fill="#651706"/><rect x="99.83" y="667.52" width="5.46" height="5.68" fill="#651706"/><rect x="104.79" y="667.52" width="5.46" height="5.68" fill="#c63322"/><rect x="109.76" y="667.52" width="5.46" height="5.68" fill="#c63322"/><rect x="114.72" y="667.52" width="5.46" height="5.68" fill="#9a2c0a"/><rect x="119.68" y="667.52" width="5.46" height="5.68" fill="#651706"/><rect x="124.64" y="667.52" width="10.42" height="5.68" fill="#140200"/><rect x="35.34" y="672.70" width="10.42" height="5.68" fill="#c63322"/><rect x="45.26" y="672.70" width="5.46" height="5.68" fill="#c34c11"/><rect x="50.22" y="672.70" width="5.46" height="5.68" fill="#c34c11"/><rect x="55.18" y="672.70" width="5.46" height="5.68" fill="#9a2c0a"/><rect x="60.14" y="672.70" width="5.46" height="5.68" fill="#651706"/><rect x="65.11" y="672.70" width="5.46" height="5.68" fill="#651706"/><rect x="70.07" y="672.70" width="5.46" height="5.68" fill="#651706"/><rect x="75.03" y="672.70" width="5.46" height="5.68" fill="#350701"/><rect x="79.99" y="672.70" width="5.46" height="5.68" fill="#651706"/><rect x="84.95" y="672.70" width="5.46" height="5.68" fill="#651706"/><rect x="89.91" y="672.70" width="5.46" height="5.68" fill="#140200"/><rect x="94.87" y="672.70" width="5.46" height="5.68" fill="#350701"/><rect x="99.83" y="672.70" width="5.46" height="5.68" fill="#9a2c0a"/><rect x="104.79" y="672.70" width="5.46" height="5.68" fill="#c63322"/><rect x="109.76" y="672.70" width="5.46" height="5.68" fill="#c63322"/><rect x="114.72" y="672.70" width="5.46" height="5.68" fill="#c63322"/><rect x="119.68" y="672.70" width="5.46" height="5.68" fill="#9a2c0a"/><rect x="124.64" y="672.70" width="10.42" height="5.68" fill="#140200"/><rect x="35.34" y="677.88" width="10.42" height="5.68" fill="#c63322"/><rect x="45.26" y="677.88" width="5.46" height="5.68" fill="#9a2c0a"/><rect x="50.22" y="677.88" width="5.46" height="5.68" fill="#c34c11"/><rect x="55.18" y="677.88" width="5.46" height="5.68" fill="#c34c11"/><rect x="60.14" y="677.88" width="5.46" height="5.68" fill="#9a2c0a"/><rect x="65.11" y="677.88" width="5.46" height="5.68" fill="#583914"/><rect x="70.07" y="677.88" width="5.46" height="5.68" fill="#651706"/><rect x="75.03" y="677.88" width="5.46" height="5.68" fill="#350701"/><rect x="79.99" y="677.88" width="5.46" height="5.68" fill="#c6334a"/><rect x="84.95" y="677.88" width="5.46" height="5.68" fill="#c34c11"/><rect x="89.91" y="677.88" width="5.46" height="5.68" fill="#651706"/><rect x="94.87" y="677.88" width="5.46" height="5.68" fill="#350701"/><rect x="99.83" y="677.88" width="5.46" height="5.68" fill="#350701"/><rect x="104.79" y="677.88" width="5.46" height="5.68" fill="#9a2c0a"/><rect x="109.76" y="677.88" width="5.46" height="5.68" fill="#9a2c0a"/><rect x="114.72" y="677.88" width="5.46" height="5.68" fill="#651706"/><rect x="119.68" y="677.88" width="5.46" height="5.68" fill="#140200"/><rect x="124.64" y="677.88" width="10.42" height="5.68" fill="#140200"/><rect x="35.34" y="683.06" width="10.42" height="5.68" fill="#651706"/><rect x="45.26" y="683.06" width="5.46" height="5.68" fill="#9a2c0a"/><rect x="50.22" y="683.06" width="5.46" height="5.68" fill="#9a2c0a"/><rect x="55.18" y="683.06" width="5.46" height="5.68" fill="#9a2c0a"/><rect x="60.14" y="683.06" width="5.46" height="5.68" fill="#9a2c0a"/><rect x="65.11" y="683.06" width="5.46" height="5.68" fill="#583914"/><rect x="70.07" y="683.06" width="5.46" height="5.68" fill="#651706"/><rect x="75.03" y="683.06" width="5.46" height="5.68" fill="#651706"/><rect x="79.99" y="683.06" width="5.46" height="5.68" fill="#c6334a"/><rect x="84.95" y="683.06" width="5.46" height="5.68" fill="#c34c11"/><rect x="89.91" y="683.06" width="5.46" height="5.68" fill="#9a2c0a"/><rect x="94.87" y="683.06" width="5.46" height="5.68" fill="#350701"/><rect x="99.83" y="683.06" width="5.46" height="5.68" fill="#350701"/><rect x="104.79" y="683.06" width="5.46" height="5.68" fill="#350701"/><rect x="109.76" y="683.06" width="5.46" height="5.68" fill="#350701"/><rect x="114.72" y="683.06" width="5.46" height="5.68" fill="#350701"/><rect x="119.68" y="683.06" width="5.46" height="5.68" fill="#140200"/><rect x="124.64" y="683.06" width="10.42" height="5.68" fill="#140200"/><rect x="35.34" y="688.24" width="10.42" height="5.68" fill="#140200"/><rect x="45.26" y="688.24" width="5.46" height="5.68" fill="#651706"/><rect x="50.22" y="688.24" width="5.46" height="5.68" fill="#350701"/><rect x="55.18" y="688.24" width="5.46" height="5.68" fill="#651706"/><rect x="60.14" y="688.24" width="5.46" height="5.68" fill="#350701"/><rect x="65.11" y="688.24" width="5.46" height="5.68" fill="#d56d23"/><rect x="70.07" y="688.24" width="5.46" height="5.68" fill="#350701"/><rect x="75.03" y="688.24" width="5.46" height="5.68" fill="#140200"/><rect x="79.99" y="688.24" width="5.46" height="5.68" fill="#651706"/><rect x="84.95" y="688.24" width="5.46" height="5.68" fill="#c63322"/><rect x="89.91" y="688.24" width="5.46" height="5.68" fill="#c63322"/><rect x="94.87" y="688.24" width="5.46" height="5.68" fill="#651706"/><rect x="99.83" y="688.24" width="5.46" height="5.68" fill="#350701"/><rect x="104.79" y="688.24" width="5.46" height="5.68" fill="#140200"/><rect x="109.76" y="688.24" width="5.46" height="5.68" fill="#140200"/><rect x="114.72" y="688.24" width="5.46" height="5.68" fill="#140200"/><rect x="119.68" y="688.24" width="5.46" height="5.68" fill="#140200"/><rect x="124.64" y="688.24" width="10.42" height="5.68" fill="#140200"/><rect x="35.34" y="693.42" width="10.42" height="5.68" fill="#140200"/><rect x="45.26" y="693.42" width="5.46" height="5.68" fill="#651706"/><rect x="50.22" y="693.42" width="5.46" height="5.68" fill="#350701"/><rect x="55.18" y="693.42" width="5.46" height="5.68" fill="#651706"/><rect x="60.14" y="693.42" width="5.46" height="5.68" fill="#350701"/><rect x="65.11" y="693.42" width="5.46" height="5.68" fill="#dc8a51"/><rect x="70.07" y="693.42" width="5.46" height="5.68" fill="#350701"/><rect x="75.03" y="693.42" width="5.46" height="5.68" fill="#140200"/><rect x="79.99" y="693.42" width="5.46" height="5.68" fill="#651706"/><rect x="84.95" y="693.42" width="5.46" height="5.68" fill="#651706"/><rect x="89.91" y="693.42" width="5.46" height="5.68" fill="#651706"/><rect x="94.87" y="693.42" width="5.46" height="5.68" fill="#651706"/><rect x="99.83" y="693.42" width="5.46" height="5.68" fill="#140200"/><rect x="104.79" y="693.42" width="5.46" height="5.68" fill="#140200"/><rect x="109.76" y="693.42" width="5.46" height="5.68" fill="#140200"/><rect x="114.72" y="693.42" width="5.46" height="5.68" fill="#140200"/><rect x="119.68" y="693.42" width="5.46" height="5.68" fill="#140200"/><rect x="124.64" y="693.42" width="10.42" height="5.68" fill="#140200"/><rect x="35.34" y="698.60" width="10.42" height="5.68" fill="#651706"/><rect x="45.26" y="698.60" width="5.46" height="5.68" fill="#9a2c0a"/><rect x="50.22" y="698.60" width="5.46" height="5.68" fill="#c34c11"/><rect x="55.18" y="698.60" width="5.46" height="5.68" fill="#651706"/><rect x="60.14" y="698.60" width="5.46" height="5.68" fill="#140200"/><rect x="65.11" y="698.60" width="5.46" height="5.68" fill="#140200"/><rect x="70.07" y="698.60" width="5.46" height="5.68" fill="#651706"/><rect x="75.03" y="698.60" width="5.46" height="5.68" fill="#c34c11"/><rect x="79.99" y="698.60" width="5.46" height="5.68" fill="#651706"/><rect x="84.95" y="698.60" width="5.46" height="5.68" fill="#651706"/><rect x="89.91" y="698.60" width="5.46" height="5.68" fill="#651706"/><rect x="94.87" y="698.60" width="5.46" height="5.68" fill="#651706"/><rect x="99.83" y="698.60" width="5.46" height="5.68" fill="#9a2c0a"/><rect x="104.79" y="698.60" width="5.46" height="5.68" fill="#c34c11"/><rect x="109.76" y="698.60" width="5.46" height="5.68" fill="#9a2c0a"/><rect x="114.72" y="698.60" width="5.46" height="5.68" fill="#140200"/><rect x="119.68" y="698.60" width="5.46" height="5.68" fill="#140200"/><rect x="124.64" y="698.60" width="10.42" height="5.68" fill="#140200"/><rect x="35.34" y="703.78" width="10.42" height="5.68" fill="#d56d23"/><rect x="45.26" y="703.78" width="5.46" height="5.68" fill="#c34c11"/><rect x="50.22" y="703.78" width="5.46" height="5.68" fill="#9a2c0a"/><rect x="55.18" y="703.78" width="5.46" height="5.68" fill="#140200"/><rect x="60.14" y="703.78" width="5.46" height="5.68" fill="#140200"/><rect x="65.11" y="703.78" width="5.46" height="5.68" fill="#651706"/><rect x="70.07" y="703.78" width="5.46" height="5.68" fill="#9a2c0a"/><rect x="75.03" y="703.78" width="5.46" height="5.68" fill="#c34c11"/><rect x="79.99" y="703.78" width="5.46" height="5.68" fill="#c34c11"/><rect x="84.95" y="703.78" width="5.46" height="5.68" fill="#651706"/><rect x="89.91" y="703.78" width="5.46" height="5.68" fill="#9a2c0a"/><rect x="94.87" y="703.78" width="5.46" height="5.68" fill="#c34c11"/><rect x="99.83" y="703.78" width="5.46" height="5.68" fill="#c34c11"/><rect x="104.79" y="703.78" width="5.46" height="5.68" fill="#c34c11"/><rect x="109.76" y="703.78" width="5.46" height="5.68" fill="#651706"/><rect x="114.72" y="703.78" width="5.46" height="5.68" fill="#140200"/><rect x="119.68" y="703.78" width="5.46" height="5.68" fill="#140200"/><rect x="124.64" y="703.78" width="10.42" height="5.68" fill="#140200"/><rect x="35.34" y="708.96" width="10.42" height="5.68" fill="#d56d23"/><rect x="45.26" y="708.96" width="5.46" height="5.68" fill="#d56d23"/><rect x="50.22" y="708.96" width="5.46" height="5.68" fill="#9a2c0a"/><rect x="55.18" y="708.96" width="5.46" height="5.68" fill="#140200"/><rect x="60.14" y="708.96" width="5.46" height="5.68" fill="#140200"/><rect x="65.11" y="708.96" width="5.46" height="5.68" fill="#651706"/><rect x="70.07" y="708.96" width="5.46" height="5.68" fill="#c34c11"/><rect x="75.03" y="708.96" width="5.46" height="5.68" fill="#c34c11"/><rect x="79.99" y="708.96" width="5.46" height="5.68" fill="#c34c11"/><rect x="84.95" y="708.96" width="5.46" height="5.68" fill="#140200"/><rect x="89.91" y="708.96" width="5.46" height="5.68" fill="#9a2c0a"/><rect x="94.87" y="708.96" width="5.46" height="5.68" fill="#c34c11"/><rect x="99.83" y="708.96" width="5.46" height="5.68" fill="#c34c11"/><rect x="104.79" y="708.96" width="5.46" height="5.68" fill="#9a2c0a"/><rect x="109.76" y="708.96" width="5.46" height="5.68" fill="#651706"/><rect x="114.72" y="708.96" width="5.46" height="5.68" fill="#140200"/><rect x="119.68" y="708.96" width="5.46" height="5.68" fill="#140200"/><rect x="124.64" y="708.96" width="10.42" height="5.68" fill="#140200"/><rect x="35.34" y="714.14" width="10.42" height="5.68" fill="#d56d23"/><rect x="45.26" y="714.14" width="5.46" height="5.68" fill="#c34c11"/><rect x="50.22" y="714.14" width="5.46" height="5.68" fill="#651706"/><rect x="55.18" y="714.14" width="5.46" height="5.68" fill="#140200"/><rect x="60.14" y="714.14" width="5.46" height="5.68" fill="#140200"/><rect x="65.11" y="714.14" width="5.46" height="5.68" fill="#c34c11"/><rect x="70.07" y="714.14" width="5.46" height="5.68" fill="#d56d23"/><rect x="75.03" y="714.14" width="5.46" height="5.68" fill="#c34c11"/><rect x="79.99" y="714.14" width="5.46" height="5.68" fill="#c34c11"/><rect x="84.95" y="714.14" width="5.46" height="5.68" fill="#651706"/><rect x="89.91" y="714.14" width="5.46" height="5.68" fill="#c34c11"/><rect x="94.87" y="714.14" width="5.46" height="5.68" fill="#c34c11"/><rect x="99.83" y="714.14" width="5.46" height="5.68" fill="#c34c11"/><rect x="104.79" y="714.14" width="5.46" height="5.68" fill="#9a2c0a"/><rect x="109.76" y="714.14" width="5.46" height="5.68" fill="#140200"/><rect x="114.72" y="714.14" width="5.46" height="5.68" fill="#140200"/><rect x="119.68" y="714.14" width="5.46" height="5.68" fill="#140200"/><rect x="124.64" y="714.14" width="10.42" height="5.68" fill="#140200"/><rect x="35.34" y="719.32" width="10.42" height="5.68" fill="#651706"/><rect x="45.26" y="719.32" width="5.46" height="5.68" fill="#651706"/><rect x="50.22" y="719.32" width="5.46" height="5.68" fill="#350701"/><rect x="55.18" y="719.32" width="5.46" height="5.68" fill="#140200"/><rect x="60.14" y="719.32" width="5.46" height="5.68" fill="#651706"/><rect x="65.11" y="719.32" width="5.46" height="5.68" fill="#c34c11"/><rect x="70.07" y="719.32" width="5.46" height="5.68" fill="#c34c11"/><rect x="75.03" y="719.32" width="5.46" height="5.68" fill="#c34c11"/><rect x="79.99" y="719.32" width="5.46" height="5.68" fill="#c34c11"/><rect x="84.95" y="719.32" width="5.46" height="5.68" fill="#9a2c0a"/><rect x="89.91" y="719.32" width="5.46" height="5.68" fill="#c34c11"/><rect x="94.87" y="719.32" width="5.46" height="5.68" fill="#c34c11"/><rect x="99.83" y="719.32" width="5.46" height="5.68" fill="#c34c11"/><rect x="104.79" y="719.32" width="5.46" height="5.68" fill="#651706"/><rect x="109.76" y="719.32" width="5.46" height="5.68" fill="#140200"/><rect x="114.72" y="719.32" width="5.46" height="5.68" fill="#140200"/><rect x="119.68" y="719.32" width="5.46" height="5.68" fill="#140200"/><rect x="124.64" y="719.32" width="10.42" height="5.68" fill="#140200"/><rect x="35.34" y="724.50" width="10.42" height="5.68" fill="#350701"/><rect x="45.26" y="724.50" width="5.46" height="5.68" fill="#350701"/><rect x="50.22" y="724.50" width="5.46" height="5.68" fill="#140200"/><rect x="55.18" y="724.50" width="5.46" height="5.68" fill="#140200"/><rect x="60.14" y="724.50" width="5.46" height="5.68" fill="#651706"/><rect x="65.11" y="724.50" width="5.46" height="5.68" fill="#9a2c0a"/><rect x="70.07" y="724.50" width="5.46" height="5.68" fill="#c34c11"/><rect x="75.03" y="724.50" width="5.46" height="5.68" fill="#c34c11"/><rect x="79.99" y="724.50" width="5.46" height="5.68" fill="#c34c11"/><rect x="84.95" y="724.50" width="5.46" height="5.68" fill="#9a2c0a"/><rect x="89.91" y="724.50" width="5.46" height="5.68" fill="#c34c11"/><rect x="94.87" y="724.50" width="5.46" height="5.68" fill="#c34c11"/><rect x="99.83" y="724.50" width="5.46" height="5.68" fill="#9a2c0a"/><rect x="104.79" y="724.50" width="5.46" height="5.68" fill="#651706"/><rect x="109.76" y="724.50" width="5.46" height="5.68" fill="#140200"/><rect x="114.72" y="724.50" width="5.46" height="5.68" fill="#140200"/><rect x="119.68" y="724.50" width="5.46" height="5.68" fill="#140200"/><rect x="124.64" y="724.50" width="10.42" height="5.68" fill="#140200"/><rect x="35.34" y="729.68" width="10.42" height="5.68" fill="#140200"/><rect x="45.26" y="729.68" width="5.46" height="5.68" fill="#140200"/><rect x="50.22" y="729.68" width="5.46" height="5.68" fill="#140200"/><rect x="55.18" y="729.68" width="5.46" height="5.68" fill="#140200"/><rect x="60.14" y="729.68" width="5.46" height="5.68" fill="#350701"/><rect x="65.11" y="729.68" width="5.46" height="5.68" fill="#651706"/><rect x="70.07" y="729.68" width="5.46" height="5.68" fill="#c34c11"/><rect x="75.03" y="729.68" width="5.46" height="5.68" fill="#c34c11"/><rect x="79.99" y="729.68" width="5.46" height="5.68" fill="#9a2c0a"/><rect x="84.95" y="729.68" width="5.46" height="5.68" fill="#651706"/><rect x="89.91" y="729.68" width="5.46" height="5.68" fill="#9a2c0a"/><rect x="94.87" y="729.68" width="5.46" height="5.68" fill="#c34c11"/><rect x="99.83" y="729.68" width="5.46" height="5.68" fill="#c34c11"/><rect x="104.79" y="729.68" width="5.46" height="5.68" fill="#350701"/><rect x="109.76" y="729.68" width="5.46" height="5.68" fill="#140200"/><rect x="114.72" y="729.68" width="5.46" height="5.68" fill="#140200"/><rect x="119.68" y="729.68" width="5.46" height="5.68" fill="#140200"/><rect x="124.64" y="729.68" width="10.42" height="5.68" fill="#140200"/><rect x="35.34" y="734.86" width="10.42" height="5.68" fill="#140200"/><rect x="45.26" y="734.86" width="5.46" height="5.68" fill="#140200"/><rect x="50.22" y="734.86" width="5.46" height="5.68" fill="#140200"/><rect x="55.18" y="734.86" width="5.46" height="5.68" fill="#140200"/><rect x="60.14" y="734.86" width="5.46" height="5.68" fill="#140200"/><rect x="65.11" y="734.86" width="5.46" height="5.68" fill="#140200"/><rect x="70.07" y="734.86" width="5.46" height="5.68" fill="#140200"/><rect x="75.03" y="734.86" width="5.46" height="5.68" fill="#140200"/><rect x="79.99" y="734.86" width="5.46" height="5.68" fill="#140200"/><rect x="84.95" y="734.86" width="5.46" height="5.68" fill="#140200"/><rect x="89.91" y="734.86" width="5.46" height="5.68" fill="#651706"/><rect x="94.87" y="734.86" width="5.46" height="5.68" fill="#c34c11"/><rect x="99.83" y="734.86" width="5.46" height="5.68" fill="#9a2c0a"/><rect x="104.79" y="734.86" width="5.46" height="5.68" fill="#140200"/><rect x="109.76" y="734.86" width="5.46" height="5.68" fill="#140200"/><rect x="114.72" y="734.86" width="5.46" height="5.68" fill="#140200"/><rect x="119.68" y="734.86" width="5.46" height="5.68" fill="#140200"/><rect x="124.64" y="734.86" width="10.42" height="5.68" fill="#140200"/><rect x="35.34" y="740.04" width="10.42" height="5.68" fill="#140200"/><rect x="45.26" y="740.04" width="5.46" height="5.68" fill="#140200"/><rect x="50.22" y="740.04" width="5.46" height="5.68" fill="#140200"/><rect x="55.18" y="740.04" width="5.46" height="5.68" fill="#140200"/><rect x="60.14" y="740.04" width="5.46" height="5.68" fill="#140200"/><rect x="65.11" y="740.04" width="5.46" height="5.68" fill="#140200"/><rect x="70.07" y="740.04" width="5.46" height="5.68" fill="#140200"/><rect x="75.03" y="740.04" width="5.46" height="5.68" fill="#140200"/><rect x="79.99" y="740.04" width="5.46" height="5.68" fill="#140200"/><rect x="84.95" y="740.04" width="5.46" height="5.68" fill="#140200"/><rect x="89.91" y="740.04" width="5.46" height="5.68" fill="#651706"/><rect x="94.87" y="740.04" width="5.46" height="5.68" fill="#651706"/><rect x="99.83" y="740.04" width="5.46" height="5.68" fill="#350701"/><rect x="104.79" y="740.04" width="5.46" height="5.68" fill="#140200"/><rect x="109.76" y="740.04" width="5.46" height="5.68" fill="#140200"/><rect x="114.72" y="740.04" width="5.46" height="5.68" fill="#140200"/><rect x="119.68" y="740.04" width="5.46" height="5.68" fill="#140200"/><rect x="124.64" y="740.04" width="10.42" height="5.68" fill="#140200"/><rect x="35.34" y="745.22" width="10.42" height="10.86" fill="#140200"/><rect x="45.26" y="745.22" width="5.46" height="10.86" fill="#140200"/><rect x="50.22" y="745.22" width="5.46" height="10.86" fill="#140200"/><rect x="55.18" y="745.22" width="5.46" height="10.86" fill="#140200"/><rect x="60.14" y="745.22" width="5.46" height="10.86" fill="#140200"/><rect x="65.11" y="745.22" width="5.46" height="10.86" fill="#140200"/><rect x="70.07" y="745.22" width="5.46" height="10.86" fill="#140200"/><rect x="75.03" y="745.22" width="5.46" height="10.86" fill="#140200"/><rect x="79.99" y="745.22" width="5.46" height="10.86" fill="#651706"/><rect x="84.95" y="745.22" width="5.46" height="10.86" fill="#140200"/><rect x="89.91" y="745.22" width="5.46" height="10.86" fill="#140200"/><rect x="94.87" y="745.22" width="5.46" height="10.86" fill="#651706"/><rect x="99.83" y="745.22" width="5.46" height="10.86" fill="#350701"/><rect x="104.79" y="745.22" width="5.46" height="10.86" fill="#140200"/><rect x="109.76" y="745.22" width="5.46" height="10.86" fill="#140200"/><rect x="114.72" y="745.22" width="5.46" height="10.86" fill="#140200"/><rect x="119.68" y="745.22" width="5.46" height="10.86" fill="#140200"/><rect x="124.64" y="745.22" width="10.42" height="10.86" fill="#140200"/></g><rect x="40.3" y="646.8" width="89.3" height="103.6" filter="url(#tex)" opacity="0.45"/><ellipse cx="47.80" cy="653.60" rx="6.8" ry="6.5" transform="rotate(0 47.80 653.60)" fill="#e04868" filter="url(#nb)"/><ellipse cx="44.40" cy="676.80" rx="6.1" ry="8.9" transform="rotate(0 44.40 676.80)" fill="#e070d0" filter="url(#nb)"/><ellipse cx="114.00" cy="667.30" rx="6.1" ry="4.1" transform="rotate(15 114.00 667.30)" fill="#e050b0" filter="url(#nb)"/><ellipse cx="92.10" cy="684.40" rx="6.8" ry="4.1" transform="rotate(0 92.10 684.40)" fill="#e860d8" filter="url(#nb)"/><ellipse cx="43.70" cy="707.70" rx="4.1" ry="4.1" transform="rotate(0 43.70 707.70)" fill="#f0b0f0" filter="url(#nb)"/><ellipse cx="74.50" cy="722.70" rx="5.5" ry="6.8" transform="rotate(0 74.50 722.70)" fill="#f8c0f0" filter="url(#nb)"/><ellipse cx="101.00" cy="721.30" rx="8.2" ry="9.6" transform="rotate(15 101.00 721.30)" fill="#d870e0" filter="url(#nb)"/><ellipse cx="122.20" cy="648.80" rx="6" ry="3" transform="rotate(0 122.20 648.80)" fill="#c03040" filter="url(#nb)"/></g><clipPath id="mc5"><rect x="170.7" y="646.8" width="90.2" height="103.6"/></clipPath><g clip-path="url(#mc5)"><rect x="170.70" y="646.80" width="90.20" height="103.60" fill="#200400" stroke="none" stroke-width="1"/><g filter="url(#mb5)"><filter id="mb5" x="-10%" y="-10%" width="120%" height="120%"><feGaussianBlur stdDeviation="2.2"/></filter><rect x="165.69" y="641.62" width="10.52" height="10.86" fill="#050000"/><rect x="175.71" y="641.62" width="5.51" height="10.86" fill="#050000"/><rect x="180.72" y="641.62" width="5.51" height="10.86" fill="#050000"/><rect x="185.73" y="641.62" width="5.51" height="10.86" fill="#050000"/><rect x="190.74" y="641.62" width="5.51" height="10.86" fill="#050000"/><rect x="195.76" y="641.62" width="5.51" height="10.86" fill="#050000"/><rect x="200.77" y="641.62" width="5.51" height="10.86" fill="#050000"/><rect x="205.78" y="641.62" width="5.51" height="10.86" fill="#050000"/><rect x="210.79" y="641.62" width="5.51" height="10.86" fill="#050000"/><rect x="215.80" y="641.62" width="5.51" height="10.86" fill="#050000"/><rect x="220.81" y="641.62" width="5.51" height="10.86" fill="#050000"/><rect x="225.82" y="641.62" width="5.51" height="10.86" fill="#050000"/><rect x="230.83" y="641.62" width="5.51" height="10.86" fill="#050000"/><rect x="235.84" y="641.62" width="5.51" height="10.86" fill="#050000"/><rect x="240.86" y="641.62" width="5.51" height="10.86" fill="#050000"/><rect x="245.87" y="641.62" width="5.51" height="10.86" fill="#932509"/><rect x="250.88" y="641.62" width="5.51" height="10.86" fill="#932509"/><rect x="255.89" y="641.62" width="10.52" height="10.86" fill="#601306"/><rect x="165.69" y="651.98" width="10.52" height="5.68" fill="#050000"/><rect x="175.71" y="651.98" width="5.51" height="5.68" fill="#050000"/><rect x="180.72" y="651.98" width="5.51" height="5.68" fill="#050000"/><rect x="185.73" y="651.98" width="5.51" height="5.68" fill="#050000"/><rect x="190.74" y="651.98" width="5.51" height="5.68" fill="#050000"/><rect x="195.76" y="651.98" width="5.51" height="5.68" fill="#050000"/><rect x="200.77" y="651.98" width="5.51" height="5.68" fill="#050000"/><rect x="205.78" y="651.98" width="5.51" height="5.68" fill="#050000"/><rect x="210.79" y="651.98" width="5.51" height="5.68" fill="#050000"/><rect x="215.80" y="651.98" width="5.51" height="5.68" fill="#050000"/><rect x="220.81" y="651.98" width="5.51" height="5.68" fill="#050000"/><rect x="225.82" y="651.98" width="5.51" height="5.68" fill="#050000"/><rect x="230.83" y="651.98" width="5.51" height="5.68" fill="#050000"/><rect x="235.84" y="651.98" width="5.51" height="5.68" fill="#130100"/><rect x="240.86" y="651.98" width="5.51" height="5.68" fill="#601306"/><rect x="245.87" y="651.98" width="5.51" height="5.68" fill="#932509"/><rect x="250.88" y="651.98" width="5.51" height="5.68" fill="#932509"/><rect x="255.89" y="651.98" width="10.52" height="5.68" fill="#601306"/><rect x="165.69" y="657.16" width="10.52" height="5.68" fill="#050000"/><rect x="175.71" y="657.16" width="5.51" height="5.68" fill="#130100"/><rect x="180.72" y="657.16" width="5.51" height="5.68" fill="#130100"/><rect x="185.73" y="657.16" width="5.51" height="5.68" fill="#130100"/><rect x="190.74" y="657.16" width="5.51" height="5.68" fill="#050000"/><rect x="195.76" y="657.16" width="5.51" height="5.68" fill="#050000"/><rect x="200.77" y="657.16" width="5.51" height="5.68" fill="#050000"/><rect x="205.78" y="657.16" width="5.51" height="5.68" fill="#050000"/><rect x="210.79" y="657.16" width="5.51" height="5.68" fill="#050000"/><rect x="215.80" y="657.16" width="5.51" height="5.68" fill="#050000"/><rect x="220.81" y="657.16" width="5.51" height="5.68" fill="#050000"/><rect x="225.82" y="657.16" width="5.51" height="5.68" fill="#050000"/><rect x="230.83" y="657.16" width="5.51" height="5.68" fill="#130100"/><rect x="235.84" y="657.16" width="5.51" height="5.68" fill="#601306"/><rect x="240.86" y="657.16" width="5.51" height="5.68" fill="#130100"/><rect x="245.87" y="657.16" width="5.51" height="5.68" fill="#130100"/><rect x="250.88" y="657.16" width="5.51" height="5.68" fill="#601306"/><rect x="255.89" y="657.16" width="10.52" height="5.68" fill="#330601"/><rect x="165.69" y="662.34" width="10.52" height="5.68" fill="#130100"/><rect x="175.71" y="662.34" width="5.51" height="5.68" fill="#130100"/><rect x="180.72" y="662.34" width="5.51" height="5.68" fill="#130100"/><rect x="185.73" y="662.34" width="5.51" height="5.68" fill="#130100"/><rect x="190.74" y="662.34" width="5.51" height="5.68" fill="#601306"/><rect x="195.76" y="662.34" width="5.51" height="5.68" fill="#130100"/><rect x="200.77" y="662.34" width="5.51" height="5.68" fill="#050000"/><rect x="205.78" y="662.34" width="5.51" height="5.68" fill="#130100"/><rect x="210.79" y="662.34" width="5.51" height="5.68" fill="#050000"/><rect x="215.80" y="662.34" width="5.51" height="5.68" fill="#050000"/><rect x="220.81" y="662.34" width="5.51" height="5.68" fill="#050000"/><rect x="225.82" y="662.34" width="5.51" height="5.68" fill="#130100"/><rect x="230.83" y="662.34" width="5.51" height="5.68" fill="#601306"/><rect x="235.84" y="662.34" width="5.51" height="5.68" fill="#932509"/><rect x="240.86" y="662.34" width="5.51" height="5.68" fill="#601306"/><rect x="245.87" y="662.34" width="5.51" height="5.68" fill="#130100"/><rect x="250.88" y="662.34" width="5.51" height="5.68" fill="#601306"/><rect x="255.89" y="662.34" width="10.52" height="5.68" fill="#932509"/><rect x="165.69" y="667.52" width="10.52" height="5.68" fill="#130100"/><rect x="175.71" y="667.52" width="5.51" height="5.68" fill="#130100"/><rect x="180.72" y="667.52" width="5.51" height="5.68" fill="#130100"/><rect x="185.73" y="667.52" width="5.51" height="5.68" fill="#130100"/><rect x="190.74" y="667.52" width="5.51" height="5.68" fill="#130100"/><rect x="195.76" y="667.52" width="5.51" height="5.68" fill="#330601"/><rect x="200.77" y="667.52" width="5.51" height="5.68" fill="#601306"/><rect x="205.78" y="667.52" width="5.51" height="5.68" fill="#330601"/><rect x="210.79" y="667.52" width="5.51" height="5.68" fill="#050000"/><rect x="215.80" y="667.52" width="5.51" height="5.68" fill="#050000"/><rect x="220.81" y="667.52" width="5.51" height="5.68" fill="#050000"/><rect x="225.82" y="667.52" width="5.51" height="5.68" fill="#130100"/><rect x="230.83" y="667.52" width="5.51" height="5.68" fill="#932509"/><rect x="235.84" y="667.52" width="5.51" height="5.68" fill="#932509"/><rect x="240.86" y="667.52" width="5.51" height="5.68" fill="#932509"/><rect x="245.87" y="667.52" width="5.51" height="5.68" fill="#130100"/><rect x="250.88" y="667.52" width="5.51" height="5.68" fill="#932509"/><rect x="255.89" y="667.52" width="10.52" height="5.68" fill="#932509"/><rect x="165.69" y="672.70" width="10.52" height="5.68" fill="#330601"/><rect x="175.71" y="672.70" width="5.51" height="5.68" fill="#130100"/><rect x="180.72" y="672.70" width="5.51" height="5.68" fill="#130100"/><rect x="185.73" y="672.70" width="5.51" height="5.68" fill="#130100"/><rect x="190.74" y="672.70" width="5.51" height="5.68" fill="#130100"/><rect x="195.76" y="672.70" width="5.51" height="5.68" fill="#130100"/><rect x="200.77" y="672.70" width="5.51" height="5.68" fill="#130100"/><rect x="205.78" y="672.70" width="5.51" height="5.68" fill="#130100"/><rect x="210.79" y="672.70" width="5.51" height="5.68" fill="#050000"/><rect x="215.80" y="672.70" width="5.51" height="5.68" fill="#050000"/><rect x="220.81" y="672.70" width="5.51" height="5.68" fill="#050000"/><rect x="225.82" y="672.70" width="5.51" height="5.68" fill="#330601"/><rect x="230.83" y="672.70" width="5.51" height="5.68" fill="#932509"/><rect x="235.84" y="672.70" width="5.51" height="5.68" fill="#932509"/><rect x="240.86" y="672.70" width="5.51" height="5.68" fill="#932509"/><rect x="245.87" y="672.70" width="5.51" height="5.68" fill="#932509"/><rect x="250.88" y="672.70" width="5.51" height="5.68" fill="#932509"/><rect x="255.89" y="672.70" width="10.52" height="5.68" fill="#932509"/><rect x="165.69" y="677.88" width="10.52" height="5.68" fill="#932509"/><rect x="175.71" y="677.88" width="5.51" height="5.68" fill="#932509"/><rect x="180.72" y="677.88" width="5.51" height="5.68" fill="#330601"/><rect x="185.73" y="677.88" width="5.51" height="5.68" fill="#130100"/><rect x="190.74" y="677.88" width="5.51" height="5.68" fill="#130100"/><rect x="195.76" y="677.88" width="5.51" height="5.68" fill="#130100"/><rect x="200.77" y="677.88" width="5.51" height="5.68" fill="#130100"/><rect x="205.78" y="677.88" width="5.51" height="5.68" fill="#130100"/><rect x="210.79" y="677.88" width="5.51" height="5.68" fill="#050000"/><rect x="215.80" y="677.88" width="5.51" height="5.68" fill="#050000"/><rect x="220.81" y="677.88" width="5.51" height="5.68" fill="#050000"/><rect x="225.82" y="677.88" width="5.51" height="5.68" fill="#330601"/><rect x="230.83" y="677.88" width="5.51" height="5.68" fill="#932509"/><rect x="235.84" y="677.88" width="5.51" height="5.68" fill="#932509"/><rect x="240.86" y="677.88" width="5.51" height="5.68" fill="#932509"/><rect x="245.87" y="677.88" width="5.51" height="5.68" fill="#932509"/><rect x="250.88" y="677.88" width="5.51" height="5.68" fill="#932509"/><rect x="255.89" y="677.88" width="10.52" height="5.68" fill="#932509"/><rect x="165.69" y="683.06" width="10.52" height="5.68" fill="#932509"/><rect x="175.71" y="683.06" width="5.51" height="5.68" fill="#932509"/><rect x="180.72" y="683.06" width="5.51" height="5.68" fill="#932509"/><rect x="185.73" y="683.06" width="5.51" height="5.68" fill="#330601"/><rect x="190.74" y="683.06" width="5.51" height="5.68" fill="#130100"/><rect x="195.76" y="683.06" width="5.51" height="5.68" fill="#130100"/><rect x="200.77" y="683.06" width="5.51" height="5.68" fill="#130100"/><rect x="205.78" y="683.06" width="5.51" height="5.68" fill="#130100"/><rect x="210.79" y="683.06" width="5.51" height="5.68" fill="#050000"/><rect x="215.80" y="683.06" width="5.51" height="5.68" fill="#050000"/><rect x="220.81" y="683.06" width="5.51" height="5.68" fill="#050000"/><rect x="225.82" y="683.06" width="5.51" height="5.68" fill="#330601"/><rect x="230.83" y="683.06" width="5.51" height="5.68" fill="#932509"/><rect x="235.84" y="683.06" width="5.51" height="5.68" fill="#932509"/><rect x="240.86" y="683.06" width="5.51" height="5.68" fill="#932509"/><rect x="245.87" y="683.06" width="5.51" height="5.68" fill="#932509"/><rect x="250.88" y="683.06" width="5.51" height="5.68" fill="#932509"/><rect x="255.89" y="683.06" width="10.52" height="5.68" fill="#932509"/><rect x="165.69" y="688.24" width="10.52" height="5.68" fill="#932509"/><rect x="175.71" y="688.24" width="5.51" height="5.68" fill="#932509"/><rect x="180.72" y="688.24" width="5.51" height="5.68" fill="#932509"/><rect x="185.73" y="688.24" width="5.51" height="5.68" fill="#330601"/><rect x="190.74" y="688.24" width="5.51" height="5.68" fill="#130100"/><rect x="195.76" y="688.24" width="5.51" height="5.68" fill="#130100"/><rect x="200.77" y="688.24" width="5.51" height="5.68" fill="#130100"/><rect x="205.78" y="688.24" width="5.51" height="5.68" fill="#130100"/><rect x="210.79" y="688.24" width="5.51" height="5.68" fill="#050000"/><rect x="215.80" y="688.24" width="5.51" height="5.68" fill="#050000"/><rect x="220.81" y="688.24" width="5.51" height="5.68" fill="#050000"/><rect x="225.82" y="688.24" width="5.51" height="5.68" fill="#330601"/><rect x="230.83" y="688.24" width="5.51" height="5.68" fill="#932509"/><rect x="235.84" y="688.24" width="5.51" height="5.68" fill="#932509"/><rect x="240.86" y="688.24" width="5.51" height="5.68" fill="#932509"/><rect x="245.87" y="688.24" width="5.51" height="5.68" fill="#932509"/><rect x="250.88" y="688.24" width="5.51" height="5.68" fill="#130100"/><rect x="255.89" y="688.24" width="10.52" height="5.68" fill="#130100"/><rect x="165.69" y="693.42" width="10.52" height="5.68" fill="#932509"/><rect x="175.71" y="693.42" width="5.51" height="5.68" fill="#932509"/><rect x="180.72" y="693.42" width="5.51" height="5.68" fill="#932509"/><rect x="185.73" y="693.42" width="5.51" height="5.68" fill="#130100"/><rect x="190.74" y="693.42" width="5.51" height="5.68" fill="#130100"/><rect x="195.76" y="693.42" width="5.51" height="5.68" fill="#130100"/><rect x="200.77" y="693.42" width="5.51" height="5.68" fill="#130100"/><rect x="205.78" y="693.42" width="5.51" height="5.68" fill="#130100"/><rect x="210.79" y="693.42" width="5.51" height="5.68" fill="#050000"/><rect x="215.80" y="693.42" width="5.51" height="5.68" fill="#050000"/><rect x="220.81" y="693.42" width="5.51" height="5.68" fill="#130100"/><rect x="225.82" y="693.42" width="5.51" height="5.68" fill="#330601"/><rect x="230.83" y="693.42" width="5.51" height="5.68" fill="#932509"/><rect x="235.84" y="693.42" width="5.51" height="5.68" fill="#be2b1e"/><rect x="240.86" y="693.42" width="5.51" height="5.68" fill="#be2b1e"/><rect x="245.87" y="693.42" width="5.51" height="5.68" fill="#932509"/><rect x="250.88" y="693.42" width="5.51" height="5.68" fill="#130100"/><rect x="255.89" y="693.42" width="10.52" height="5.68" fill="#130100"/><rect x="165.69" y="698.60" width="10.52" height="5.68" fill="#932509"/><rect x="175.71" y="698.60" width="5.51" height="5.68" fill="#932509"/><rect x="180.72" y="698.60" width="5.51" height="5.68" fill="#932509"/><rect x="185.73" y="698.60" width="5.51" height="5.68" fill="#932509"/><rect x="190.74" y="698.60" width="5.51" height="5.68" fill="#130100"/><rect x="195.76" y="698.60" width="5.51" height="5.68" fill="#130100"/><rect x="200.77" y="698.60" width="5.51" height="5.68" fill="#130100"/><rect x="205.78" y="698.60" width="5.51" height="5.68" fill="#130100"/><rect x="210.79" y="698.60" width="5.51" height="5.68" fill="#130100"/><rect x="215.80" y="698.60" width="5.51" height="5.68" fill="#130100"/><rect x="220.81" y="698.60" width="5.51" height="5.68" fill="#130100"/><rect x="225.82" y="698.60" width="5.51" height="5.68" fill="#130100"/><rect x="230.83" y="698.60" width="5.51" height="5.68" fill="#130100"/><rect x="235.84" y="698.60" width="5.51" height="5.68" fill="#130100"/><rect x="240.86" y="698.60" width="5.51" height="5.68" fill="#932509"/><rect x="245.87" y="698.60" width="5.51" height="5.68" fill="#932509"/><rect x="250.88" y="698.60" width="5.51" height="5.68" fill="#130100"/><rect x="255.89" y="698.60" width="10.52" height="5.68" fill="#130100"/><rect x="165.69" y="703.78" width="10.52" height="5.68" fill="#932509"/><rect x="175.71" y="703.78" width="5.51" height="5.68" fill="#932509"/><rect x="180.72" y="703.78" width="5.51" height="5.68" fill="#932509"/><rect x="185.73" y="703.78" width="5.51" height="5.68" fill="#330601"/><rect x="190.74" y="703.78" width="5.51" height="5.68" fill="#130100"/><rect x="195.76" y="703.78" width="5.51" height="5.68" fill="#130100"/><rect x="200.77" y="703.78" width="5.51" height="5.68" fill="#130100"/><rect x="205.78" y="703.78" width="5.51" height="5.68" fill="#130100"/><rect x="210.79" y="703.78" width="5.51" height="5.68" fill="#130100"/><rect x="215.80" y="703.78" width="5.51" height="5.68" fill="#932509"/><rect x="220.81" y="703.78" width="5.51" height="5.68" fill="#932509"/><rect x="225.82" y="703.78" width="5.51" height="5.68" fill="#130100"/><rect x="230.83" y="703.78" width="5.51" height="5.68" fill="#130100"/><rect x="235.84" y="703.78" width="5.51" height="5.68" fill="#130100"/><rect x="240.86" y="703.78" width="5.51" height="5.68" fill="#130100"/><rect x="245.87" y="703.78" width="5.51" height="5.68" fill="#130100"/><rect x="250.88" y="703.78" width="5.51" height="5.68" fill="#130100"/><rect x="255.89" y="703.78" width="10.52" height="5.68" fill="#130100"/><rect x="165.69" y="708.96" width="10.52" height="5.68" fill="#601306"/><rect x="175.71" y="708.96" width="5.51" height="5.68" fill="#932509"/><rect x="180.72" y="708.96" width="5.51" height="5.68" fill="#330601"/><rect x="185.73" y="708.96" width="5.51" height="5.68" fill="#330601"/><rect x="190.74" y="708.96" width="5.51" height="5.68" fill="#601306"/><rect x="195.76" y="708.96" width="5.51" height="5.68" fill="#130100"/><rect x="200.77" y="708.96" width="5.51" height="5.68" fill="#130100"/><rect x="205.78" y="708.96" width="5.51" height="5.68" fill="#130100"/><rect x="210.79" y="708.96" width="5.51" height="5.68" fill="#601306"/><rect x="215.80" y="708.96" width="5.51" height="5.68" fill="#932509"/><rect x="220.81" y="708.96" width="5.51" height="5.68" fill="#932509"/><rect x="225.82" y="708.96" width="5.51" height="5.68" fill="#932509"/><rect x="230.83" y="708.96" width="5.51" height="5.68" fill="#130100"/><rect x="235.84" y="708.96" width="5.51" height="5.68" fill="#130100"/><rect x="240.86" y="708.96" width="5.51" height="5.68" fill="#130100"/><rect x="245.87" y="708.96" width="5.51" height="5.68" fill="#130100"/><rect x="250.88" y="708.96" width="5.51" height="5.68" fill="#130100"/><rect x="255.89" y="708.96" width="10.52" height="5.68" fill="#130100"/><rect x="165.69" y="714.14" width="10.52" height="5.68" fill="#601306"/><rect x="175.71" y="714.14" width="5.51" height="5.68" fill="#601306"/><rect x="180.72" y="714.14" width="5.51" height="5.68" fill="#330601"/><rect x="185.73" y="714.14" width="5.51" height="5.68" fill="#130100"/><rect x="190.74" y="714.14" width="5.51" height="5.68" fill="#130100"/><rect x="195.76" y="714.14" width="5.51" height="5.68" fill="#130100"/><rect x="200.77" y="714.14" width="5.51" height="5.68" fill="#130100"/><rect x="205.78" y="714.14" width="5.51" height="5.68" fill="#130100"/><rect x="210.79" y="714.14" width="5.51" height="5.68" fill="#932509"/><rect x="215.80" y="714.14" width="5.51" height="5.68" fill="#932509"/><rect x="220.81" y="714.14" width="5.51" height="5.68" fill="#932509"/><rect x="225.82" y="714.14" width="5.51" height="5.68" fill="#932509"/><rect x="230.83" y="714.14" width="5.51" height="5.68" fill="#601306"/><rect x="235.84" y="714.14" width="5.51" height="5.68" fill="#130100"/><rect x="240.86" y="714.14" width="5.51" height="5.68" fill="#130100"/><rect x="245.87" y="714.14" width="5.51" height="5.68" fill="#130100"/><rect x="250.88" y="714.14" width="5.51" height="5.68" fill="#130100"/><rect x="255.89" y="714.14" width="10.52" height="5.68" fill="#130100"/><rect x="165.69" y="719.32" width="10.52" height="5.68" fill="#932509"/><rect x="175.71" y="719.32" width="5.51" height="5.68" fill="#601306"/><rect x="180.72" y="719.32" width="5.51" height="5.68" fill="#130100"/><rect x="185.73" y="719.32" width="5.51" height="5.68" fill="#130100"/><rect x="190.74" y="719.32" width="5.51" height="5.68" fill="#130100"/><rect x="195.76" y="719.32" width="5.51" height="5.68" fill="#330601"/><rect x="200.77" y="719.32" width="5.51" height="5.68" fill="#130100"/><rect x="205.78" y="719.32" width="5.51" height="5.68" fill="#130100"/><rect x="210.79" y="719.32" width="5.51" height="5.68" fill="#932509"/><rect x="215.80" y="719.32" width="5.51" height="5.68" fill="#932509"/><rect x="220.81" y="719.32" width="5.51" height="5.68" fill="#932509"/><rect x="225.82" y="719.32" width="5.51" height="5.68" fill="#932509"/><rect x="230.83" y="719.32" width="5.51" height="5.68" fill="#601306"/><rect x="235.84" y="719.32" width="5.51" height="5.68" fill="#130100"/><rect x="240.86" y="719.32" width="5.51" height="5.68" fill="#130100"/><rect x="245.87" y="719.32" width="5.51" height="5.68" fill="#130100"/><rect x="250.88" y="719.32" width="5.51" height="5.68" fill="#932509"/><rect x="255.89" y="719.32" width="10.52" height="5.68" fill="#932509"/><rect x="165.69" y="724.50" width="10.52" height="5.68" fill="#601306"/><rect x="175.71" y="724.50" width="5.51" height="5.68" fill="#330601"/><rect x="180.72" y="724.50" width="5.51" height="5.68" fill="#130100"/><rect x="185.73" y="724.50" width="5.51" height="5.68" fill="#330601"/><rect x="190.74" y="724.50" width="5.51" height="5.68" fill="#601306"/><rect x="195.76" y="724.50" width="5.51" height="5.68" fill="#130100"/><rect x="200.77" y="724.50" width="5.51" height="5.68" fill="#330601"/><rect x="205.78" y="724.50" width="5.51" height="5.68" fill="#601306"/><rect x="210.79" y="724.50" width="5.51" height="5.68" fill="#601306"/><rect x="215.80" y="724.50" width="5.51" height="5.68" fill="#932509"/><rect x="220.81" y="724.50" width="5.51" height="5.68" fill="#932509"/><rect x="225.82" y="724.50" width="5.51" height="5.68" fill="#932509"/><rect x="230.83" y="724.50" width="5.51" height="5.68" fill="#601306"/><rect x="235.84" y="724.50" width="5.51" height="5.68" fill="#130100"/><rect x="240.86" y="724.50" width="5.51" height="5.68" fill="#130100"/><rect x="245.87" y="724.50" width="5.51" height="5.68" fill="#932509"/><rect x="250.88" y="724.50" width="5.51" height="5.68" fill="#932509"/><rect x="255.89" y="724.50" width="10.52" height="5.68" fill="#601306"/><rect x="165.69" y="729.68" width="10.52" height="5.68" fill="#330601"/><rect x="175.71" y="729.68" width="5.51" height="5.68" fill="#130100"/><rect x="180.72" y="729.68" width="5.51" height="5.68" fill="#330601"/><rect x="185.73" y="729.68" width="5.51" height="5.68" fill="#932509"/><rect x="190.74" y="729.68" width="5.51" height="5.68" fill="#932509"/><rect x="195.76" y="729.68" width="5.51" height="5.68" fill="#932509"/><rect x="200.77" y="729.68" width="5.51" height="5.68" fill="#330601"/><rect x="205.78" y="729.68" width="5.51" height="5.68" fill="#932509"/><rect x="210.79" y="729.68" width="5.51" height="5.68" fill="#601306"/><rect x="215.80" y="729.68" width="5.51" height="5.68" fill="#601306"/><rect x="220.81" y="729.68" width="5.51" height="5.68" fill="#932509"/><rect x="225.82" y="729.68" width="5.51" height="5.68" fill="#932509"/><rect x="230.83" y="729.68" width="5.51" height="5.68" fill="#130100"/><rect x="235.84" y="729.68" width="5.51" height="5.68" fill="#130100"/><rect x="240.86" y="729.68" width="5.51" height="5.68" fill="#932509"/><rect x="245.87" y="729.68" width="5.51" height="5.68" fill="#ba3f0f"/><rect x="250.88" y="729.68" width="5.51" height="5.68" fill="#932509"/><rect x="255.89" y="729.68" width="10.52" height="5.68" fill="#932509"/><rect x="165.69" y="734.86" width="10.52" height="5.68" fill="#330601"/><rect x="175.71" y="734.86" width="5.51" height="5.68" fill="#130100"/><rect x="180.72" y="734.86" width="5.51" height="5.68" fill="#932509"/><rect x="185.73" y="734.86" width="5.51" height="5.68" fill="#ba3f0f"/><rect x="190.74" y="734.86" width="5.51" height="5.68" fill="#ba3f0f"/><rect x="195.76" y="734.86" width="5.51" height="5.68" fill="#ba3f0f"/><rect x="200.77" y="734.86" width="5.51" height="5.68" fill="#130100"/><rect x="205.78" y="734.86" width="5.51" height="5.68" fill="#ba3f0f"/><rect x="210.79" y="734.86" width="5.51" height="5.68" fill="#cc5b1f"/><rect x="215.80" y="734.86" width="5.51" height="5.68" fill="#601306"/><rect x="220.81" y="734.86" width="5.51" height="5.68" fill="#601306"/><rect x="225.82" y="734.86" width="5.51" height="5.68" fill="#932509"/><rect x="230.83" y="734.86" width="5.51" height="5.68" fill="#130100"/><rect x="235.84" y="734.86" width="5.51" height="5.68" fill="#130100"/><rect x="240.86" y="734.86" width="5.51" height="5.68" fill="#ba3f0f"/><rect x="245.87" y="734.86" width="5.51" height="5.68" fill="#cc5b1f"/><rect x="250.88" y="734.86" width="5.51" height="5.68" fill="#cc5b1f"/><rect x="255.89" y="734.86" width="10.52" height="5.68" fill="#ba3f0f"/><rect x="165.69" y="740.04" width="10.52" height="5.68" fill="#130100"/><rect x="175.71" y="740.04" width="5.51" height="5.68" fill="#130100"/><rect x="180.72" y="740.04" width="5.51" height="5.68" fill="#932509"/><rect x="185.73" y="740.04" width="5.51" height="5.68" fill="#ba3f0f"/><rect x="190.74" y="740.04" width="5.51" height="5.68" fill="#ba3f0f"/><rect x="195.76" y="740.04" width="5.51" height="5.68" fill="#ba3f0f"/><rect x="200.77" y="740.04" width="5.51" height="5.68" fill="#330601"/><rect x="205.78" y="740.04" width="5.51" height="5.68" fill="#ba3f0f"/><rect x="210.79" y="740.04" width="5.51" height="5.68" fill="#cc5b1f"/><rect x="215.80" y="740.04" width="5.51" height="5.68" fill="#601306"/><rect x="220.81" y="740.04" width="5.51" height="5.68" fill="#601306"/><rect x="225.82" y="740.04" width="5.51" height="5.68" fill="#932509"/><rect x="230.83" y="740.04" width="5.51" height="5.68" fill="#130100"/><rect x="235.84" y="740.04" width="5.51" height="5.68" fill="#932509"/><rect x="240.86" y="740.04" width="5.51" height="5.68" fill="#ba3f0f"/><rect x="245.87" y="740.04" width="5.51" height="5.68" fill="#932509"/><rect x="250.88" y="740.04" width="5.51" height="5.68" fill="#ba3f0f"/><rect x="255.89" y="740.04" width="10.52" height="5.68" fill="#932509"/><rect x="165.69" y="745.22" width="10.52" height="10.86" fill="#130100"/><rect x="175.71" y="745.22" width="5.51" height="10.86" fill="#130100"/><rect x="180.72" y="745.22" width="5.51" height="10.86" fill="#932509"/><rect x="185.73" y="745.22" width="5.51" height="10.86" fill="#ba3f0f"/><rect x="190.74" y="745.22" width="5.51" height="10.86" fill="#ba3f0f"/><rect x="195.76" y="745.22" width="5.51" height="10.86" fill="#932509"/><rect x="200.77" y="745.22" width="5.51" height="10.86" fill="#330601"/><rect x="205.78" y="745.22" width="5.51" height="10.86" fill="#ba3f0f"/><rect x="210.79" y="745.22" width="5.51" height="10.86" fill="#ba3f0f"/><rect x="215.80" y="745.22" width="5.51" height="10.86" fill="#130100"/><rect x="220.81" y="745.22" width="5.51" height="10.86" fill="#601306"/><rect x="225.82" y="745.22" width="5.51" height="10.86" fill="#932509"/><rect x="230.83" y="745.22" width="5.51" height="10.86" fill="#130100"/><rect x="235.84" y="745.22" width="5.51" height="10.86" fill="#130100"/><rect x="240.86" y="745.22" width="5.51" height="10.86" fill="#cc5b1f"/><rect x="245.87" y="745.22" width="5.51" height="10.86" fill="#cc5b1f"/><rect x="250.88" y="745.22" width="5.51" height="10.86" fill="#cc5b1f"/><rect x="255.89" y="745.22" width="10.52" height="10.86" fill="#601306"/></g><ellipse cx="204.90" cy="670.00" rx="4" ry="1.6" transform="rotate(-10 204.90 670.00)" fill="#e05040" filter="url(#pb1)"/><rect x="170.7" y="646.8" width="90.2" height="103.6" filter="url(#tex)" opacity="0.45"/><ellipse cx="243.00" cy="676.80" rx="5.8" ry="7.2" transform="rotate(0 243.00 676.80)" fill="#f8d0f0" filter="url(#nb)"/><ellipse cx="182.10" cy="691.80" rx="3.9" ry="7.2" transform="rotate(0 182.10 691.80)" fill="#fff0f0" filter="url(#nb)"/><ellipse cx="222.90" cy="720.00" rx="4.8" ry="5.5" transform="rotate(0 222.90 720.00)" fill="#fff0f8" filter="url(#nb)"/><ellipse cx="192.60" cy="737.10" rx="3.8" ry="8" transform="rotate(5 192.60 737.10)" fill="#e888d0" filter="url(#nb)"/><ellipse cx="201.40" cy="739.10" rx="4.4" ry="7.5" transform="rotate(0 201.40 739.10)" fill="#f0c090" filter="url(#nb)"/><ellipse cx="254.00" cy="734.30" rx="5.5" ry="5" transform="rotate(0 254.00 734.30)" fill="#f0e080" filter="url(#nb)"/><ellipse cx="252.60" cy="650.20" rx="5.5" ry="4.2" transform="rotate(0 252.60 650.20)" fill="#f0b0c0" filter="url(#nb)"/><ellipse cx="256.70" cy="674.10" rx="4.1" ry="7.5" transform="rotate(0 256.70 674.10)" fill="#f0a090" filter="url(#nb)"/></g><rect x="239.00" y="743.40" width="18.50" height="2.40" fill="#e8d030" stroke="none" stroke-width="1"/><rect x="131.30" y="427.60" width="34.80" height="104.20" fill="#d0d0d0" stroke="none" stroke-width="1"/><rect x="131.30" y="535.90" width="34.80" height="104.20" fill="#d0d0d0" stroke="none" stroke-width="1"/><rect x="131.30" y="646.50" width="34.80" height="104.20" fill="#d0d0d0" stroke="none" stroke-width="1"/><rect x="261.70" y="535.90" width="34.80" height="104.20" fill="#d0d0d0" stroke="none" stroke-width="1"/><rect x="261.70" y="646.50" width="34.80" height="104.20" fill="#d0d0d0" stroke="none" stroke-width="1"/><clipPath id="mc6"><rect x="131.6" y="427.9" width="34.2" height="33.9"/></clipPath><g clip-path="url(#mc6)"><rect x="131.60" y="427.90" width="34.20" height="33.90" fill="#050505" stroke="none" stroke-width="1"/><ellipse cx="134.90" cy="435.40" rx="3.30" ry="2.20" transform="rotate(0 134.90 435.40)" fill="#24b824" opacity="0.6" filter="url(#chb)"/><ellipse cx="156.90" cy="443.20" rx="9.35" ry="9.35" transform="rotate(0 156.90 443.20)" fill="#24b824" opacity="1" filter="url(#chb)"/><ellipse cx="151.20" cy="431.90" rx="6.60" ry="4.40" transform="rotate(0 151.20 431.90)" fill="#24b824" opacity="1" filter="url(#chb)"/><ellipse cx="142.60" cy="452.40" rx="3.85" ry="3.30" transform="rotate(0 142.60 452.40)" fill="#24b824" opacity="1" filter="url(#chb)"/><ellipse cx="153.30" cy="458.10" rx="4.40" ry="3.08" transform="rotate(0 153.30 458.10)" fill="#24b824" opacity="1" filter="url(#chb)"/><ellipse cx="162.50" cy="454.60" rx="3.30" ry="4.40" transform="rotate(0 162.50 454.60)" fill="#24b824" opacity="1" filter="url(#chb)"/><ellipse cx="161.60" cy="433.90" rx="4.40" ry="5.50" transform="rotate(0 161.60 433.90)" fill="#24b824" opacity="1" filter="url(#chb)"/><ellipse cx="145.60" cy="442.90" rx="3.30" ry="4.40" transform="rotate(0 145.60 442.90)" fill="#24b824" opacity="0.7" filter="url(#chb)"/><rect x="131.6" y="427.9" width="34.2" height="33.9" filter="url(#tex)" opacity="0.36000000000000004"/></g><clipPath id="mc7"><rect x="131.6" y="462.8" width="34.2" height="33.9"/></clipPath><g clip-path="url(#mc7)"><rect x="131.60" y="462.80" width="34.20" height="33.90" fill="#050505" stroke="none" stroke-width="1"/><ellipse cx="134.90" cy="470.20" rx="3.30" ry="2.75" transform="rotate(0 134.90 470.20)" fill="#d81414" opacity="1" filter="url(#chb)"/><ellipse cx="156.90" cy="473.00" rx="8.58" ry="7.04" transform="rotate(0 156.90 473.00)" fill="#d81414" opacity="1" filter="url(#chb)"/><ellipse cx="141.20" cy="487.20" rx="3.85" ry="4.73" transform="rotate(0 141.20 487.20)" fill="#d81414" opacity="1" filter="url(#chb)"/><ellipse cx="158.30" cy="484.40" rx="7.04" ry="4.73" transform="rotate(0 158.30 484.40)" fill="#d81414" opacity="1" filter="url(#chb)"/><ellipse cx="152.60" cy="492.80" rx="5.50" ry="3.08" transform="rotate(0 152.60 492.80)" fill="#d81414" opacity="1" filter="url(#chb)"/><ellipse cx="148.30" cy="467.30" rx="3.30" ry="2.20" transform="rotate(0 148.30 467.30)" fill="#d81414" opacity="1" filter="url(#chb)"/><ellipse cx="162.60" cy="466.80" rx="3.30" ry="4.40" transform="rotate(0 162.60 466.80)" fill="#d81414" opacity="1" filter="url(#chb)"/><rect x="131.6" y="462.8" width="34.2" height="33.9" filter="url(#tex)" opacity="0.36000000000000004"/></g><clipPath id="mc8"><rect x="131.6" y="497.6" width="34.2" height="33.9"/></clipPath><g clip-path="url(#mc8)"><rect x="131.60" y="497.60" width="34.20" height="33.90" fill="#050505" stroke="none" stroke-width="1"/><ellipse cx="134.90" cy="504.70" rx="2.80" ry="2.50" transform="rotate(0 134.90 504.70)" fill="#1616d0" opacity="1" filter="url(#chs)"/><ellipse cx="147.60" cy="499.70" rx="2.00" ry="2.00" transform="rotate(0 147.60 499.70)" fill="#1616d0" opacity="1" filter="url(#chs)"/><ellipse cx="154.60" cy="503.30" rx="3.50" ry="2.50" transform="rotate(0 154.60 503.30)" fill="#1616d0" opacity="1" filter="url(#chs)"/><ellipse cx="161.10" cy="503.30" rx="3.00" ry="2.50" transform="rotate(0 161.10 503.30)" fill="#1616d0" opacity="1" filter="url(#chs)"/><ellipse cx="151.90" cy="508.90" rx="2.50" ry="2.50" transform="rotate(0 151.90 508.90)" fill="#1616d0" opacity="1" filter="url(#chs)"/><ellipse cx="158.30" cy="510.40" rx="3.00" ry="2.50" transform="rotate(0 158.30 510.40)" fill="#1616d0" opacity="1" filter="url(#chs)"/><ellipse cx="163.20" cy="509.60" rx="2.00" ry="2.00" transform="rotate(0 163.20 509.60)" fill="#1616d0" opacity="1" filter="url(#chs)"/><ellipse cx="140.50" cy="521.00" rx="2.50" ry="2.50" transform="rotate(0 140.50 521.00)" fill="#1616d0" opacity="1" filter="url(#chs)"/><ellipse cx="158.30" cy="518.20" rx="4.00" ry="3.00" transform="rotate(0 158.30 518.20)" fill="#1616d0" opacity="1" filter="url(#chs)"/><ellipse cx="153.30" cy="527.40" rx="2.80" ry="2.00" transform="rotate(0 153.30 527.40)" fill="#1616d0" opacity="1" filter="url(#chs)"/><rect x="131.6" y="497.6" width="34.2" height="33.9" filter="url(#tex)" opacity="0.36000000000000004"/></g><clipPath id="mc9"><rect x="131.6" y="536.2" width="34.2" height="33.9"/></clipPath><g clip-path="url(#mc9)"><rect x="131.60" y="536.20" width="34.20" height="33.90" fill="#050505" stroke="none" stroke-width="1"/><ellipse cx="144.10" cy="540.50" rx="3.30" ry="4.40" transform="rotate(0 144.10 540.50)" fill="#24b824" opacity="1" filter="url(#chb)"/><ellipse cx="154.70" cy="543.30" rx="6.27" ry="3.85" transform="rotate(0 154.70 543.30)" fill="#24b824" opacity="1" filter="url(#chb)"/><ellipse cx="143.40" cy="549.00" rx="3.30" ry="3.85" transform="rotate(0 143.40 549.00)" fill="#24b824" opacity="1" filter="url(#chb)"/><ellipse cx="151.90" cy="550.40" rx="4.73" ry="6.27" transform="rotate(0 151.90 550.40)" fill="#24b824" opacity="1" filter="url(#chb)"/><ellipse cx="158.30" cy="548.20" rx="3.30" ry="3.30" transform="rotate(0 158.30 548.20)" fill="#24b824" opacity="1" filter="url(#chb)"/><ellipse cx="140.50" cy="556.80" rx="3.85" ry="2.20" transform="rotate(0 140.50 556.80)" fill="#24b824" opacity="1" filter="url(#chb)"/><ellipse cx="158.30" cy="561.00" rx="7.04" ry="5.50" transform="rotate(0 158.30 561.00)" fill="#24b824" opacity="1" filter="url(#chb)"/><ellipse cx="151.20" cy="558.20" rx="3.30" ry="3.30" transform="rotate(0 151.20 558.20)" fill="#24b824" opacity="1" filter="url(#chb)"/><ellipse cx="134.60" cy="548.20" rx="3.30" ry="3.30" transform="rotate(0 134.60 548.20)" fill="#24b824" opacity="0.5" filter="url(#chb)"/><rect x="131.6" y="536.2" width="34.2" height="33.9" filter="url(#tex)" opacity="0.36000000000000004"/></g><clipPath id="mc10"><rect x="131.6" y="571.1" width="34.2" height="33.9"/></clipPath><g clip-path="url(#mc10)"><rect x="131.60" y="571.10" width="34.20" height="33.90" fill="#050505" stroke="none" stroke-width="1"/><ellipse cx="144.10" cy="577.10" rx="3.85" ry="4.73" transform="rotate(0 144.10 577.10)" fill="#d81414" opacity="1" filter="url(#chb)"/><ellipse cx="156.10" cy="578.50" rx="4.73" ry="5.50" transform="rotate(0 156.10 578.50)" fill="#d81414" opacity="1" filter="url(#chb)"/><ellipse cx="135.60" cy="584.10" rx="3.85" ry="3.85" transform="rotate(0 135.60 584.10)" fill="#d81414" opacity="1" filter="url(#chb)"/><ellipse cx="142.60" cy="585.60" rx="4.40" ry="3.85" transform="rotate(0 142.60 585.60)" fill="#d81414" opacity="1" filter="url(#chb)"/><ellipse cx="150.50" cy="587.70" rx="4.40" ry="5.50" transform="rotate(0 150.50 587.70)" fill="#d81414" opacity="1" filter="url(#chb)"/><ellipse cx="160.40" cy="585.60" rx="3.85" ry="3.85" transform="rotate(0 160.40 585.60)" fill="#d81414" opacity="1" filter="url(#chb)"/><ellipse cx="138.40" cy="592.00" rx="5.50" ry="3.08" transform="rotate(0 138.40 592.00)" fill="#d81414" opacity="1" filter="url(#chb)"/><ellipse cx="154.70" cy="595.50" rx="4.40" ry="4.40" transform="rotate(0 154.70 595.50)" fill="#d81414" opacity="1" filter="url(#chb)"/><ellipse cx="160.40" cy="597.60" rx="3.85" ry="3.85" transform="rotate(0 160.40 597.60)" fill="#d81414" opacity="1" filter="url(#chb)"/><rect x="131.6" y="571.1" width="34.2" height="33.9" filter="url(#tex)" opacity="0.36000000000000004"/></g><clipPath id="mc11"><rect x="131.6" y="605.9" width="34.2" height="33.9"/></clipPath><g clip-path="url(#mc11)"><rect x="131.60" y="605.90" width="34.20" height="33.90" fill="#050505" stroke="none" stroke-width="1"/><ellipse cx="144.80" cy="613.70" rx="2.50" ry="3.00" transform="rotate(0 144.80 613.70)" fill="#1616d0" opacity="1" filter="url(#chs)"/><ellipse cx="151.20" cy="615.80" rx="2.50" ry="2.50" transform="rotate(0 151.20 615.80)" fill="#1616d0" opacity="1" filter="url(#chs)"/><ellipse cx="156.80" cy="614.40" rx="3.00" ry="2.50" transform="rotate(0 156.80 614.40)" fill="#1616d0" opacity="1" filter="url(#chs)"/><ellipse cx="142.70" cy="620.10" rx="2.50" ry="2.50" transform="rotate(0 142.70 620.10)" fill="#1616d0" opacity="1" filter="url(#chs)"/><ellipse cx="151.20" cy="622.20" rx="3.00" ry="2.50" transform="rotate(0 151.20 622.20)" fill="#1616d0" opacity="1" filter="url(#chs)"/><ellipse cx="163.20" cy="619.40" rx="2.00" ry="2.50" transform="rotate(0 163.20 619.40)" fill="#1616d0" opacity="1" filter="url(#chs)"/><ellipse cx="141.20" cy="626.50" rx="3.50" ry="2.50" transform="rotate(0 141.20 626.50)" fill="#1616d0" opacity="1" filter="url(#chs)"/><ellipse cx="152.60" cy="631.70" rx="2.50" ry="2.50" transform="rotate(0 152.60 631.70)" fill="#1616d0" opacity="1" filter="url(#chs)"/><ellipse cx="160.40" cy="630.20" rx="3.00" ry="2.50" transform="rotate(0 160.40 630.20)" fill="#1616d0" opacity="1" filter="url(#chs)"/><ellipse cx="132.10" cy="617.90" rx="1.50" ry="2.50" transform="rotate(0 132.10 617.90)" fill="#1616d0" opacity="1" filter="url(#chs)"/><rect x="131.6" y="605.9" width="34.2" height="33.9" filter="url(#tex)" opacity="0.36000000000000004"/></g><clipPath id="mc12"><rect x="262.0" y="536.2" width="34.2" height="33.9"/></clipPath><g clip-path="url(#mc12)"><rect x="262.00" y="536.20" width="34.20" height="33.90" fill="#050505" stroke="none" stroke-width="1"/><ellipse cx="270.50" cy="540.00" rx="2.00" ry="3.00" transform="rotate(20 270.50 540.00)" fill="#24b824" opacity="1" filter="url(#chs)"/><ellipse cx="280.40" cy="543.60" rx="2.20" ry="3.50" transform="rotate(20 280.40 543.60)" fill="#24b824" opacity="1" filter="url(#chs)"/><ellipse cx="288.20" cy="544.20" rx="2.20" ry="3.50" transform="rotate(20 288.20 544.20)" fill="#24b824" opacity="1" filter="url(#chs)"/><ellipse cx="270.50" cy="547.80" rx="2.20" ry="3.50" transform="rotate(20 270.50 547.80)" fill="#24b824" opacity="1" filter="url(#chs)"/><ellipse cx="282.60" cy="551.40" rx="2.20" ry="3.50" transform="rotate(20 282.60 551.40)" fill="#24b824" opacity="1" filter="url(#chs)"/><ellipse cx="274.80" cy="554.90" rx="2.20" ry="3.50" transform="rotate(20 274.80 554.90)" fill="#24b824" opacity="1" filter="url(#chs)"/><ellipse cx="269.80" cy="557.10" rx="2.50" ry="3.00" transform="rotate(20 269.80 557.10)" fill="#24b824" opacity="1" filter="url(#chs)"/><ellipse cx="286.00" cy="556.40" rx="2.50" ry="3.00" transform="rotate(20 286.00 556.40)" fill="#24b824" opacity="1" filter="url(#chs)"/><ellipse cx="266.30" cy="564.10" rx="3.00" ry="2.50" transform="rotate(0 266.30 564.10)" fill="#24b824" opacity="1" filter="url(#chs)"/><ellipse cx="277.60" cy="564.10" rx="2.50" ry="3.00" transform="rotate(0 277.60 564.10)" fill="#24b824" opacity="1" filter="url(#chs)"/><ellipse cx="284.70" cy="567.00" rx="3.00" ry="2.50" transform="rotate(0 284.70 567.00)" fill="#24b824" opacity="1" filter="url(#chs)"/><ellipse cx="293.20" cy="564.90" rx="2.50" ry="3.00" transform="rotate(0 293.20 564.90)" fill="#24b824" opacity="1" filter="url(#chs)"/><rect x="262.0" y="536.2" width="34.2" height="33.9" filter="url(#tex)" opacity="0.36000000000000004"/></g><clipPath id="mc13"><rect x="262.0" y="571.1" width="34.2" height="33.9"/></clipPath><g clip-path="url(#mc13)"><rect x="262.00" y="571.10" width="34.20" height="33.90" fill="#050505" stroke="none" stroke-width="1"/><ellipse cx="271.20" cy="574.90" rx="2.50" ry="3.50" transform="rotate(20 271.20 574.90)" fill="#d81414" opacity="1" filter="url(#chs)"/><ellipse cx="281.10" cy="576.30" rx="3.00" ry="4.00" transform="rotate(20 281.10 576.30)" fill="#d81414" opacity="1" filter="url(#chs)"/><ellipse cx="288.20" cy="577.80" rx="2.50" ry="4.00" transform="rotate(20 288.20 577.80)" fill="#d81414" opacity="1" filter="url(#chs)"/><ellipse cx="270.50" cy="579.90" rx="2.50" ry="3.50" transform="rotate(20 270.50 579.90)" fill="#d81414" opacity="1" filter="url(#chs)"/><ellipse cx="279.70" cy="581.30" rx="2.50" ry="3.50" transform="rotate(20 279.70 581.30)" fill="#d81414" opacity="1" filter="url(#chs)"/><ellipse cx="288.20" cy="581.30" rx="2.50" ry="3.50" transform="rotate(20 288.20 581.30)" fill="#d81414" opacity="1" filter="url(#chs)"/><ellipse cx="282.60" cy="587.00" rx="2.50" ry="3.50" transform="rotate(20 282.60 587.00)" fill="#d81414" opacity="1" filter="url(#chs)"/><ellipse cx="270.50" cy="591.20" rx="3.00" ry="3.50" transform="rotate(20 270.50 591.20)" fill="#d81414" opacity="1" filter="url(#chs)"/><ellipse cx="286.80" cy="591.20" rx="3.00" ry="3.50" transform="rotate(0 286.80 591.20)" fill="#d81414" opacity="1" filter="url(#chs)"/><ellipse cx="266.30" cy="601.10" rx="4.00" ry="3.00" transform="rotate(0 266.30 601.10)" fill="#d81414" opacity="1" filter="url(#chs)"/><ellipse cx="278.30" cy="599.70" rx="3.00" ry="3.00" transform="rotate(0 278.30 599.70)" fill="#d81414" opacity="1" filter="url(#chs)"/><ellipse cx="284.70" cy="601.10" rx="3.50" ry="3.00" transform="rotate(0 284.70 601.10)" fill="#d81414" opacity="1" filter="url(#chs)"/><ellipse cx="293.20" cy="600.40" rx="3.00" ry="3.00" transform="rotate(0 293.20 600.40)" fill="#d81414" opacity="1" filter="url(#chs)"/><rect x="262.0" y="571.1" width="34.2" height="33.9" filter="url(#tex)" opacity="0.36000000000000004"/></g><clipPath id="mc14"><rect x="262.0" y="605.9" width="34.2" height="33.9"/></clipPath><g clip-path="url(#mc14)"><rect x="262.00" y="605.90" width="34.20" height="33.90" fill="#050505" stroke="none" stroke-width="1"/><ellipse cx="270.50" cy="610.60" rx="2.50" ry="2.50" transform="rotate(0 270.50 610.60)" fill="#1616d0" opacity="1" filter="url(#chs)"/><ellipse cx="280.40" cy="614.10" rx="2.50" ry="3.00" transform="rotate(0 280.40 614.10)" fill="#1616d0" opacity="1" filter="url(#chs)"/><ellipse cx="288.20" cy="614.80" rx="2.50" ry="3.00" transform="rotate(0 288.20 614.80)" fill="#1616d0" opacity="1" filter="url(#chs)"/><ellipse cx="274.00" cy="623.50" rx="2.50" ry="2.50" transform="rotate(0 274.00 623.50)" fill="#1616d0" opacity="1" filter="url(#chs)"/><ellipse cx="281.90" cy="620.90" rx="2.50" ry="2.50" transform="rotate(0 281.90 620.90)" fill="#1616d0" opacity="1" filter="url(#chs)"/><ellipse cx="286.00" cy="625.90" rx="2.50" ry="3.00" transform="rotate(0 286.00 625.90)" fill="#1616d0" opacity="1" filter="url(#chs)"/><ellipse cx="271.20" cy="629.60" rx="2.50" ry="2.50" transform="rotate(0 271.20 629.60)" fill="#1616d0" opacity="1" filter="url(#chs)"/><ellipse cx="278.30" cy="632.40" rx="2.50" ry="2.50" transform="rotate(0 278.30 632.40)" fill="#1616d0" opacity="1" filter="url(#chs)"/><ellipse cx="291.80" cy="633.10" rx="2.50" ry="2.50" transform="rotate(0 291.80 633.10)" fill="#1616d0" opacity="1" filter="url(#chs)"/><ellipse cx="265.50" cy="637.30" rx="2.50" ry="2.50" transform="rotate(0 265.50 637.30)" fill="#1616d0" opacity="1" filter="url(#chs)"/><ellipse cx="284.00" cy="637.30" rx="2.50" ry="2.50" transform="rotate(0 284.00 637.30)" fill="#1616d0" opacity="1" filter="url(#chs)"/><rect x="262.0" y="605.9" width="34.2" height="33.9" filter="url(#tex)" opacity="0.36000000000000004"/></g><clipPath id="mc15"><rect x="131.6" y="646.8" width="34.2" height="33.9"/></clipPath><g clip-path="url(#mc15)"><rect x="131.60" y="646.80" width="34.20" height="33.90" fill="#050505" stroke="none" stroke-width="1"/><ellipse cx="132.70" cy="658.40" rx="2.00" ry="2.50" transform="rotate(0 132.70 658.40)" fill="#1616d0" opacity="1" filter="url(#chs)"/><ellipse cx="151.20" cy="659.10" rx="2.50" ry="1.70" transform="rotate(0 151.20 659.10)" fill="#1616d0" opacity="1" filter="url(#chs)"/><ellipse cx="132.70" cy="666.20" rx="2.00" ry="2.50" transform="rotate(0 132.70 666.20)" fill="#1616d0" opacity="1" filter="url(#chs)"/><ellipse cx="144.10" cy="670.90" rx="3.00" ry="2.50" transform="rotate(0 144.10 670.90)" fill="#1616d0" opacity="1" filter="url(#chs)"/><ellipse cx="154.00" cy="670.90" rx="3.50" ry="3.00" transform="rotate(0 154.00 670.90)" fill="#1616d0" opacity="1" filter="url(#chs)"/><ellipse cx="159.60" cy="653.20" rx="2.00" ry="1.50" transform="rotate(0 159.60 653.20)" fill="#1616d0" opacity="0.5" filter="url(#chs)"/><rect x="131.6" y="646.8" width="34.2" height="33.9" filter="url(#tex)" opacity="0.36000000000000004"/></g><clipPath id="mc16"><rect x="131.6" y="681.7" width="34.2" height="33.9"/></clipPath><g clip-path="url(#mc16)"><rect x="131.60" y="681.70" width="34.20" height="33.90" fill="#050505" stroke="none" stroke-width="1"/><ellipse cx="135.60" cy="684.80" rx="3.30" ry="2.75" transform="rotate(0 135.60 684.80)" fill="#d81414" opacity="1" filter="url(#chb)"/><ellipse cx="159.00" cy="687.70" rx="4.40" ry="2.75" transform="rotate(0 159.00 687.70)" fill="#d81414" opacity="1" filter="url(#chb)"/><ellipse cx="135.60" cy="691.90" rx="4.40" ry="3.85" transform="rotate(0 135.60 691.90)" fill="#d81414" opacity="1" filter="url(#chb)"/><ellipse cx="151.20" cy="692.60" rx="4.40" ry="4.40" transform="rotate(0 151.20 692.60)" fill="#d81414" opacity="1" filter="url(#chb)"/><ellipse cx="134.20" cy="703.30" rx="3.30" ry="4.40" transform="rotate(0 134.20 703.30)" fill="#d81414" opacity="1" filter="url(#chb)"/><ellipse cx="144.10" cy="704.70" rx="4.40" ry="5.50" transform="rotate(0 144.10 704.70)" fill="#d81414" opacity="1" filter="url(#chb)"/><ellipse cx="154.70" cy="706.10" rx="4.40" ry="6.60" transform="rotate(0 154.70 706.10)" fill="#d81414" opacity="1" filter="url(#chb)"/><ellipse cx="160.40" cy="691.90" rx="3.30" ry="3.30" transform="rotate(0 160.40 691.90)" fill="#d81414" opacity="1" filter="url(#chb)"/><ellipse cx="146.60" cy="685.70" rx="3.30" ry="2.20" transform="rotate(0 146.60 685.70)" fill="#d81414" opacity="0.6" filter="url(#chb)"/><rect x="131.6" y="681.7" width="34.2" height="33.9" filter="url(#tex)" opacity="0.36000000000000004"/></g><clipPath id="mc17"><rect x="131.6" y="716.5" width="34.2" height="33.9"/></clipPath><g clip-path="url(#mc17)"><rect x="131.60" y="716.50" width="34.20" height="33.90" fill="#050505" stroke="none" stroke-width="1"/><ellipse cx="135.60" cy="724.00" rx="3.30" ry="2.20" transform="rotate(0 135.60 724.00)" fill="#24b824" opacity="0.4" filter="url(#chb)"/><ellipse cx="145.50" cy="728.30" rx="3.30" ry="2.75" transform="rotate(0 145.50 728.30)" fill="#24b824" opacity="1" filter="url(#chb)"/><ellipse cx="161.80" cy="727.60" rx="4.40" ry="3.30" transform="rotate(0 161.80 727.60)" fill="#24b824" opacity="1" filter="url(#chb)"/><ellipse cx="155.40" cy="730.40" rx="3.30" ry="3.30" transform="rotate(0 155.40 730.40)" fill="#24b824" opacity="0.7" filter="url(#chb)"/><ellipse cx="142.00" cy="739.70" rx="4.40" ry="4.40" transform="rotate(0 142.00 739.70)" fill="#24b824" opacity="1" filter="url(#chb)"/><ellipse cx="151.90" cy="740.40" rx="3.85" ry="3.85" transform="rotate(0 151.90 740.40)" fill="#24b824" opacity="1" filter="url(#chb)"/><ellipse cx="163.20" cy="737.50" rx="2.75" ry="3.30" transform="rotate(0 163.20 737.50)" fill="#24b824" opacity="1" filter="url(#chb)"/><rect x="131.6" y="716.5" width="34.2" height="33.9" filter="url(#tex)" opacity="0.36000000000000004"/></g><clipPath id="mc18"><rect x="262.0" y="646.8" width="34.2" height="33.9"/></clipPath><g clip-path="url(#mc18)"><rect x="262.00" y="646.80" width="34.20" height="33.90" fill="#050505" stroke="none" stroke-width="1"/><ellipse cx="265.50" cy="662.00" rx="2.50" ry="3.00" transform="rotate(0 265.50 662.00)" fill="#1616d0" opacity="1" filter="url(#chs)"/><ellipse cx="289.00" cy="656.30" rx="3.00" ry="3.00" transform="rotate(0 289.00 656.30)" fill="#1616d0" opacity="1" filter="url(#chs)"/><ellipse cx="281.90" cy="670.50" rx="2.50" ry="2.50" transform="rotate(0 281.90 670.50)" fill="#1616d0" opacity="1" filter="url(#chs)"/><ellipse cx="271.20" cy="676.80" rx="3.00" ry="2.00" transform="rotate(0 271.20 676.80)" fill="#1616d0" opacity="0.5" filter="url(#chs)"/><rect x="262.0" y="646.8" width="34.2" height="33.9" filter="url(#tex)" opacity="0.36000000000000004"/></g><clipPath id="mc19"><rect x="262.0" y="681.7" width="34.2" height="33.9"/></clipPath><g clip-path="url(#mc19)"><rect x="262.00" y="681.70" width="34.20" height="33.90" fill="#050505" stroke="none" stroke-width="1"/><ellipse cx="265.50" cy="694.70" rx="3.00" ry="6.00" transform="rotate(0 265.50 694.70)" fill="#d81414" opacity="1" filter="url(#chs)"/><ellipse cx="289.00" cy="692.70" rx="3.50" ry="7.00" transform="rotate(0 289.00 692.70)" fill="#d81414" opacity="1" filter="url(#chs)"/><ellipse cx="281.90" cy="705.40" rx="3.50" ry="3.50" transform="rotate(0 281.90 705.40)" fill="#d81414" opacity="1" filter="url(#chs)"/><ellipse cx="269.80" cy="710.30" rx="3.00" ry="4.00" transform="rotate(0 269.80 710.30)" fill="#d81414" opacity="1" filter="url(#chs)"/><ellipse cx="274.00" cy="711.00" rx="3.00" ry="3.50" transform="rotate(0 274.00 711.00)" fill="#d81414" opacity="1" filter="url(#chs)"/><ellipse cx="293.20" cy="686.20" rx="2.00" ry="4.00" transform="rotate(0 293.20 686.20)" fill="#d81414" opacity="1" filter="url(#chs)"/><rect x="262.0" y="681.7" width="34.2" height="33.9" filter="url(#tex)" opacity="0.36000000000000004"/></g><clipPath id="mc20"><rect x="262.0" y="716.5" width="34.2" height="33.9"/></clipPath><g clip-path="url(#mc20)"><rect x="262.00" y="716.50" width="34.20" height="33.90" fill="#050505" stroke="none" stroke-width="1"/><ellipse cx="266.30" cy="731.10" rx="2.50" ry="4.00" transform="rotate(0 266.30 731.10)" fill="#24b824" opacity="1" filter="url(#chs)"/><ellipse cx="289.00" cy="726.10" rx="3.00" ry="3.00" transform="rotate(0 289.00 726.10)" fill="#24b824" opacity="1" filter="url(#chs)"/><ellipse cx="281.10" cy="740.30" rx="3.00" ry="2.50" transform="rotate(0 281.10 740.30)" fill="#24b824" opacity="1" filter="url(#chs)"/><ellipse cx="274.00" cy="746.00" rx="2.50" ry="2.50" transform="rotate(0 274.00 746.00)" fill="#24b824" opacity="1" filter="url(#chs)"/><ellipse cx="293.20" cy="744.50" rx="2.50" ry="2.50" transform="rotate(0 293.20 744.50)" fill="#24b824" opacity="1" filter="url(#chs)"/><ellipse cx="293.20" cy="718.30" rx="2.00" ry="2.00" transform="rotate(0 293.20 718.30)" fill="#24b824" opacity="1" filter="url(#chs)"/><rect x="262.0" y="716.5" width="34.2" height="33.9" filter="url(#tex)" opacity="0.36000000000000004"/></g><rect x="287.50" y="676.60" width="7.00" height="2.00" fill="#e8c020" stroke="none" stroke-width="1"/><rect x="287.50" y="709.30" width="7.00" height="2.00" fill="#e8c020" stroke="none" stroke-width="1"/><rect x="287.50" y="747.10" width="7.00" height="2.00" fill="#e8c020" stroke="none" stroke-width="1"/></svg>
</body></html>
